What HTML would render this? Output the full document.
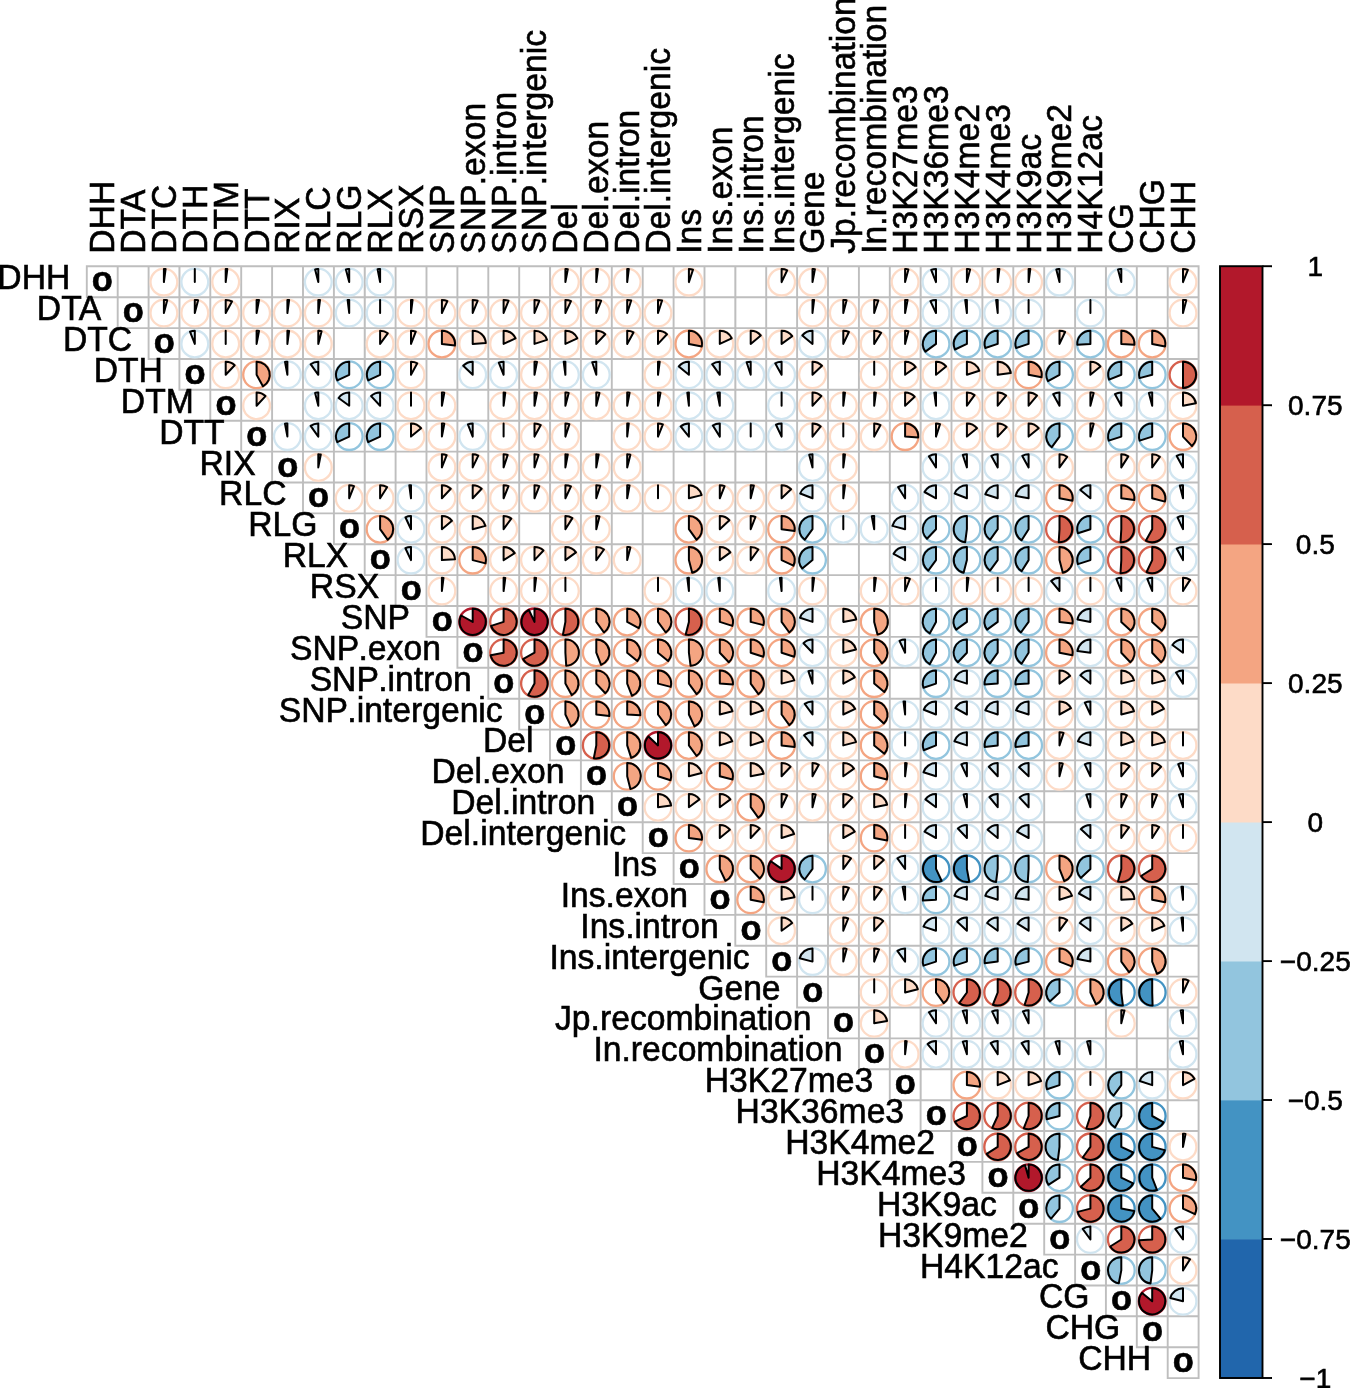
<!DOCTYPE html>
<html><head><meta charset="utf-8"><title>corrplot</title>
<style>html,body{margin:0;padding:0;background:#fff}svg{display:block;will-change:transform}text{font-family:"Liberation Sans",sans-serif;fill:#000;stroke:#000;stroke-width:0.6px;font-kerning:none}</style></head><body>
<svg width="1350" height="1388" viewBox="0 0 1350 1388">
<rect width="1350" height="1388" fill="#fff"/>
<path d="M86.8 266.3h30.9v30.9h-30.9zM117.7 266.3h30.9v30.9h-30.9zM148.6 266.3h30.9v30.9h-30.9zM179.4 266.3h30.9v30.9h-30.9zM210.3 266.3h30.9v30.9h-30.9zM241.2 266.3h30.9v30.9h-30.9zM272.1 266.3h30.9v30.9h-30.9zM303.0 266.3h30.9v30.9h-30.9zM333.9 266.3h30.9v30.9h-30.9zM364.7 266.3h30.9v30.9h-30.9zM395.6 266.3h30.9v30.9h-30.9zM426.5 266.3h30.9v30.9h-30.9zM457.4 266.3h30.9v30.9h-30.9zM488.3 266.3h30.9v30.9h-30.9zM519.2 266.3h30.9v30.9h-30.9zM550.0 266.3h30.9v30.9h-30.9zM580.9 266.3h30.9v30.9h-30.9zM611.8 266.3h30.9v30.9h-30.9zM642.7 266.3h30.9v30.9h-30.9zM673.6 266.3h30.9v30.9h-30.9zM704.5 266.3h30.9v30.9h-30.9zM735.3 266.3h30.9v30.9h-30.9zM766.2 266.3h30.9v30.9h-30.9zM797.1 266.3h30.9v30.9h-30.9zM828.0 266.3h30.9v30.9h-30.9zM858.9 266.3h30.9v30.9h-30.9zM889.8 266.3h30.9v30.9h-30.9zM920.6 266.3h30.9v30.9h-30.9zM951.5 266.3h30.9v30.9h-30.9zM982.4 266.3h30.9v30.9h-30.9zM1013.3 266.3h30.9v30.9h-30.9zM1044.2 266.3h30.9v30.9h-30.9zM1075.1 266.3h30.9v30.9h-30.9zM1105.9 266.3h30.9v30.9h-30.9zM1136.8 266.3h30.9v30.9h-30.9zM1167.7 266.3h30.9v30.9h-30.9zM117.7 297.2h30.9v30.9h-30.9zM148.6 297.2h30.9v30.9h-30.9zM179.4 297.2h30.9v30.9h-30.9zM210.3 297.2h30.9v30.9h-30.9zM241.2 297.2h30.9v30.9h-30.9zM272.1 297.2h30.9v30.9h-30.9zM303.0 297.2h30.9v30.9h-30.9zM333.9 297.2h30.9v30.9h-30.9zM364.7 297.2h30.9v30.9h-30.9zM395.6 297.2h30.9v30.9h-30.9zM426.5 297.2h30.9v30.9h-30.9zM457.4 297.2h30.9v30.9h-30.9zM488.3 297.2h30.9v30.9h-30.9zM519.2 297.2h30.9v30.9h-30.9zM550.0 297.2h30.9v30.9h-30.9zM580.9 297.2h30.9v30.9h-30.9zM611.8 297.2h30.9v30.9h-30.9zM642.7 297.2h30.9v30.9h-30.9zM673.6 297.2h30.9v30.9h-30.9zM704.5 297.2h30.9v30.9h-30.9zM735.3 297.2h30.9v30.9h-30.9zM766.2 297.2h30.9v30.9h-30.9zM797.1 297.2h30.9v30.9h-30.9zM828.0 297.2h30.9v30.9h-30.9zM858.9 297.2h30.9v30.9h-30.9zM889.8 297.2h30.9v30.9h-30.9zM920.6 297.2h30.9v30.9h-30.9zM951.5 297.2h30.9v30.9h-30.9zM982.4 297.2h30.9v30.9h-30.9zM1013.3 297.2h30.9v30.9h-30.9zM1044.2 297.2h30.9v30.9h-30.9zM1075.1 297.2h30.9v30.9h-30.9zM1105.9 297.2h30.9v30.9h-30.9zM1136.8 297.2h30.9v30.9h-30.9zM1167.7 297.2h30.9v30.9h-30.9zM148.6 328.1h30.9v30.9h-30.9zM179.4 328.1h30.9v30.9h-30.9zM210.3 328.1h30.9v30.9h-30.9zM241.2 328.1h30.9v30.9h-30.9zM272.1 328.1h30.9v30.9h-30.9zM303.0 328.1h30.9v30.9h-30.9zM333.9 328.1h30.9v30.9h-30.9zM364.7 328.1h30.9v30.9h-30.9zM395.6 328.1h30.9v30.9h-30.9zM426.5 328.1h30.9v30.9h-30.9zM457.4 328.1h30.9v30.9h-30.9zM488.3 328.1h30.9v30.9h-30.9zM519.2 328.1h30.9v30.9h-30.9zM550.0 328.1h30.9v30.9h-30.9zM580.9 328.1h30.9v30.9h-30.9zM611.8 328.1h30.9v30.9h-30.9zM642.7 328.1h30.9v30.9h-30.9zM673.6 328.1h30.9v30.9h-30.9zM704.5 328.1h30.9v30.9h-30.9zM735.3 328.1h30.9v30.9h-30.9zM766.2 328.1h30.9v30.9h-30.9zM797.1 328.1h30.9v30.9h-30.9zM828.0 328.1h30.9v30.9h-30.9zM858.9 328.1h30.9v30.9h-30.9zM889.8 328.1h30.9v30.9h-30.9zM920.6 328.1h30.9v30.9h-30.9zM951.5 328.1h30.9v30.9h-30.9zM982.4 328.1h30.9v30.9h-30.9zM1013.3 328.1h30.9v30.9h-30.9zM1044.2 328.1h30.9v30.9h-30.9zM1075.1 328.1h30.9v30.9h-30.9zM1105.9 328.1h30.9v30.9h-30.9zM1136.8 328.1h30.9v30.9h-30.9zM1167.7 328.1h30.9v30.9h-30.9zM179.4 358.9h30.9v30.9h-30.9zM210.3 358.9h30.9v30.9h-30.9zM241.2 358.9h30.9v30.9h-30.9zM272.1 358.9h30.9v30.9h-30.9zM303.0 358.9h30.9v30.9h-30.9zM333.9 358.9h30.9v30.9h-30.9zM364.7 358.9h30.9v30.9h-30.9zM395.6 358.9h30.9v30.9h-30.9zM426.5 358.9h30.9v30.9h-30.9zM457.4 358.9h30.9v30.9h-30.9zM488.3 358.9h30.9v30.9h-30.9zM519.2 358.9h30.9v30.9h-30.9zM550.0 358.9h30.9v30.9h-30.9zM580.9 358.9h30.9v30.9h-30.9zM611.8 358.9h30.9v30.9h-30.9zM642.7 358.9h30.9v30.9h-30.9zM673.6 358.9h30.9v30.9h-30.9zM704.5 358.9h30.9v30.9h-30.9zM735.3 358.9h30.9v30.9h-30.9zM766.2 358.9h30.9v30.9h-30.9zM797.1 358.9h30.9v30.9h-30.9zM828.0 358.9h30.9v30.9h-30.9zM858.9 358.9h30.9v30.9h-30.9zM889.8 358.9h30.9v30.9h-30.9zM920.6 358.9h30.9v30.9h-30.9zM951.5 358.9h30.9v30.9h-30.9zM982.4 358.9h30.9v30.9h-30.9zM1013.3 358.9h30.9v30.9h-30.9zM1044.2 358.9h30.9v30.9h-30.9zM1075.1 358.9h30.9v30.9h-30.9zM1105.9 358.9h30.9v30.9h-30.9zM1136.8 358.9h30.9v30.9h-30.9zM1167.7 358.9h30.9v30.9h-30.9zM210.3 389.8h30.9v30.9h-30.9zM241.2 389.8h30.9v30.9h-30.9zM272.1 389.8h30.9v30.9h-30.9zM303.0 389.8h30.9v30.9h-30.9zM333.9 389.8h30.9v30.9h-30.9zM364.7 389.8h30.9v30.9h-30.9zM395.6 389.8h30.9v30.9h-30.9zM426.5 389.8h30.9v30.9h-30.9zM457.4 389.8h30.9v30.9h-30.9zM488.3 389.8h30.9v30.9h-30.9zM519.2 389.8h30.9v30.9h-30.9zM550.0 389.8h30.9v30.9h-30.9zM580.9 389.8h30.9v30.9h-30.9zM611.8 389.8h30.9v30.9h-30.9zM642.7 389.8h30.9v30.9h-30.9zM673.6 389.8h30.9v30.9h-30.9zM704.5 389.8h30.9v30.9h-30.9zM735.3 389.8h30.9v30.9h-30.9zM766.2 389.8h30.9v30.9h-30.9zM797.1 389.8h30.9v30.9h-30.9zM828.0 389.8h30.9v30.9h-30.9zM858.9 389.8h30.9v30.9h-30.9zM889.8 389.8h30.9v30.9h-30.9zM920.6 389.8h30.9v30.9h-30.9zM951.5 389.8h30.9v30.9h-30.9zM982.4 389.8h30.9v30.9h-30.9zM1013.3 389.8h30.9v30.9h-30.9zM1044.2 389.8h30.9v30.9h-30.9zM1075.1 389.8h30.9v30.9h-30.9zM1105.9 389.8h30.9v30.9h-30.9zM1136.8 389.8h30.9v30.9h-30.9zM1167.7 389.8h30.9v30.9h-30.9zM241.2 420.7h30.9v30.9h-30.9zM272.1 420.7h30.9v30.9h-30.9zM303.0 420.7h30.9v30.9h-30.9zM333.9 420.7h30.9v30.9h-30.9zM364.7 420.7h30.9v30.9h-30.9zM395.6 420.7h30.9v30.9h-30.9zM426.5 420.7h30.9v30.9h-30.9zM457.4 420.7h30.9v30.9h-30.9zM488.3 420.7h30.9v30.9h-30.9zM519.2 420.7h30.9v30.9h-30.9zM550.0 420.7h30.9v30.9h-30.9zM580.9 420.7h30.9v30.9h-30.9zM611.8 420.7h30.9v30.9h-30.9zM642.7 420.7h30.9v30.9h-30.9zM673.6 420.7h30.9v30.9h-30.9zM704.5 420.7h30.9v30.9h-30.9zM735.3 420.7h30.9v30.9h-30.9zM766.2 420.7h30.9v30.9h-30.9zM797.1 420.7h30.9v30.9h-30.9zM828.0 420.7h30.9v30.9h-30.9zM858.9 420.7h30.9v30.9h-30.9zM889.8 420.7h30.9v30.9h-30.9zM920.6 420.7h30.9v30.9h-30.9zM951.5 420.7h30.9v30.9h-30.9zM982.4 420.7h30.9v30.9h-30.9zM1013.3 420.7h30.9v30.9h-30.9zM1044.2 420.7h30.9v30.9h-30.9zM1075.1 420.7h30.9v30.9h-30.9zM1105.9 420.7h30.9v30.9h-30.9zM1136.8 420.7h30.9v30.9h-30.9zM1167.7 420.7h30.9v30.9h-30.9zM272.1 451.6h30.9v30.9h-30.9zM303.0 451.6h30.9v30.9h-30.9zM333.9 451.6h30.9v30.9h-30.9zM364.7 451.6h30.9v30.9h-30.9zM395.6 451.6h30.9v30.9h-30.9zM426.5 451.6h30.9v30.9h-30.9zM457.4 451.6h30.9v30.9h-30.9zM488.3 451.6h30.9v30.9h-30.9zM519.2 451.6h30.9v30.9h-30.9zM550.0 451.6h30.9v30.9h-30.9zM580.9 451.6h30.9v30.9h-30.9zM611.8 451.6h30.9v30.9h-30.9zM642.7 451.6h30.9v30.9h-30.9zM673.6 451.6h30.9v30.9h-30.9zM704.5 451.6h30.9v30.9h-30.9zM735.3 451.6h30.9v30.9h-30.9zM766.2 451.6h30.9v30.9h-30.9zM797.1 451.6h30.9v30.9h-30.9zM828.0 451.6h30.9v30.9h-30.9zM858.9 451.6h30.9v30.9h-30.9zM889.8 451.6h30.9v30.9h-30.9zM920.6 451.6h30.9v30.9h-30.9zM951.5 451.6h30.9v30.9h-30.9zM982.4 451.6h30.9v30.9h-30.9zM1013.3 451.6h30.9v30.9h-30.9zM1044.2 451.6h30.9v30.9h-30.9zM1075.1 451.6h30.9v30.9h-30.9zM1105.9 451.6h30.9v30.9h-30.9zM1136.8 451.6h30.9v30.9h-30.9zM1167.7 451.6h30.9v30.9h-30.9zM303.0 482.5h30.9v30.9h-30.9zM333.9 482.5h30.9v30.9h-30.9zM364.7 482.5h30.9v30.9h-30.9zM395.6 482.5h30.9v30.9h-30.9zM426.5 482.5h30.9v30.9h-30.9zM457.4 482.5h30.9v30.9h-30.9zM488.3 482.5h30.9v30.9h-30.9zM519.2 482.5h30.9v30.9h-30.9zM550.0 482.5h30.9v30.9h-30.9zM580.9 482.5h30.9v30.9h-30.9zM611.8 482.5h30.9v30.9h-30.9zM642.7 482.5h30.9v30.9h-30.9zM673.6 482.5h30.9v30.9h-30.9zM704.5 482.5h30.9v30.9h-30.9zM735.3 482.5h30.9v30.9h-30.9zM766.2 482.5h30.9v30.9h-30.9zM797.1 482.5h30.9v30.9h-30.9zM828.0 482.5h30.9v30.9h-30.9zM858.9 482.5h30.9v30.9h-30.9zM889.8 482.5h30.9v30.9h-30.9zM920.6 482.5h30.9v30.9h-30.9zM951.5 482.5h30.9v30.9h-30.9zM982.4 482.5h30.9v30.9h-30.9zM1013.3 482.5h30.9v30.9h-30.9zM1044.2 482.5h30.9v30.9h-30.9zM1075.1 482.5h30.9v30.9h-30.9zM1105.9 482.5h30.9v30.9h-30.9zM1136.8 482.5h30.9v30.9h-30.9zM1167.7 482.5h30.9v30.9h-30.9zM333.9 513.4h30.9v30.9h-30.9zM364.7 513.4h30.9v30.9h-30.9zM395.6 513.4h30.9v30.9h-30.9zM426.5 513.4h30.9v30.9h-30.9zM457.4 513.4h30.9v30.9h-30.9zM488.3 513.4h30.9v30.9h-30.9zM519.2 513.4h30.9v30.9h-30.9zM550.0 513.4h30.9v30.9h-30.9zM580.9 513.4h30.9v30.9h-30.9zM611.8 513.4h30.9v30.9h-30.9zM642.7 513.4h30.9v30.9h-30.9zM673.6 513.4h30.9v30.9h-30.9zM704.5 513.4h30.9v30.9h-30.9zM735.3 513.4h30.9v30.9h-30.9zM766.2 513.4h30.9v30.9h-30.9zM797.1 513.4h30.9v30.9h-30.9zM828.0 513.4h30.9v30.9h-30.9zM858.9 513.4h30.9v30.9h-30.9zM889.8 513.4h30.9v30.9h-30.9zM920.6 513.4h30.9v30.9h-30.9zM951.5 513.4h30.9v30.9h-30.9zM982.4 513.4h30.9v30.9h-30.9zM1013.3 513.4h30.9v30.9h-30.9zM1044.2 513.4h30.9v30.9h-30.9zM1075.1 513.4h30.9v30.9h-30.9zM1105.9 513.4h30.9v30.9h-30.9zM1136.8 513.4h30.9v30.9h-30.9zM1167.7 513.4h30.9v30.9h-30.9zM364.7 544.2h30.9v30.9h-30.9zM395.6 544.2h30.9v30.9h-30.9zM426.5 544.2h30.9v30.9h-30.9zM457.4 544.2h30.9v30.9h-30.9zM488.3 544.2h30.9v30.9h-30.9zM519.2 544.2h30.9v30.9h-30.9zM550.0 544.2h30.9v30.9h-30.9zM580.9 544.2h30.9v30.9h-30.9zM611.8 544.2h30.9v30.9h-30.9zM642.7 544.2h30.9v30.9h-30.9zM673.6 544.2h30.9v30.9h-30.9zM704.5 544.2h30.9v30.9h-30.9zM735.3 544.2h30.9v30.9h-30.9zM766.2 544.2h30.9v30.9h-30.9zM797.1 544.2h30.9v30.9h-30.9zM828.0 544.2h30.9v30.9h-30.9zM858.9 544.2h30.9v30.9h-30.9zM889.8 544.2h30.9v30.9h-30.9zM920.6 544.2h30.9v30.9h-30.9zM951.5 544.2h30.9v30.9h-30.9zM982.4 544.2h30.9v30.9h-30.9zM1013.3 544.2h30.9v30.9h-30.9zM1044.2 544.2h30.9v30.9h-30.9zM1075.1 544.2h30.9v30.9h-30.9zM1105.9 544.2h30.9v30.9h-30.9zM1136.8 544.2h30.9v30.9h-30.9zM1167.7 544.2h30.9v30.9h-30.9zM395.6 575.1h30.9v30.9h-30.9zM426.5 575.1h30.9v30.9h-30.9zM457.4 575.1h30.9v30.9h-30.9zM488.3 575.1h30.9v30.9h-30.9zM519.2 575.1h30.9v30.9h-30.9zM550.0 575.1h30.9v30.9h-30.9zM580.9 575.1h30.9v30.9h-30.9zM611.8 575.1h30.9v30.9h-30.9zM642.7 575.1h30.9v30.9h-30.9zM673.6 575.1h30.9v30.9h-30.9zM704.5 575.1h30.9v30.9h-30.9zM735.3 575.1h30.9v30.9h-30.9zM766.2 575.1h30.9v30.9h-30.9zM797.1 575.1h30.9v30.9h-30.9zM828.0 575.1h30.9v30.9h-30.9zM858.9 575.1h30.9v30.9h-30.9zM889.8 575.1h30.9v30.9h-30.9zM920.6 575.1h30.9v30.9h-30.9zM951.5 575.1h30.9v30.9h-30.9zM982.4 575.1h30.9v30.9h-30.9zM1013.3 575.1h30.9v30.9h-30.9zM1044.2 575.1h30.9v30.9h-30.9zM1075.1 575.1h30.9v30.9h-30.9zM1105.9 575.1h30.9v30.9h-30.9zM1136.8 575.1h30.9v30.9h-30.9zM1167.7 575.1h30.9v30.9h-30.9zM426.5 606.0h30.9v30.9h-30.9zM457.4 606.0h30.9v30.9h-30.9zM488.3 606.0h30.9v30.9h-30.9zM519.2 606.0h30.9v30.9h-30.9zM550.0 606.0h30.9v30.9h-30.9zM580.9 606.0h30.9v30.9h-30.9zM611.8 606.0h30.9v30.9h-30.9zM642.7 606.0h30.9v30.9h-30.9zM673.6 606.0h30.9v30.9h-30.9zM704.5 606.0h30.9v30.9h-30.9zM735.3 606.0h30.9v30.9h-30.9zM766.2 606.0h30.9v30.9h-30.9zM797.1 606.0h30.9v30.9h-30.9zM828.0 606.0h30.9v30.9h-30.9zM858.9 606.0h30.9v30.9h-30.9zM889.8 606.0h30.9v30.9h-30.9zM920.6 606.0h30.9v30.9h-30.9zM951.5 606.0h30.9v30.9h-30.9zM982.4 606.0h30.9v30.9h-30.9zM1013.3 606.0h30.9v30.9h-30.9zM1044.2 606.0h30.9v30.9h-30.9zM1075.1 606.0h30.9v30.9h-30.9zM1105.9 606.0h30.9v30.9h-30.9zM1136.8 606.0h30.9v30.9h-30.9zM1167.7 606.0h30.9v30.9h-30.9zM457.4 636.9h30.9v30.9h-30.9zM488.3 636.9h30.9v30.9h-30.9zM519.2 636.9h30.9v30.9h-30.9zM550.0 636.9h30.9v30.9h-30.9zM580.9 636.9h30.9v30.9h-30.9zM611.8 636.9h30.9v30.9h-30.9zM642.7 636.9h30.9v30.9h-30.9zM673.6 636.9h30.9v30.9h-30.9zM704.5 636.9h30.9v30.9h-30.9zM735.3 636.9h30.9v30.9h-30.9zM766.2 636.9h30.9v30.9h-30.9zM797.1 636.9h30.9v30.9h-30.9zM828.0 636.9h30.9v30.9h-30.9zM858.9 636.9h30.9v30.9h-30.9zM889.8 636.9h30.9v30.9h-30.9zM920.6 636.9h30.9v30.9h-30.9zM951.5 636.9h30.9v30.9h-30.9zM982.4 636.9h30.9v30.9h-30.9zM1013.3 636.9h30.9v30.9h-30.9zM1044.2 636.9h30.9v30.9h-30.9zM1075.1 636.9h30.9v30.9h-30.9zM1105.9 636.9h30.9v30.9h-30.9zM1136.8 636.9h30.9v30.9h-30.9zM1167.7 636.9h30.9v30.9h-30.9zM488.3 667.8h30.9v30.9h-30.9zM519.2 667.8h30.9v30.9h-30.9zM550.0 667.8h30.9v30.9h-30.9zM580.9 667.8h30.9v30.9h-30.9zM611.8 667.8h30.9v30.9h-30.9zM642.7 667.8h30.9v30.9h-30.9zM673.6 667.8h30.9v30.9h-30.9zM704.5 667.8h30.9v30.9h-30.9zM735.3 667.8h30.9v30.9h-30.9zM766.2 667.8h30.9v30.9h-30.9zM797.1 667.8h30.9v30.9h-30.9zM828.0 667.8h30.9v30.9h-30.9zM858.9 667.8h30.9v30.9h-30.9zM889.8 667.8h30.9v30.9h-30.9zM920.6 667.8h30.9v30.9h-30.9zM951.5 667.8h30.9v30.9h-30.9zM982.4 667.8h30.9v30.9h-30.9zM1013.3 667.8h30.9v30.9h-30.9zM1044.2 667.8h30.9v30.9h-30.9zM1075.1 667.8h30.9v30.9h-30.9zM1105.9 667.8h30.9v30.9h-30.9zM1136.8 667.8h30.9v30.9h-30.9zM1167.7 667.8h30.9v30.9h-30.9zM519.2 698.7h30.9v30.9h-30.9zM550.0 698.7h30.9v30.9h-30.9zM580.9 698.7h30.9v30.9h-30.9zM611.8 698.7h30.9v30.9h-30.9zM642.7 698.7h30.9v30.9h-30.9zM673.6 698.7h30.9v30.9h-30.9zM704.5 698.7h30.9v30.9h-30.9zM735.3 698.7h30.9v30.9h-30.9zM766.2 698.7h30.9v30.9h-30.9zM797.1 698.7h30.9v30.9h-30.9zM828.0 698.7h30.9v30.9h-30.9zM858.9 698.7h30.9v30.9h-30.9zM889.8 698.7h30.9v30.9h-30.9zM920.6 698.7h30.9v30.9h-30.9zM951.5 698.7h30.9v30.9h-30.9zM982.4 698.7h30.9v30.9h-30.9zM1013.3 698.7h30.9v30.9h-30.9zM1044.2 698.7h30.9v30.9h-30.9zM1075.1 698.7h30.9v30.9h-30.9zM1105.9 698.7h30.9v30.9h-30.9zM1136.8 698.7h30.9v30.9h-30.9zM1167.7 698.7h30.9v30.9h-30.9zM550.0 729.5h30.9v30.9h-30.9zM580.9 729.5h30.9v30.9h-30.9zM611.8 729.5h30.9v30.9h-30.9zM642.7 729.5h30.9v30.9h-30.9zM673.6 729.5h30.9v30.9h-30.9zM704.5 729.5h30.9v30.9h-30.9zM735.3 729.5h30.9v30.9h-30.9zM766.2 729.5h30.9v30.9h-30.9zM797.1 729.5h30.9v30.9h-30.9zM828.0 729.5h30.9v30.9h-30.9zM858.9 729.5h30.9v30.9h-30.9zM889.8 729.5h30.9v30.9h-30.9zM920.6 729.5h30.9v30.9h-30.9zM951.5 729.5h30.9v30.9h-30.9zM982.4 729.5h30.9v30.9h-30.9zM1013.3 729.5h30.9v30.9h-30.9zM1044.2 729.5h30.9v30.9h-30.9zM1075.1 729.5h30.9v30.9h-30.9zM1105.9 729.5h30.9v30.9h-30.9zM1136.8 729.5h30.9v30.9h-30.9zM1167.7 729.5h30.9v30.9h-30.9zM580.9 760.4h30.9v30.9h-30.9zM611.8 760.4h30.9v30.9h-30.9zM642.7 760.4h30.9v30.9h-30.9zM673.6 760.4h30.9v30.9h-30.9zM704.5 760.4h30.9v30.9h-30.9zM735.3 760.4h30.9v30.9h-30.9zM766.2 760.4h30.9v30.9h-30.9zM797.1 760.4h30.9v30.9h-30.9zM828.0 760.4h30.9v30.9h-30.9zM858.9 760.4h30.9v30.9h-30.9zM889.8 760.4h30.9v30.9h-30.9zM920.6 760.4h30.9v30.9h-30.9zM951.5 760.4h30.9v30.9h-30.9zM982.4 760.4h30.9v30.9h-30.9zM1013.3 760.4h30.9v30.9h-30.9zM1044.2 760.4h30.9v30.9h-30.9zM1075.1 760.4h30.9v30.9h-30.9zM1105.9 760.4h30.9v30.9h-30.9zM1136.8 760.4h30.9v30.9h-30.9zM1167.7 760.4h30.9v30.9h-30.9zM611.8 791.3h30.9v30.9h-30.9zM642.7 791.3h30.9v30.9h-30.9zM673.6 791.3h30.9v30.9h-30.9zM704.5 791.3h30.9v30.9h-30.9zM735.3 791.3h30.9v30.9h-30.9zM766.2 791.3h30.9v30.9h-30.9zM797.1 791.3h30.9v30.9h-30.9zM828.0 791.3h30.9v30.9h-30.9zM858.9 791.3h30.9v30.9h-30.9zM889.8 791.3h30.9v30.9h-30.9zM920.6 791.3h30.9v30.9h-30.9zM951.5 791.3h30.9v30.9h-30.9zM982.4 791.3h30.9v30.9h-30.9zM1013.3 791.3h30.9v30.9h-30.9zM1044.2 791.3h30.9v30.9h-30.9zM1075.1 791.3h30.9v30.9h-30.9zM1105.9 791.3h30.9v30.9h-30.9zM1136.8 791.3h30.9v30.9h-30.9zM1167.7 791.3h30.9v30.9h-30.9zM642.7 822.2h30.9v30.9h-30.9zM673.6 822.2h30.9v30.9h-30.9zM704.5 822.2h30.9v30.9h-30.9zM735.3 822.2h30.9v30.9h-30.9zM766.2 822.2h30.9v30.9h-30.9zM797.1 822.2h30.9v30.9h-30.9zM828.0 822.2h30.9v30.9h-30.9zM858.9 822.2h30.9v30.9h-30.9zM889.8 822.2h30.9v30.9h-30.9zM920.6 822.2h30.9v30.9h-30.9zM951.5 822.2h30.9v30.9h-30.9zM982.4 822.2h30.9v30.9h-30.9zM1013.3 822.2h30.9v30.9h-30.9zM1044.2 822.2h30.9v30.9h-30.9zM1075.1 822.2h30.9v30.9h-30.9zM1105.9 822.2h30.9v30.9h-30.9zM1136.8 822.2h30.9v30.9h-30.9zM1167.7 822.2h30.9v30.9h-30.9zM673.6 853.1h30.9v30.9h-30.9zM704.5 853.1h30.9v30.9h-30.9zM735.3 853.1h30.9v30.9h-30.9zM766.2 853.1h30.9v30.9h-30.9zM797.1 853.1h30.9v30.9h-30.9zM828.0 853.1h30.9v30.9h-30.9zM858.9 853.1h30.9v30.9h-30.9zM889.8 853.1h30.9v30.9h-30.9zM920.6 853.1h30.9v30.9h-30.9zM951.5 853.1h30.9v30.9h-30.9zM982.4 853.1h30.9v30.9h-30.9zM1013.3 853.1h30.9v30.9h-30.9zM1044.2 853.1h30.9v30.9h-30.9zM1075.1 853.1h30.9v30.9h-30.9zM1105.9 853.1h30.9v30.9h-30.9zM1136.8 853.1h30.9v30.9h-30.9zM1167.7 853.1h30.9v30.9h-30.9zM704.5 884.0h30.9v30.9h-30.9zM735.3 884.0h30.9v30.9h-30.9zM766.2 884.0h30.9v30.9h-30.9zM797.1 884.0h30.9v30.9h-30.9zM828.0 884.0h30.9v30.9h-30.9zM858.9 884.0h30.9v30.9h-30.9zM889.8 884.0h30.9v30.9h-30.9zM920.6 884.0h30.9v30.9h-30.9zM951.5 884.0h30.9v30.9h-30.9zM982.4 884.0h30.9v30.9h-30.9zM1013.3 884.0h30.9v30.9h-30.9zM1044.2 884.0h30.9v30.9h-30.9zM1075.1 884.0h30.9v30.9h-30.9zM1105.9 884.0h30.9v30.9h-30.9zM1136.8 884.0h30.9v30.9h-30.9zM1167.7 884.0h30.9v30.9h-30.9zM735.3 914.8h30.9v30.9h-30.9zM766.2 914.8h30.9v30.9h-30.9zM797.1 914.8h30.9v30.9h-30.9zM828.0 914.8h30.9v30.9h-30.9zM858.9 914.8h30.9v30.9h-30.9zM889.8 914.8h30.9v30.9h-30.9zM920.6 914.8h30.9v30.9h-30.9zM951.5 914.8h30.9v30.9h-30.9zM982.4 914.8h30.9v30.9h-30.9zM1013.3 914.8h30.9v30.9h-30.9zM1044.2 914.8h30.9v30.9h-30.9zM1075.1 914.8h30.9v30.9h-30.9zM1105.9 914.8h30.9v30.9h-30.9zM1136.8 914.8h30.9v30.9h-30.9zM1167.7 914.8h30.9v30.9h-30.9zM766.2 945.7h30.9v30.9h-30.9zM797.1 945.7h30.9v30.9h-30.9zM828.0 945.7h30.9v30.9h-30.9zM858.9 945.7h30.9v30.9h-30.9zM889.8 945.7h30.9v30.9h-30.9zM920.6 945.7h30.9v30.9h-30.9zM951.5 945.7h30.9v30.9h-30.9zM982.4 945.7h30.9v30.9h-30.9zM1013.3 945.7h30.9v30.9h-30.9zM1044.2 945.7h30.9v30.9h-30.9zM1075.1 945.7h30.9v30.9h-30.9zM1105.9 945.7h30.9v30.9h-30.9zM1136.8 945.7h30.9v30.9h-30.9zM1167.7 945.7h30.9v30.9h-30.9zM797.1 976.6h30.9v30.9h-30.9zM828.0 976.6h30.9v30.9h-30.9zM858.9 976.6h30.9v30.9h-30.9zM889.8 976.6h30.9v30.9h-30.9zM920.6 976.6h30.9v30.9h-30.9zM951.5 976.6h30.9v30.9h-30.9zM982.4 976.6h30.9v30.9h-30.9zM1013.3 976.6h30.9v30.9h-30.9zM1044.2 976.6h30.9v30.9h-30.9zM1075.1 976.6h30.9v30.9h-30.9zM1105.9 976.6h30.9v30.9h-30.9zM1136.8 976.6h30.9v30.9h-30.9zM1167.7 976.6h30.9v30.9h-30.9zM828.0 1007.5h30.9v30.9h-30.9zM858.9 1007.5h30.9v30.9h-30.9zM889.8 1007.5h30.9v30.9h-30.9zM920.6 1007.5h30.9v30.9h-30.9zM951.5 1007.5h30.9v30.9h-30.9zM982.4 1007.5h30.9v30.9h-30.9zM1013.3 1007.5h30.9v30.9h-30.9zM1044.2 1007.5h30.9v30.9h-30.9zM1075.1 1007.5h30.9v30.9h-30.9zM1105.9 1007.5h30.9v30.9h-30.9zM1136.8 1007.5h30.9v30.9h-30.9zM1167.7 1007.5h30.9v30.9h-30.9zM858.9 1038.4h30.9v30.9h-30.9zM889.8 1038.4h30.9v30.9h-30.9zM920.6 1038.4h30.9v30.9h-30.9zM951.5 1038.4h30.9v30.9h-30.9zM982.4 1038.4h30.9v30.9h-30.9zM1013.3 1038.4h30.9v30.9h-30.9zM1044.2 1038.4h30.9v30.9h-30.9zM1075.1 1038.4h30.9v30.9h-30.9zM1105.9 1038.4h30.9v30.9h-30.9zM1136.8 1038.4h30.9v30.9h-30.9zM1167.7 1038.4h30.9v30.9h-30.9zM889.8 1069.3h30.9v30.9h-30.9zM920.6 1069.3h30.9v30.9h-30.9zM951.5 1069.3h30.9v30.9h-30.9zM982.4 1069.3h30.9v30.9h-30.9zM1013.3 1069.3h30.9v30.9h-30.9zM1044.2 1069.3h30.9v30.9h-30.9zM1075.1 1069.3h30.9v30.9h-30.9zM1105.9 1069.3h30.9v30.9h-30.9zM1136.8 1069.3h30.9v30.9h-30.9zM1167.7 1069.3h30.9v30.9h-30.9zM920.6 1100.1h30.9v30.9h-30.9zM951.5 1100.1h30.9v30.9h-30.9zM982.4 1100.1h30.9v30.9h-30.9zM1013.3 1100.1h30.9v30.9h-30.9zM1044.2 1100.1h30.9v30.9h-30.9zM1075.1 1100.1h30.9v30.9h-30.9zM1105.9 1100.1h30.9v30.9h-30.9zM1136.8 1100.1h30.9v30.9h-30.9zM1167.7 1100.1h30.9v30.9h-30.9zM951.5 1131.0h30.9v30.9h-30.9zM982.4 1131.0h30.9v30.9h-30.9zM1013.3 1131.0h30.9v30.9h-30.9zM1044.2 1131.0h30.9v30.9h-30.9zM1075.1 1131.0h30.9v30.9h-30.9zM1105.9 1131.0h30.9v30.9h-30.9zM1136.8 1131.0h30.9v30.9h-30.9zM1167.7 1131.0h30.9v30.9h-30.9zM982.4 1161.9h30.9v30.9h-30.9zM1013.3 1161.9h30.9v30.9h-30.9zM1044.2 1161.9h30.9v30.9h-30.9zM1075.1 1161.9h30.9v30.9h-30.9zM1105.9 1161.9h30.9v30.9h-30.9zM1136.8 1161.9h30.9v30.9h-30.9zM1167.7 1161.9h30.9v30.9h-30.9zM1013.3 1192.8h30.9v30.9h-30.9zM1044.2 1192.8h30.9v30.9h-30.9zM1075.1 1192.8h30.9v30.9h-30.9zM1105.9 1192.8h30.9v30.9h-30.9zM1136.8 1192.8h30.9v30.9h-30.9zM1167.7 1192.8h30.9v30.9h-30.9zM1044.2 1223.7h30.9v30.9h-30.9zM1075.1 1223.7h30.9v30.9h-30.9zM1105.9 1223.7h30.9v30.9h-30.9zM1136.8 1223.7h30.9v30.9h-30.9zM1167.7 1223.7h30.9v30.9h-30.9zM1075.1 1254.6h30.9v30.9h-30.9zM1105.9 1254.6h30.9v30.9h-30.9zM1136.8 1254.6h30.9v30.9h-30.9zM1167.7 1254.6h30.9v30.9h-30.9zM1105.9 1285.4h30.9v30.9h-30.9zM1136.8 1285.4h30.9v30.9h-30.9zM1167.7 1285.4h30.9v30.9h-30.9zM1136.8 1316.3h30.9v30.9h-30.9zM1167.7 1316.3h30.9v30.9h-30.9zM1167.7 1347.2h30.9v30.9h-30.9z" fill="none" stroke="#BEBEBE" stroke-width="1.9"/>
<circle cx="163.9" cy="282.1" r="13.4" fill="none" stroke="#FDDBC7" stroke-width="2.3"/>
<path d="M163.9 282.1L163.9 269.0L165.6 269.1z" fill="#FDDBC7" stroke="#000" stroke-width="2.0" stroke-linejoin="round"/>
<circle cx="194.8" cy="282.1" r="13.4" fill="none" stroke="#D1E5F0" stroke-width="2.3"/>
<path d="M194.8 282.1L194.8 269.0z" fill="#D1E5F0" stroke="#000" stroke-width="2.0" stroke-linejoin="round"/>
<circle cx="225.7" cy="282.1" r="13.4" fill="none" stroke="#FDDBC7" stroke-width="2.3"/>
<path d="M225.7 282.1L225.7 269.0L227.3 269.1z" fill="#FDDBC7" stroke="#000" stroke-width="2.0" stroke-linejoin="round"/>
<circle cx="318.3" cy="282.1" r="13.4" fill="none" stroke="#D1E5F0" stroke-width="2.3"/>
<path d="M318.3 282.1L318.3 269.0L317.2 269.1L316.1 269.2L315.1 269.4z" fill="#D1E5F0" stroke="#000" stroke-width="2.0" stroke-linejoin="round"/>
<circle cx="349.2" cy="282.1" r="13.4" fill="none" stroke="#D1E5F0" stroke-width="2.3"/>
<path d="M349.2 282.1L349.2 269.0L348.1 269.1L347.0 269.2L345.9 269.4z" fill="#D1E5F0" stroke="#000" stroke-width="2.0" stroke-linejoin="round"/>
<circle cx="380.1" cy="282.1" r="13.4" fill="none" stroke="#D1E5F0" stroke-width="2.3"/>
<path d="M380.1 282.1L380.1 269.0L378.9 269.1L377.6 269.2z" fill="#D1E5F0" stroke="#000" stroke-width="2.0" stroke-linejoin="round"/>
<circle cx="565.4" cy="282.1" r="13.4" fill="none" stroke="#FDDBC7" stroke-width="2.3"/>
<path d="M565.4 282.1L565.4 269.0L566.6 269.1L567.8 269.2z" fill="#FDDBC7" stroke="#000" stroke-width="2.0" stroke-linejoin="round"/>
<circle cx="596.3" cy="282.1" r="13.4" fill="none" stroke="#FDDBC7" stroke-width="2.3"/>
<path d="M596.3 282.1L596.3 269.0L597.9 269.1z" fill="#FDDBC7" stroke="#000" stroke-width="2.0" stroke-linejoin="round"/>
<circle cx="627.2" cy="282.1" r="13.4" fill="none" stroke="#FDDBC7" stroke-width="2.3"/>
<path d="M627.2 282.1L627.2 269.0L628.8 269.1z" fill="#FDDBC7" stroke="#000" stroke-width="2.0" stroke-linejoin="round"/>
<circle cx="688.9" cy="282.1" r="13.4" fill="none" stroke="#FDDBC7" stroke-width="2.3"/>
<path d="M688.9 282.1V269.0A13.1 13.1 0 0 1 693.0 269.7z" fill="#FDDBC7" stroke="#000" stroke-width="2.0" stroke-linejoin="round"/>
<circle cx="781.6" cy="282.1" r="13.4" fill="none" stroke="#FDDBC7" stroke-width="2.3"/>
<path d="M781.6 282.1V269.0A13.1 13.1 0 0 1 787.2 270.3z" fill="#FDDBC7" stroke="#000" stroke-width="2.0" stroke-linejoin="round"/>
<circle cx="812.5" cy="282.1" r="13.4" fill="none" stroke="#FDDBC7" stroke-width="2.3"/>
<path d="M812.5 282.1L812.5 269.0L813.7 269.1L814.9 269.2z" fill="#FDDBC7" stroke="#000" stroke-width="2.0" stroke-linejoin="round"/>
<circle cx="905.1" cy="282.1" r="13.4" fill="none" stroke="#FDDBC7" stroke-width="2.3"/>
<path d="M905.1 282.1L905.1 269.0L906.2 269.1L907.3 269.2L908.4 269.4z" fill="#FDDBC7" stroke="#000" stroke-width="2.0" stroke-linejoin="round"/>
<circle cx="936.0" cy="282.1" r="13.4" fill="none" stroke="#D1E5F0" stroke-width="2.3"/>
<path d="M936.0 282.1V269.0A13.1 13.1 0 0 0 931.2 269.9z" fill="#D1E5F0" stroke="#000" stroke-width="2.0" stroke-linejoin="round"/>
<circle cx="966.9" cy="282.1" r="13.4" fill="none" stroke="#FDDBC7" stroke-width="2.3"/>
<path d="M966.9 282.1L966.9 269.0L968.0 269.1L969.1 269.2L970.1 269.4z" fill="#FDDBC7" stroke="#000" stroke-width="2.0" stroke-linejoin="round"/>
<circle cx="997.7" cy="282.1" r="13.4" fill="none" stroke="#FDDBC7" stroke-width="2.3"/>
<path d="M997.7 282.1L997.7 269.0L999.4 269.1z" fill="#FDDBC7" stroke="#000" stroke-width="2.0" stroke-linejoin="round"/>
<circle cx="1028.6" cy="282.1" r="13.4" fill="none" stroke="#FDDBC7" stroke-width="2.3"/>
<path d="M1028.6 282.1L1028.6 269.0L1030.3 269.1z" fill="#FDDBC7" stroke="#000" stroke-width="2.0" stroke-linejoin="round"/>
<circle cx="1059.5" cy="282.1" r="13.4" fill="none" stroke="#D1E5F0" stroke-width="2.3"/>
<path d="M1059.5 282.1L1059.5 269.0L1058.4 269.1L1057.3 269.2L1056.3 269.4z" fill="#D1E5F0" stroke="#000" stroke-width="2.0" stroke-linejoin="round"/>
<circle cx="1121.3" cy="282.1" r="13.4" fill="none" stroke="#D1E5F0" stroke-width="2.3"/>
<path d="M1121.3 282.1L1121.3 269.0L1120.2 269.1L1119.1 269.2L1118.0 269.4z" fill="#D1E5F0" stroke="#000" stroke-width="2.0" stroke-linejoin="round"/>
<circle cx="1183.0" cy="282.1" r="13.4" fill="none" stroke="#FDDBC7" stroke-width="2.3"/>
<path d="M1183.0 282.1V269.0A13.1 13.1 0 0 1 1187.9 269.9z" fill="#FDDBC7" stroke="#000" stroke-width="2.0" stroke-linejoin="round"/>
<circle cx="163.9" cy="313.0" r="13.4" fill="none" stroke="#FDDBC7" stroke-width="2.3"/>
<path d="M163.9 313.0L163.9 299.9L165.0 299.9L166.1 300.1L167.2 300.3z" fill="#FDDBC7" stroke="#000" stroke-width="2.0" stroke-linejoin="round"/>
<circle cx="194.8" cy="313.0" r="13.4" fill="none" stroke="#FDDBC7" stroke-width="2.3"/>
<path d="M194.8 313.0L194.8 299.9L195.9 299.9L197.0 300.1L198.1 300.3z" fill="#FDDBC7" stroke="#000" stroke-width="2.0" stroke-linejoin="round"/>
<circle cx="225.7" cy="313.0" r="13.4" fill="none" stroke="#FDDBC7" stroke-width="2.3"/>
<path d="M225.7 313.0V299.9A13.1 13.1 0 0 1 232.0 301.5z" fill="#FDDBC7" stroke="#000" stroke-width="2.0" stroke-linejoin="round"/>
<circle cx="256.6" cy="313.0" r="13.4" fill="none" stroke="#FDDBC7" stroke-width="2.3"/>
<path d="M256.6 313.0L256.6 299.9L257.8 300.0L259.0 300.1z" fill="#FDDBC7" stroke="#000" stroke-width="2.0" stroke-linejoin="round"/>
<circle cx="287.4" cy="313.0" r="13.4" fill="none" stroke="#FDDBC7" stroke-width="2.3"/>
<path d="M287.4 313.0L287.4 299.9L289.1 300.0z" fill="#FDDBC7" stroke="#000" stroke-width="2.0" stroke-linejoin="round"/>
<circle cx="318.3" cy="313.0" r="13.4" fill="none" stroke="#FDDBC7" stroke-width="2.3"/>
<path d="M318.3 313.0L318.3 299.9L320.0 300.0z" fill="#FDDBC7" stroke="#000" stroke-width="2.0" stroke-linejoin="round"/>
<circle cx="349.2" cy="313.0" r="13.4" fill="none" stroke="#D1E5F0" stroke-width="2.3"/>
<path d="M349.2 313.0L349.2 299.9L347.6 300.0z" fill="#D1E5F0" stroke="#000" stroke-width="2.0" stroke-linejoin="round"/>
<circle cx="380.1" cy="313.0" r="13.4" fill="none" stroke="#D1E5F0" stroke-width="2.3"/>
<path d="M380.1 313.0L380.1 299.9z" fill="#D1E5F0" stroke="#000" stroke-width="2.0" stroke-linejoin="round"/>
<circle cx="411.0" cy="313.0" r="13.4" fill="none" stroke="#FDDBC7" stroke-width="2.3"/>
<path d="M411.0 313.0L411.0 299.9L412.6 300.0z" fill="#FDDBC7" stroke="#000" stroke-width="2.0" stroke-linejoin="round"/>
<circle cx="441.9" cy="313.0" r="13.4" fill="none" stroke="#FDDBC7" stroke-width="2.3"/>
<path d="M441.9 313.0V299.9A13.1 13.1 0 0 1 447.4 301.1z" fill="#FDDBC7" stroke="#000" stroke-width="2.0" stroke-linejoin="round"/>
<circle cx="472.7" cy="313.0" r="13.4" fill="none" stroke="#FDDBC7" stroke-width="2.3"/>
<path d="M472.7 313.0V299.9A13.1 13.1 0 0 1 477.6 300.8z" fill="#FDDBC7" stroke="#000" stroke-width="2.0" stroke-linejoin="round"/>
<circle cx="503.6" cy="313.0" r="13.4" fill="none" stroke="#FDDBC7" stroke-width="2.3"/>
<path d="M503.6 313.0V299.9A13.1 13.1 0 0 1 508.5 300.8z" fill="#FDDBC7" stroke="#000" stroke-width="2.0" stroke-linejoin="round"/>
<circle cx="534.5" cy="313.0" r="13.4" fill="none" stroke="#FDDBC7" stroke-width="2.3"/>
<path d="M534.5 313.0V299.9A13.1 13.1 0 0 1 539.3 300.8z" fill="#FDDBC7" stroke="#000" stroke-width="2.0" stroke-linejoin="round"/>
<circle cx="565.4" cy="313.0" r="13.4" fill="none" stroke="#FDDBC7" stroke-width="2.3"/>
<path d="M565.4 313.0V299.9A13.1 13.1 0 0 1 571.0 301.1z" fill="#FDDBC7" stroke="#000" stroke-width="2.0" stroke-linejoin="round"/>
<circle cx="596.3" cy="313.0" r="13.4" fill="none" stroke="#FDDBC7" stroke-width="2.3"/>
<path d="M596.3 313.0V299.9A13.1 13.1 0 0 1 601.1 300.8z" fill="#FDDBC7" stroke="#000" stroke-width="2.0" stroke-linejoin="round"/>
<circle cx="627.2" cy="313.0" r="13.4" fill="none" stroke="#FDDBC7" stroke-width="2.3"/>
<path d="M627.2 313.0V299.9A13.1 13.1 0 0 1 631.2 300.5z" fill="#FDDBC7" stroke="#000" stroke-width="2.0" stroke-linejoin="round"/>
<circle cx="658.0" cy="313.0" r="13.4" fill="none" stroke="#FDDBC7" stroke-width="2.3"/>
<path d="M658.0 313.0V299.9A13.1 13.1 0 0 1 662.1 300.5z" fill="#FDDBC7" stroke="#000" stroke-width="2.0" stroke-linejoin="round"/>
<circle cx="812.5" cy="313.0" r="13.4" fill="none" stroke="#FDDBC7" stroke-width="2.3"/>
<path d="M812.5 313.0L812.5 299.9L814.1 300.0z" fill="#FDDBC7" stroke="#000" stroke-width="2.0" stroke-linejoin="round"/>
<circle cx="843.3" cy="313.0" r="13.4" fill="none" stroke="#FDDBC7" stroke-width="2.3"/>
<path d="M843.3 313.0L843.3 299.9L844.4 299.9L845.5 300.1L846.6 300.3z" fill="#FDDBC7" stroke="#000" stroke-width="2.0" stroke-linejoin="round"/>
<circle cx="874.2" cy="313.0" r="13.4" fill="none" stroke="#FDDBC7" stroke-width="2.3"/>
<path d="M874.2 313.0V299.9A13.1 13.1 0 0 1 878.3 300.5z" fill="#FDDBC7" stroke="#000" stroke-width="2.0" stroke-linejoin="round"/>
<circle cx="905.1" cy="313.0" r="13.4" fill="none" stroke="#FDDBC7" stroke-width="2.3"/>
<path d="M905.1 313.0L905.1 299.9L906.3 300.0L907.6 300.1z" fill="#FDDBC7" stroke="#000" stroke-width="2.0" stroke-linejoin="round"/>
<circle cx="936.0" cy="313.0" r="13.4" fill="none" stroke="#D1E5F0" stroke-width="2.3"/>
<path d="M936.0 313.0V299.9A13.1 13.1 0 0 0 930.4 301.1z" fill="#D1E5F0" stroke="#000" stroke-width="2.0" stroke-linejoin="round"/>
<circle cx="966.9" cy="313.0" r="13.4" fill="none" stroke="#D1E5F0" stroke-width="2.3"/>
<path d="M966.9 313.0L966.9 299.9L965.2 300.0z" fill="#D1E5F0" stroke="#000" stroke-width="2.0" stroke-linejoin="round"/>
<circle cx="997.7" cy="313.0" r="13.4" fill="none" stroke="#D1E5F0" stroke-width="2.3"/>
<path d="M997.7 313.0L997.7 299.9L996.1 300.0z" fill="#D1E5F0" stroke="#000" stroke-width="2.0" stroke-linejoin="round"/>
<circle cx="1028.6" cy="313.0" r="13.4" fill="none" stroke="#D1E5F0" stroke-width="2.3"/>
<path d="M1028.6 313.0L1028.6 299.9z" fill="#D1E5F0" stroke="#000" stroke-width="2.0" stroke-linejoin="round"/>
<circle cx="1090.4" cy="313.0" r="13.4" fill="none" stroke="#D1E5F0" stroke-width="2.3"/>
<path d="M1090.4 313.0L1090.4 299.9z" fill="#D1E5F0" stroke="#000" stroke-width="2.0" stroke-linejoin="round"/>
<circle cx="1183.0" cy="313.0" r="13.4" fill="none" stroke="#FDDBC7" stroke-width="2.3"/>
<path d="M1183.0 313.0L1183.0 299.9L1184.1 299.9L1185.2 300.1L1186.3 300.3z" fill="#FDDBC7" stroke="#000" stroke-width="2.0" stroke-linejoin="round"/>
<circle cx="194.8" cy="343.9" r="13.4" fill="none" stroke="#D1E5F0" stroke-width="2.3"/>
<path d="M194.8 343.9V330.8A13.1 13.1 0 0 0 190.0 331.7z" fill="#D1E5F0" stroke="#000" stroke-width="2.0" stroke-linejoin="round"/>
<circle cx="225.7" cy="343.9" r="13.4" fill="none" stroke="#FDDBC7" stroke-width="2.3"/>
<path d="M225.7 343.9L225.7 330.8z" fill="#FDDBC7" stroke="#000" stroke-width="2.0" stroke-linejoin="round"/>
<circle cx="256.6" cy="343.9" r="13.4" fill="none" stroke="#FDDBC7" stroke-width="2.3"/>
<path d="M256.6 343.9L256.6 330.8L257.8 330.8L259.0 331.0z" fill="#FDDBC7" stroke="#000" stroke-width="2.0" stroke-linejoin="round"/>
<circle cx="287.4" cy="343.9" r="13.4" fill="none" stroke="#FDDBC7" stroke-width="2.3"/>
<path d="M287.4 343.9L287.4 330.8L289.1 330.9z" fill="#FDDBC7" stroke="#000" stroke-width="2.0" stroke-linejoin="round"/>
<circle cx="318.3" cy="343.9" r="13.4" fill="none" stroke="#FDDBC7" stroke-width="2.3"/>
<path d="M318.3 343.9L318.3 330.8L319.4 330.8L320.5 331.0L321.6 331.2z" fill="#FDDBC7" stroke="#000" stroke-width="2.0" stroke-linejoin="round"/>
<circle cx="380.1" cy="343.9" r="13.4" fill="none" stroke="#FDDBC7" stroke-width="2.3"/>
<path d="M380.1 343.9V330.8A13.1 13.1 0 0 1 387.8 333.3z" fill="#FDDBC7" stroke="#000" stroke-width="2.0" stroke-linejoin="round"/>
<circle cx="411.0" cy="343.9" r="13.4" fill="none" stroke="#FDDBC7" stroke-width="2.3"/>
<path d="M411.0 343.9V330.8A13.1 13.1 0 0 1 415.8 331.7z" fill="#FDDBC7" stroke="#000" stroke-width="2.0" stroke-linejoin="round"/>
<circle cx="441.9" cy="343.9" r="13.4" fill="none" stroke="#F4A582" stroke-width="2.3"/>
<path d="M441.9 343.9V330.8A13.1 13.1 0 0 1 454.9 345.6z" fill="#F4A582" stroke="#000" stroke-width="2.0" stroke-linejoin="round"/>
<circle cx="472.7" cy="343.9" r="13.4" fill="none" stroke="#FDDBC7" stroke-width="2.3"/>
<path d="M472.7 343.9V330.8A13.1 13.1 0 0 1 485.8 343.1z" fill="#FDDBC7" stroke="#000" stroke-width="2.0" stroke-linejoin="round"/>
<circle cx="503.6" cy="343.9" r="13.4" fill="none" stroke="#FDDBC7" stroke-width="2.3"/>
<path d="M503.6 343.9V330.8A13.1 13.1 0 0 1 515.5 338.3z" fill="#FDDBC7" stroke="#000" stroke-width="2.0" stroke-linejoin="round"/>
<circle cx="534.5" cy="343.9" r="13.4" fill="none" stroke="#FDDBC7" stroke-width="2.3"/>
<path d="M534.5 343.9V330.8A13.1 13.1 0 0 1 547.0 339.9z" fill="#FDDBC7" stroke="#000" stroke-width="2.0" stroke-linejoin="round"/>
<circle cx="565.4" cy="343.9" r="13.4" fill="none" stroke="#FDDBC7" stroke-width="2.3"/>
<path d="M565.4 343.9V330.8A13.1 13.1 0 0 1 577.3 338.3z" fill="#FDDBC7" stroke="#000" stroke-width="2.0" stroke-linejoin="round"/>
<circle cx="596.3" cy="343.9" r="13.4" fill="none" stroke="#FDDBC7" stroke-width="2.3"/>
<path d="M596.3 343.9V330.8A13.1 13.1 0 0 1 605.3 334.3z" fill="#FDDBC7" stroke="#000" stroke-width="2.0" stroke-linejoin="round"/>
<circle cx="627.2" cy="343.9" r="13.4" fill="none" stroke="#FDDBC7" stroke-width="2.3"/>
<path d="M627.2 343.9V330.8A13.1 13.1 0 0 1 633.5 332.4z" fill="#FDDBC7" stroke="#000" stroke-width="2.0" stroke-linejoin="round"/>
<circle cx="658.0" cy="343.9" r="13.4" fill="none" stroke="#FDDBC7" stroke-width="2.3"/>
<path d="M658.0 343.9V330.8A13.1 13.1 0 0 1 667.0 334.3z" fill="#FDDBC7" stroke="#000" stroke-width="2.0" stroke-linejoin="round"/>
<circle cx="688.9" cy="343.9" r="13.4" fill="none" stroke="#F4A582" stroke-width="2.3"/>
<path d="M688.9 343.9V330.8A13.1 13.1 0 0 1 701.8 346.4z" fill="#F4A582" stroke="#000" stroke-width="2.0" stroke-linejoin="round"/>
<circle cx="719.8" cy="343.9" r="13.4" fill="none" stroke="#FDDBC7" stroke-width="2.3"/>
<path d="M719.8 343.9V330.8A13.1 13.1 0 0 1 731.7 338.3z" fill="#FDDBC7" stroke="#000" stroke-width="2.0" stroke-linejoin="round"/>
<circle cx="750.7" cy="343.9" r="13.4" fill="none" stroke="#FDDBC7" stroke-width="2.3"/>
<path d="M750.7 343.9V330.8A13.1 13.1 0 0 1 760.8 335.5z" fill="#FDDBC7" stroke="#000" stroke-width="2.0" stroke-linejoin="round"/>
<circle cx="781.6" cy="343.9" r="13.4" fill="none" stroke="#FDDBC7" stroke-width="2.3"/>
<path d="M781.6 343.9V330.8A13.1 13.1 0 0 1 792.2 336.2z" fill="#FDDBC7" stroke="#000" stroke-width="2.0" stroke-linejoin="round"/>
<circle cx="812.5" cy="343.9" r="13.4" fill="none" stroke="#D1E5F0" stroke-width="2.3"/>
<path d="M812.5 343.9V330.8A13.1 13.1 0 0 0 802.3 335.5z" fill="#D1E5F0" stroke="#000" stroke-width="2.0" stroke-linejoin="round"/>
<circle cx="843.3" cy="343.9" r="13.4" fill="none" stroke="#FDDBC7" stroke-width="2.3"/>
<path d="M843.3 343.9V330.8A13.1 13.1 0 0 1 848.9 332.0z" fill="#FDDBC7" stroke="#000" stroke-width="2.0" stroke-linejoin="round"/>
<circle cx="874.2" cy="343.9" r="13.4" fill="none" stroke="#FDDBC7" stroke-width="2.3"/>
<path d="M874.2 343.9V330.8A13.1 13.1 0 0 1 881.2 332.8z" fill="#FDDBC7" stroke="#000" stroke-width="2.0" stroke-linejoin="round"/>
<circle cx="905.1" cy="343.9" r="13.4" fill="none" stroke="#FDDBC7" stroke-width="2.3"/>
<path d="M905.1 343.9L905.1 330.8L906.2 330.8L907.3 331.0L908.4 331.2z" fill="#FDDBC7" stroke="#000" stroke-width="2.0" stroke-linejoin="round"/>
<circle cx="936.0" cy="343.9" r="13.4" fill="none" stroke="#92C5DE" stroke-width="2.3"/>
<path d="M936.0 343.9V330.8A13.1 13.1 0 0 0 925.4 351.6z" fill="#92C5DE" stroke="#000" stroke-width="2.0" stroke-linejoin="round"/>
<circle cx="966.9" cy="343.9" r="13.4" fill="none" stroke="#92C5DE" stroke-width="2.3"/>
<path d="M966.9 343.9V330.8A13.1 13.1 0 0 0 955.0 349.5z" fill="#92C5DE" stroke="#000" stroke-width="2.0" stroke-linejoin="round"/>
<circle cx="997.7" cy="343.9" r="13.4" fill="none" stroke="#92C5DE" stroke-width="2.3"/>
<path d="M997.7 343.9V330.8A13.1 13.1 0 0 0 985.3 348.0z" fill="#92C5DE" stroke="#000" stroke-width="2.0" stroke-linejoin="round"/>
<circle cx="1028.6" cy="343.9" r="13.4" fill="none" stroke="#92C5DE" stroke-width="2.3"/>
<path d="M1028.6 343.9V330.8A13.1 13.1 0 0 0 1016.1 348.0z" fill="#92C5DE" stroke="#000" stroke-width="2.0" stroke-linejoin="round"/>
<circle cx="1059.5" cy="343.9" r="13.4" fill="none" stroke="#FDDBC7" stroke-width="2.3"/>
<path d="M1059.5 343.9V330.8A13.1 13.1 0 0 1 1065.1 332.0z" fill="#FDDBC7" stroke="#000" stroke-width="2.0" stroke-linejoin="round"/>
<circle cx="1090.4" cy="343.9" r="13.4" fill="none" stroke="#92C5DE" stroke-width="2.3"/>
<path d="M1090.4 343.9V330.8A13.1 13.1 0 0 0 1077.3 344.7z" fill="#92C5DE" stroke="#000" stroke-width="2.0" stroke-linejoin="round"/>
<circle cx="1121.3" cy="343.9" r="13.4" fill="none" stroke="#F4A582" stroke-width="2.3"/>
<path d="M1121.3 343.9V330.8A13.1 13.1 0 0 1 1134.4 344.7z" fill="#F4A582" stroke="#000" stroke-width="2.0" stroke-linejoin="round"/>
<circle cx="1152.2" cy="343.9" r="13.4" fill="none" stroke="#F4A582" stroke-width="2.3"/>
<path d="M1152.2 343.9V330.8A13.1 13.1 0 0 1 1165.1 346.4z" fill="#F4A582" stroke="#000" stroke-width="2.0" stroke-linejoin="round"/>
<circle cx="225.7" cy="374.8" r="13.4" fill="none" stroke="#FDDBC7" stroke-width="2.3"/>
<path d="M225.7 374.8V361.7A13.1 13.1 0 0 1 234.7 365.2z" fill="#FDDBC7" stroke="#000" stroke-width="2.0" stroke-linejoin="round"/>
<circle cx="256.6" cy="374.8" r="13.4" fill="none" stroke="#F4A582" stroke-width="2.3"/>
<path d="M256.6 374.8V361.7A13.1 13.1 0 0 1 262.9 386.3z" fill="#F4A582" stroke="#000" stroke-width="2.0" stroke-linejoin="round"/>
<circle cx="287.4" cy="374.8" r="13.4" fill="none" stroke="#D1E5F0" stroke-width="2.3"/>
<path d="M287.4 374.8L287.4 361.7L286.2 361.7L285.0 361.9z" fill="#D1E5F0" stroke="#000" stroke-width="2.0" stroke-linejoin="round"/>
<circle cx="318.3" cy="374.8" r="13.4" fill="none" stroke="#D1E5F0" stroke-width="2.3"/>
<path d="M318.3 374.8V361.7A13.1 13.1 0 0 0 310.6 364.2z" fill="#D1E5F0" stroke="#000" stroke-width="2.0" stroke-linejoin="round"/>
<circle cx="349.2" cy="374.8" r="13.4" fill="none" stroke="#92C5DE" stroke-width="2.3"/>
<path d="M349.2 374.8V361.7A13.1 13.1 0 0 0 337.3 380.4z" fill="#92C5DE" stroke="#000" stroke-width="2.0" stroke-linejoin="round"/>
<circle cx="380.1" cy="374.8" r="13.4" fill="none" stroke="#92C5DE" stroke-width="2.3"/>
<path d="M380.1 374.8V361.7A13.1 13.1 0 0 0 368.2 380.4z" fill="#92C5DE" stroke="#000" stroke-width="2.0" stroke-linejoin="round"/>
<circle cx="411.0" cy="374.8" r="13.4" fill="none" stroke="#FDDBC7" stroke-width="2.3"/>
<path d="M411.0 374.8V361.7A13.1 13.1 0 0 1 417.3 363.3z" fill="#FDDBC7" stroke="#000" stroke-width="2.0" stroke-linejoin="round"/>
<circle cx="472.7" cy="374.8" r="13.4" fill="none" stroke="#D1E5F0" stroke-width="2.3"/>
<path d="M472.7 374.8V361.7A13.1 13.1 0 0 0 463.2 365.8z" fill="#D1E5F0" stroke="#000" stroke-width="2.0" stroke-linejoin="round"/>
<circle cx="503.6" cy="374.8" r="13.4" fill="none" stroke="#D1E5F0" stroke-width="2.3"/>
<path d="M503.6 374.8V361.7A13.1 13.1 0 0 0 498.8 362.6z" fill="#D1E5F0" stroke="#000" stroke-width="2.0" stroke-linejoin="round"/>
<circle cx="534.5" cy="374.8" r="13.4" fill="none" stroke="#FDDBC7" stroke-width="2.3"/>
<path d="M534.5 374.8L534.5 361.7L535.7 361.7L537.0 361.9z" fill="#FDDBC7" stroke="#000" stroke-width="2.0" stroke-linejoin="round"/>
<circle cx="565.4" cy="374.8" r="13.4" fill="none" stroke="#D1E5F0" stroke-width="2.3"/>
<path d="M565.4 374.8L565.4 361.7L563.7 361.8z" fill="#D1E5F0" stroke="#000" stroke-width="2.0" stroke-linejoin="round"/>
<circle cx="596.3" cy="374.8" r="13.4" fill="none" stroke="#D1E5F0" stroke-width="2.3"/>
<path d="M596.3 374.8V361.7A13.1 13.1 0 0 0 592.2 362.3z" fill="#D1E5F0" stroke="#000" stroke-width="2.0" stroke-linejoin="round"/>
<circle cx="658.0" cy="374.8" r="13.4" fill="none" stroke="#FDDBC7" stroke-width="2.3"/>
<path d="M658.0 374.8L658.0 361.7L659.7 361.8z" fill="#FDDBC7" stroke="#000" stroke-width="2.0" stroke-linejoin="round"/>
<circle cx="688.9" cy="374.8" r="13.4" fill="none" stroke="#D1E5F0" stroke-width="2.3"/>
<path d="M688.9 374.8V361.7A13.1 13.1 0 0 0 678.8 366.4z" fill="#D1E5F0" stroke="#000" stroke-width="2.0" stroke-linejoin="round"/>
<circle cx="719.8" cy="374.8" r="13.4" fill="none" stroke="#D1E5F0" stroke-width="2.3"/>
<path d="M719.8 374.8V361.7A13.1 13.1 0 0 0 712.1 364.2z" fill="#D1E5F0" stroke="#000" stroke-width="2.0" stroke-linejoin="round"/>
<circle cx="750.7" cy="374.8" r="13.4" fill="none" stroke="#D1E5F0" stroke-width="2.3"/>
<path d="M750.7 374.8V361.7A13.1 13.1 0 0 0 746.6 362.3z" fill="#D1E5F0" stroke="#000" stroke-width="2.0" stroke-linejoin="round"/>
<circle cx="781.6" cy="374.8" r="13.4" fill="none" stroke="#D1E5F0" stroke-width="2.3"/>
<path d="M781.6 374.8V361.7A13.1 13.1 0 0 0 775.2 363.3z" fill="#D1E5F0" stroke="#000" stroke-width="2.0" stroke-linejoin="round"/>
<circle cx="812.5" cy="374.8" r="13.4" fill="none" stroke="#FDDBC7" stroke-width="2.3"/>
<path d="M812.5 374.8V361.7A13.1 13.1 0 0 1 822.0 365.8z" fill="#FDDBC7" stroke="#000" stroke-width="2.0" stroke-linejoin="round"/>
<circle cx="874.2" cy="374.8" r="13.4" fill="none" stroke="#FDDBC7" stroke-width="2.3"/>
<path d="M874.2 374.8L874.2 361.7z" fill="#FDDBC7" stroke="#000" stroke-width="2.0" stroke-linejoin="round"/>
<circle cx="905.1" cy="374.8" r="13.4" fill="none" stroke="#FDDBC7" stroke-width="2.3"/>
<path d="M905.1 374.8V361.7A13.1 13.1 0 0 1 915.7 367.1z" fill="#FDDBC7" stroke="#000" stroke-width="2.0" stroke-linejoin="round"/>
<circle cx="936.0" cy="374.8" r="13.4" fill="none" stroke="#FDDBC7" stroke-width="2.3"/>
<path d="M936.0 374.8V361.7A13.1 13.1 0 0 1 946.1 366.4z" fill="#FDDBC7" stroke="#000" stroke-width="2.0" stroke-linejoin="round"/>
<circle cx="966.9" cy="374.8" r="13.4" fill="none" stroke="#FDDBC7" stroke-width="2.3"/>
<path d="M966.9 374.8V361.7A13.1 13.1 0 0 1 979.3 370.7z" fill="#FDDBC7" stroke="#000" stroke-width="2.0" stroke-linejoin="round"/>
<circle cx="997.7" cy="374.8" r="13.4" fill="none" stroke="#FDDBC7" stroke-width="2.3"/>
<path d="M997.7 374.8V361.7A13.1 13.1 0 0 1 1010.8 373.1z" fill="#FDDBC7" stroke="#000" stroke-width="2.0" stroke-linejoin="round"/>
<circle cx="1028.6" cy="374.8" r="13.4" fill="none" stroke="#F4A582" stroke-width="2.3"/>
<path d="M1028.6 374.8V361.7A13.1 13.1 0 0 1 1041.5 377.2z" fill="#F4A582" stroke="#000" stroke-width="2.0" stroke-linejoin="round"/>
<circle cx="1059.5" cy="374.8" r="13.4" fill="none" stroke="#92C5DE" stroke-width="2.3"/>
<path d="M1059.5 374.8V361.7A13.1 13.1 0 0 0 1048.0 381.1z" fill="#92C5DE" stroke="#000" stroke-width="2.0" stroke-linejoin="round"/>
<circle cx="1090.4" cy="374.8" r="13.4" fill="none" stroke="#FDDBC7" stroke-width="2.3"/>
<path d="M1090.4 374.8V361.7A13.1 13.1 0 0 1 1100.5 366.4z" fill="#FDDBC7" stroke="#000" stroke-width="2.0" stroke-linejoin="round"/>
<circle cx="1121.3" cy="374.8" r="13.4" fill="none" stroke="#92C5DE" stroke-width="2.3"/>
<path d="M1121.3 374.8V361.7A13.1 13.1 0 0 0 1109.1 379.6z" fill="#92C5DE" stroke="#000" stroke-width="2.0" stroke-linejoin="round"/>
<circle cx="1152.2" cy="374.8" r="13.4" fill="none" stroke="#92C5DE" stroke-width="2.3"/>
<path d="M1152.2 374.8V361.7A13.1 13.1 0 0 0 1139.5 378.1z" fill="#92C5DE" stroke="#000" stroke-width="2.0" stroke-linejoin="round"/>
<circle cx="1183.0" cy="374.8" r="13.4" fill="none" stroke="#D6604D" stroke-width="2.3"/>
<path d="M1183.0 374.8V361.7A13.1 13.1 0 0 1 1183.0 387.9z" fill="#D6604D" stroke="#000" stroke-width="2.0" stroke-linejoin="round"/>
<circle cx="256.6" cy="405.7" r="13.4" fill="none" stroke="#FDDBC7" stroke-width="2.3"/>
<path d="M256.6 405.7V392.5A13.1 13.1 0 0 1 265.5 396.1z" fill="#FDDBC7" stroke="#000" stroke-width="2.0" stroke-linejoin="round"/>
<circle cx="318.3" cy="405.7" r="13.4" fill="none" stroke="#D1E5F0" stroke-width="2.3"/>
<path d="M318.3 405.7L318.3 392.5L317.2 392.6L316.1 392.7L315.1 393.0z" fill="#D1E5F0" stroke="#000" stroke-width="2.0" stroke-linejoin="round"/>
<circle cx="349.2" cy="405.7" r="13.4" fill="none" stroke="#D1E5F0" stroke-width="2.3"/>
<path d="M349.2 405.7V392.5A13.1 13.1 0 0 0 338.6 398.0z" fill="#D1E5F0" stroke="#000" stroke-width="2.0" stroke-linejoin="round"/>
<circle cx="380.1" cy="405.7" r="13.4" fill="none" stroke="#D1E5F0" stroke-width="2.3"/>
<path d="M380.1 405.7V392.5A13.1 13.1 0 0 0 371.1 396.1z" fill="#D1E5F0" stroke="#000" stroke-width="2.0" stroke-linejoin="round"/>
<circle cx="411.0" cy="405.7" r="13.4" fill="none" stroke="#FDDBC7" stroke-width="2.3"/>
<path d="M411.0 405.7L411.0 392.5z" fill="#FDDBC7" stroke="#000" stroke-width="2.0" stroke-linejoin="round"/>
<circle cx="441.9" cy="405.7" r="13.4" fill="none" stroke="#FDDBC7" stroke-width="2.3"/>
<path d="M441.9 405.7L441.9 392.5L443.1 392.6L444.3 392.8z" fill="#FDDBC7" stroke="#000" stroke-width="2.0" stroke-linejoin="round"/>
<circle cx="503.6" cy="405.7" r="13.4" fill="none" stroke="#FDDBC7" stroke-width="2.3"/>
<path d="M503.6 405.7L503.6 392.5L505.3 392.7z" fill="#FDDBC7" stroke="#000" stroke-width="2.0" stroke-linejoin="round"/>
<circle cx="534.5" cy="405.7" r="13.4" fill="none" stroke="#FDDBC7" stroke-width="2.3"/>
<path d="M534.5 405.7L534.5 392.5L535.7 392.6L537.0 392.8z" fill="#FDDBC7" stroke="#000" stroke-width="2.0" stroke-linejoin="round"/>
<circle cx="565.4" cy="405.7" r="13.4" fill="none" stroke="#FDDBC7" stroke-width="2.3"/>
<path d="M565.4 405.7L565.4 392.5L566.5 392.6L567.6 392.7L568.7 393.0z" fill="#FDDBC7" stroke="#000" stroke-width="2.0" stroke-linejoin="round"/>
<circle cx="596.3" cy="405.7" r="13.4" fill="none" stroke="#FDDBC7" stroke-width="2.3"/>
<path d="M596.3 405.7L596.3 392.5L597.4 392.6L598.5 392.7L599.5 393.0z" fill="#FDDBC7" stroke="#000" stroke-width="2.0" stroke-linejoin="round"/>
<circle cx="627.2" cy="405.7" r="13.4" fill="none" stroke="#FDDBC7" stroke-width="2.3"/>
<path d="M627.2 405.7L627.2 392.5L628.4 392.6L629.6 392.8z" fill="#FDDBC7" stroke="#000" stroke-width="2.0" stroke-linejoin="round"/>
<circle cx="658.0" cy="405.7" r="13.4" fill="none" stroke="#FDDBC7" stroke-width="2.3"/>
<path d="M658.0 405.7L658.0 392.5L659.3 392.6L660.5 392.8z" fill="#FDDBC7" stroke="#000" stroke-width="2.0" stroke-linejoin="round"/>
<circle cx="688.9" cy="405.7" r="13.4" fill="none" stroke="#D1E5F0" stroke-width="2.3"/>
<path d="M688.9 405.7L688.9 392.5L687.3 392.7z" fill="#D1E5F0" stroke="#000" stroke-width="2.0" stroke-linejoin="round"/>
<circle cx="719.8" cy="405.7" r="13.4" fill="none" stroke="#D1E5F0" stroke-width="2.3"/>
<path d="M719.8 405.7L719.8 392.5L718.6 392.6L717.3 392.8z" fill="#D1E5F0" stroke="#000" stroke-width="2.0" stroke-linejoin="round"/>
<circle cx="781.6" cy="405.7" r="13.4" fill="none" stroke="#D1E5F0" stroke-width="2.3"/>
<path d="M781.6 405.7L781.6 392.5z" fill="#D1E5F0" stroke="#000" stroke-width="2.0" stroke-linejoin="round"/>
<circle cx="812.5" cy="405.7" r="13.4" fill="none" stroke="#FDDBC7" stroke-width="2.3"/>
<path d="M812.5 405.7V392.5A13.1 13.1 0 0 1 821.4 396.1z" fill="#FDDBC7" stroke="#000" stroke-width="2.0" stroke-linejoin="round"/>
<circle cx="843.3" cy="405.7" r="13.4" fill="none" stroke="#FDDBC7" stroke-width="2.3"/>
<path d="M843.3 405.7L843.3 392.5L845.0 392.7z" fill="#FDDBC7" stroke="#000" stroke-width="2.0" stroke-linejoin="round"/>
<circle cx="874.2" cy="405.7" r="13.4" fill="none" stroke="#FDDBC7" stroke-width="2.3"/>
<path d="M874.2 405.7L874.2 392.5L875.9 392.7z" fill="#FDDBC7" stroke="#000" stroke-width="2.0" stroke-linejoin="round"/>
<circle cx="905.1" cy="405.7" r="13.4" fill="none" stroke="#FDDBC7" stroke-width="2.3"/>
<path d="M905.1 405.7V392.5A13.1 13.1 0 0 1 914.7 396.7z" fill="#FDDBC7" stroke="#000" stroke-width="2.0" stroke-linejoin="round"/>
<circle cx="936.0" cy="405.7" r="13.4" fill="none" stroke="#D1E5F0" stroke-width="2.3"/>
<path d="M936.0 405.7L936.0 392.5L934.3 392.7z" fill="#D1E5F0" stroke="#000" stroke-width="2.0" stroke-linejoin="round"/>
<circle cx="966.9" cy="405.7" r="13.4" fill="none" stroke="#FDDBC7" stroke-width="2.3"/>
<path d="M966.9 405.7V392.5A13.1 13.1 0 0 1 974.6 395.1z" fill="#FDDBC7" stroke="#000" stroke-width="2.0" stroke-linejoin="round"/>
<circle cx="997.7" cy="405.7" r="13.4" fill="none" stroke="#FDDBC7" stroke-width="2.3"/>
<path d="M997.7 405.7V392.5A13.1 13.1 0 0 1 1006.1 395.6z" fill="#FDDBC7" stroke="#000" stroke-width="2.0" stroke-linejoin="round"/>
<circle cx="1028.6" cy="405.7" r="13.4" fill="none" stroke="#FDDBC7" stroke-width="2.3"/>
<path d="M1028.6 405.7V392.5A13.1 13.1 0 0 1 1037.0 395.6z" fill="#FDDBC7" stroke="#000" stroke-width="2.0" stroke-linejoin="round"/>
<circle cx="1059.5" cy="405.7" r="13.4" fill="none" stroke="#D1E5F0" stroke-width="2.3"/>
<path d="M1059.5 405.7V392.5A13.1 13.1 0 0 0 1053.2 394.2z" fill="#D1E5F0" stroke="#000" stroke-width="2.0" stroke-linejoin="round"/>
<circle cx="1090.4" cy="405.7" r="13.4" fill="none" stroke="#FDDBC7" stroke-width="2.3"/>
<path d="M1090.4 405.7L1090.4 392.5L1091.5 392.6L1092.6 392.7L1093.7 393.0z" fill="#FDDBC7" stroke="#000" stroke-width="2.0" stroke-linejoin="round"/>
<circle cx="1121.3" cy="405.7" r="13.4" fill="none" stroke="#D1E5F0" stroke-width="2.3"/>
<path d="M1121.3 405.7V392.5A13.1 13.1 0 0 0 1115.0 394.2z" fill="#D1E5F0" stroke="#000" stroke-width="2.0" stroke-linejoin="round"/>
<circle cx="1152.2" cy="405.7" r="13.4" fill="none" stroke="#D1E5F0" stroke-width="2.3"/>
<path d="M1152.2 405.7L1152.2 392.5L1151.1 392.6L1150.0 392.7L1148.9 393.0z" fill="#D1E5F0" stroke="#000" stroke-width="2.0" stroke-linejoin="round"/>
<circle cx="1183.0" cy="405.7" r="13.4" fill="none" stroke="#FDDBC7" stroke-width="2.3"/>
<path d="M1183.0 405.7V392.5A13.1 13.1 0 0 1 1195.9 403.2z" fill="#FDDBC7" stroke="#000" stroke-width="2.0" stroke-linejoin="round"/>
<circle cx="287.4" cy="436.6" r="13.4" fill="none" stroke="#D1E5F0" stroke-width="2.3"/>
<path d="M287.4 436.6L287.4 423.4L286.2 423.5L285.0 423.7z" fill="#D1E5F0" stroke="#000" stroke-width="2.0" stroke-linejoin="round"/>
<circle cx="318.3" cy="436.6" r="13.4" fill="none" stroke="#D1E5F0" stroke-width="2.3"/>
<path d="M318.3 436.6V423.4A13.1 13.1 0 0 0 310.6 425.9z" fill="#D1E5F0" stroke="#000" stroke-width="2.0" stroke-linejoin="round"/>
<circle cx="349.2" cy="436.6" r="13.4" fill="none" stroke="#92C5DE" stroke-width="2.3"/>
<path d="M349.2 436.6V423.4A13.1 13.1 0 0 0 337.3 442.1z" fill="#92C5DE" stroke="#000" stroke-width="2.0" stroke-linejoin="round"/>
<circle cx="380.1" cy="436.6" r="13.4" fill="none" stroke="#92C5DE" stroke-width="2.3"/>
<path d="M380.1 436.6V423.4A13.1 13.1 0 0 0 368.2 442.1z" fill="#92C5DE" stroke="#000" stroke-width="2.0" stroke-linejoin="round"/>
<circle cx="411.0" cy="436.6" r="13.4" fill="none" stroke="#FDDBC7" stroke-width="2.3"/>
<path d="M411.0 436.6V423.4A13.1 13.1 0 0 1 421.1 428.2z" fill="#FDDBC7" stroke="#000" stroke-width="2.0" stroke-linejoin="round"/>
<circle cx="441.9" cy="436.6" r="13.4" fill="none" stroke="#FDDBC7" stroke-width="2.3"/>
<path d="M441.9 436.6L441.9 423.4L443.1 423.5L444.3 423.7z" fill="#FDDBC7" stroke="#000" stroke-width="2.0" stroke-linejoin="round"/>
<circle cx="472.7" cy="436.6" r="13.4" fill="none" stroke="#D1E5F0" stroke-width="2.3"/>
<path d="M472.7 436.6V423.4A13.1 13.1 0 0 0 467.9 424.4z" fill="#D1E5F0" stroke="#000" stroke-width="2.0" stroke-linejoin="round"/>
<circle cx="503.6" cy="436.6" r="13.4" fill="none" stroke="#FDDBC7" stroke-width="2.3"/>
<path d="M503.6 436.6L503.6 423.4z" fill="#FDDBC7" stroke="#000" stroke-width="2.0" stroke-linejoin="round"/>
<circle cx="534.5" cy="436.6" r="13.4" fill="none" stroke="#FDDBC7" stroke-width="2.3"/>
<path d="M534.5 436.6V423.4A13.1 13.1 0 0 1 540.8 425.1z" fill="#FDDBC7" stroke="#000" stroke-width="2.0" stroke-linejoin="round"/>
<circle cx="565.4" cy="436.6" r="13.4" fill="none" stroke="#FDDBC7" stroke-width="2.3"/>
<path d="M565.4 436.6V423.4A13.1 13.1 0 0 1 569.4 424.1z" fill="#FDDBC7" stroke="#000" stroke-width="2.0" stroke-linejoin="round"/>
<circle cx="627.2" cy="436.6" r="13.4" fill="none" stroke="#FDDBC7" stroke-width="2.3"/>
<path d="M627.2 436.6L627.2 423.4L628.8 423.5z" fill="#FDDBC7" stroke="#000" stroke-width="2.0" stroke-linejoin="round"/>
<circle cx="658.0" cy="436.6" r="13.4" fill="none" stroke="#FDDBC7" stroke-width="2.3"/>
<path d="M658.0 436.6V423.4A13.1 13.1 0 0 1 662.9 424.4z" fill="#FDDBC7" stroke="#000" stroke-width="2.0" stroke-linejoin="round"/>
<circle cx="688.9" cy="436.6" r="13.4" fill="none" stroke="#D1E5F0" stroke-width="2.3"/>
<path d="M688.9 436.6V423.4A13.1 13.1 0 0 0 680.6 426.4z" fill="#D1E5F0" stroke="#000" stroke-width="2.0" stroke-linejoin="round"/>
<circle cx="719.8" cy="436.6" r="13.4" fill="none" stroke="#D1E5F0" stroke-width="2.3"/>
<path d="M719.8 436.6V423.4A13.1 13.1 0 0 0 712.8 425.5z" fill="#D1E5F0" stroke="#000" stroke-width="2.0" stroke-linejoin="round"/>
<circle cx="750.7" cy="436.6" r="13.4" fill="none" stroke="#D1E5F0" stroke-width="2.3"/>
<path d="M750.7 436.6L750.7 423.4z" fill="#D1E5F0" stroke="#000" stroke-width="2.0" stroke-linejoin="round"/>
<circle cx="781.6" cy="436.6" r="13.4" fill="none" stroke="#D1E5F0" stroke-width="2.3"/>
<path d="M781.6 436.6V423.4A13.1 13.1 0 0 0 776.0 424.7z" fill="#D1E5F0" stroke="#000" stroke-width="2.0" stroke-linejoin="round"/>
<circle cx="812.5" cy="436.6" r="13.4" fill="none" stroke="#FDDBC7" stroke-width="2.3"/>
<path d="M812.5 436.6V423.4A13.1 13.1 0 0 1 820.8 426.4z" fill="#FDDBC7" stroke="#000" stroke-width="2.0" stroke-linejoin="round"/>
<circle cx="843.3" cy="436.6" r="13.4" fill="none" stroke="#FDDBC7" stroke-width="2.3"/>
<path d="M843.3 436.6L843.3 423.4z" fill="#FDDBC7" stroke="#000" stroke-width="2.0" stroke-linejoin="round"/>
<circle cx="874.2" cy="436.6" r="13.4" fill="none" stroke="#FDDBC7" stroke-width="2.3"/>
<path d="M874.2 436.6V423.4A13.1 13.1 0 0 1 880.5 425.1z" fill="#FDDBC7" stroke="#000" stroke-width="2.0" stroke-linejoin="round"/>
<circle cx="905.1" cy="436.6" r="13.4" fill="none" stroke="#F4A582" stroke-width="2.3"/>
<path d="M905.1 436.6V423.4A13.1 13.1 0 0 1 918.2 437.4z" fill="#F4A582" stroke="#000" stroke-width="2.0" stroke-linejoin="round"/>
<circle cx="936.0" cy="436.6" r="13.4" fill="none" stroke="#FDDBC7" stroke-width="2.3"/>
<path d="M936.0 436.6V423.4A13.1 13.1 0 0 1 940.0 424.1z" fill="#FDDBC7" stroke="#000" stroke-width="2.0" stroke-linejoin="round"/>
<circle cx="966.9" cy="436.6" r="13.4" fill="none" stroke="#FDDBC7" stroke-width="2.3"/>
<path d="M966.9 436.6V423.4A13.1 13.1 0 0 1 977.0 428.2z" fill="#FDDBC7" stroke="#000" stroke-width="2.0" stroke-linejoin="round"/>
<circle cx="997.7" cy="436.6" r="13.4" fill="none" stroke="#FDDBC7" stroke-width="2.3"/>
<path d="M997.7 436.6V423.4A13.1 13.1 0 0 1 1006.7 427.0z" fill="#FDDBC7" stroke="#000" stroke-width="2.0" stroke-linejoin="round"/>
<circle cx="1028.6" cy="436.6" r="13.4" fill="none" stroke="#FDDBC7" stroke-width="2.3"/>
<path d="M1028.6 436.6V423.4A13.1 13.1 0 0 1 1038.7 428.2z" fill="#FDDBC7" stroke="#000" stroke-width="2.0" stroke-linejoin="round"/>
<circle cx="1059.5" cy="436.6" r="13.4" fill="none" stroke="#92C5DE" stroke-width="2.3"/>
<path d="M1059.5 436.6V423.4A13.1 13.1 0 0 0 1051.8 447.2z" fill="#92C5DE" stroke="#000" stroke-width="2.0" stroke-linejoin="round"/>
<circle cx="1090.4" cy="436.6" r="13.4" fill="none" stroke="#FDDBC7" stroke-width="2.3"/>
<path d="M1090.4 436.6L1090.4 423.4L1091.5 423.5L1092.6 423.6L1093.7 423.8z" fill="#FDDBC7" stroke="#000" stroke-width="2.0" stroke-linejoin="round"/>
<circle cx="1121.3" cy="436.6" r="13.4" fill="none" stroke="#92C5DE" stroke-width="2.3"/>
<path d="M1121.3 436.6V423.4A13.1 13.1 0 0 0 1108.8 440.6z" fill="#92C5DE" stroke="#000" stroke-width="2.0" stroke-linejoin="round"/>
<circle cx="1152.2" cy="436.6" r="13.4" fill="none" stroke="#92C5DE" stroke-width="2.3"/>
<path d="M1152.2 436.6V423.4A13.1 13.1 0 0 0 1139.7 440.6z" fill="#92C5DE" stroke="#000" stroke-width="2.0" stroke-linejoin="round"/>
<circle cx="1183.0" cy="436.6" r="13.4" fill="none" stroke="#F4A582" stroke-width="2.3"/>
<path d="M1183.0 436.6V423.4A13.1 13.1 0 0 1 1192.0 446.1z" fill="#F4A582" stroke="#000" stroke-width="2.0" stroke-linejoin="round"/>
<circle cx="318.3" cy="467.4" r="13.4" fill="none" stroke="#FDDBC7" stroke-width="2.3"/>
<path d="M318.3 467.4L318.3 454.3L319.6 454.4L320.8 454.5z" fill="#FDDBC7" stroke="#000" stroke-width="2.0" stroke-linejoin="round"/>
<circle cx="441.9" cy="467.4" r="13.4" fill="none" stroke="#FDDBC7" stroke-width="2.3"/>
<path d="M441.9 467.4V454.3A13.1 13.1 0 0 1 446.7 455.2z" fill="#FDDBC7" stroke="#000" stroke-width="2.0" stroke-linejoin="round"/>
<circle cx="472.7" cy="467.4" r="13.4" fill="none" stroke="#FDDBC7" stroke-width="2.3"/>
<path d="M472.7 467.4V454.3A13.1 13.1 0 0 1 478.3 455.6z" fill="#FDDBC7" stroke="#000" stroke-width="2.0" stroke-linejoin="round"/>
<circle cx="503.6" cy="467.4" r="13.4" fill="none" stroke="#FDDBC7" stroke-width="2.3"/>
<path d="M503.6 467.4V454.3A13.1 13.1 0 0 1 507.7 455.0z" fill="#FDDBC7" stroke="#000" stroke-width="2.0" stroke-linejoin="round"/>
<circle cx="534.5" cy="467.4" r="13.4" fill="none" stroke="#FDDBC7" stroke-width="2.3"/>
<path d="M534.5 467.4V454.3A13.1 13.1 0 0 1 538.6 455.0z" fill="#FDDBC7" stroke="#000" stroke-width="2.0" stroke-linejoin="round"/>
<circle cx="565.4" cy="467.4" r="13.4" fill="none" stroke="#FDDBC7" stroke-width="2.3"/>
<path d="M565.4 467.4L565.4 454.3L566.6 454.4L567.8 454.5z" fill="#FDDBC7" stroke="#000" stroke-width="2.0" stroke-linejoin="round"/>
<circle cx="596.3" cy="467.4" r="13.4" fill="none" stroke="#FDDBC7" stroke-width="2.3"/>
<path d="M596.3 467.4L596.3 454.3L597.5 454.4L598.7 454.5z" fill="#FDDBC7" stroke="#000" stroke-width="2.0" stroke-linejoin="round"/>
<circle cx="627.2" cy="467.4" r="13.4" fill="none" stroke="#FDDBC7" stroke-width="2.3"/>
<path d="M627.2 467.4L627.2 454.3L628.3 454.4L629.3 454.5L630.4 454.7z" fill="#FDDBC7" stroke="#000" stroke-width="2.0" stroke-linejoin="round"/>
<circle cx="812.5" cy="467.4" r="13.4" fill="none" stroke="#D1E5F0" stroke-width="2.3"/>
<path d="M812.5 467.4L812.5 454.3L811.4 454.4L810.3 454.5L809.2 454.7z" fill="#D1E5F0" stroke="#000" stroke-width="2.0" stroke-linejoin="round"/>
<circle cx="843.3" cy="467.4" r="13.4" fill="none" stroke="#FDDBC7" stroke-width="2.3"/>
<path d="M843.3 467.4L843.3 454.3L845.0 454.4z" fill="#FDDBC7" stroke="#000" stroke-width="2.0" stroke-linejoin="round"/>
<circle cx="936.0" cy="467.4" r="13.4" fill="none" stroke="#D1E5F0" stroke-width="2.3"/>
<path d="M936.0 467.4V454.3A13.1 13.1 0 0 0 928.9 456.4z" fill="#D1E5F0" stroke="#000" stroke-width="2.0" stroke-linejoin="round"/>
<circle cx="966.9" cy="467.4" r="13.4" fill="none" stroke="#D1E5F0" stroke-width="2.3"/>
<path d="M966.9 467.4V454.3A13.1 13.1 0 0 0 962.8 455.0z" fill="#D1E5F0" stroke="#000" stroke-width="2.0" stroke-linejoin="round"/>
<circle cx="997.7" cy="467.4" r="13.4" fill="none" stroke="#D1E5F0" stroke-width="2.3"/>
<path d="M997.7 467.4V454.3A13.1 13.1 0 0 0 991.4 455.9z" fill="#D1E5F0" stroke="#000" stroke-width="2.0" stroke-linejoin="round"/>
<circle cx="1028.6" cy="467.4" r="13.4" fill="none" stroke="#D1E5F0" stroke-width="2.3"/>
<path d="M1028.6 467.4V454.3A13.1 13.1 0 0 0 1022.3 455.9z" fill="#D1E5F0" stroke="#000" stroke-width="2.0" stroke-linejoin="round"/>
<circle cx="1059.5" cy="467.4" r="13.4" fill="none" stroke="#FDDBC7" stroke-width="2.3"/>
<path d="M1059.5 467.4V454.3A13.1 13.1 0 0 1 1067.2 456.8z" fill="#FDDBC7" stroke="#000" stroke-width="2.0" stroke-linejoin="round"/>
<circle cx="1121.3" cy="467.4" r="13.4" fill="none" stroke="#FDDBC7" stroke-width="2.3"/>
<path d="M1121.3 467.4V454.3A13.1 13.1 0 0 1 1128.3 456.4z" fill="#FDDBC7" stroke="#000" stroke-width="2.0" stroke-linejoin="round"/>
<circle cx="1152.2" cy="467.4" r="13.4" fill="none" stroke="#FDDBC7" stroke-width="2.3"/>
<path d="M1152.2 467.4V454.3A13.1 13.1 0 0 1 1159.9 456.8z" fill="#FDDBC7" stroke="#000" stroke-width="2.0" stroke-linejoin="round"/>
<circle cx="1183.0" cy="467.4" r="13.4" fill="none" stroke="#D1E5F0" stroke-width="2.3"/>
<path d="M1183.0 467.4V454.3A13.1 13.1 0 0 0 1176.7 455.9z" fill="#D1E5F0" stroke="#000" stroke-width="2.0" stroke-linejoin="round"/>
<circle cx="349.2" cy="498.3" r="13.4" fill="none" stroke="#FDDBC7" stroke-width="2.3"/>
<path d="M349.2 498.3V485.2A13.1 13.1 0 0 1 354.0 486.1z" fill="#FDDBC7" stroke="#000" stroke-width="2.0" stroke-linejoin="round"/>
<circle cx="380.1" cy="498.3" r="13.4" fill="none" stroke="#FDDBC7" stroke-width="2.3"/>
<path d="M380.1 498.3V485.2A13.1 13.1 0 0 1 387.1 487.2z" fill="#FDDBC7" stroke="#000" stroke-width="2.0" stroke-linejoin="round"/>
<circle cx="411.0" cy="498.3" r="13.4" fill="none" stroke="#D1E5F0" stroke-width="2.3"/>
<path d="M411.0 498.3L411.0 485.2L409.3 485.3z" fill="#D1E5F0" stroke="#000" stroke-width="2.0" stroke-linejoin="round"/>
<circle cx="441.9" cy="498.3" r="13.4" fill="none" stroke="#FDDBC7" stroke-width="2.3"/>
<path d="M441.9 498.3V485.2A13.1 13.1 0 0 1 450.8 488.8z" fill="#FDDBC7" stroke="#000" stroke-width="2.0" stroke-linejoin="round"/>
<circle cx="472.7" cy="498.3" r="13.4" fill="none" stroke="#FDDBC7" stroke-width="2.3"/>
<path d="M472.7 498.3V485.2A13.1 13.1 0 0 1 481.7 488.8z" fill="#FDDBC7" stroke="#000" stroke-width="2.0" stroke-linejoin="round"/>
<circle cx="503.6" cy="498.3" r="13.4" fill="none" stroke="#FDDBC7" stroke-width="2.3"/>
<path d="M503.6 498.3V485.2A13.1 13.1 0 0 1 508.5 486.1z" fill="#FDDBC7" stroke="#000" stroke-width="2.0" stroke-linejoin="round"/>
<circle cx="534.5" cy="498.3" r="13.4" fill="none" stroke="#FDDBC7" stroke-width="2.3"/>
<path d="M534.5 498.3V485.2A13.1 13.1 0 0 1 539.3 486.1z" fill="#FDDBC7" stroke="#000" stroke-width="2.0" stroke-linejoin="round"/>
<circle cx="565.4" cy="498.3" r="13.4" fill="none" stroke="#FDDBC7" stroke-width="2.3"/>
<path d="M565.4 498.3V485.2A13.1 13.1 0 0 1 571.0 486.4z" fill="#FDDBC7" stroke="#000" stroke-width="2.0" stroke-linejoin="round"/>
<circle cx="596.3" cy="498.3" r="13.4" fill="none" stroke="#FDDBC7" stroke-width="2.3"/>
<path d="M596.3 498.3V485.2A13.1 13.1 0 0 1 600.3 485.8z" fill="#FDDBC7" stroke="#000" stroke-width="2.0" stroke-linejoin="round"/>
<circle cx="627.2" cy="498.3" r="13.4" fill="none" stroke="#FDDBC7" stroke-width="2.3"/>
<path d="M627.2 498.3L627.2 485.2L628.4 485.3L629.6 485.4z" fill="#FDDBC7" stroke="#000" stroke-width="2.0" stroke-linejoin="round"/>
<circle cx="658.0" cy="498.3" r="13.4" fill="none" stroke="#FDDBC7" stroke-width="2.3"/>
<path d="M658.0 498.3L658.0 485.2z" fill="#FDDBC7" stroke="#000" stroke-width="2.0" stroke-linejoin="round"/>
<circle cx="688.9" cy="498.3" r="13.4" fill="none" stroke="#FDDBC7" stroke-width="2.3"/>
<path d="M688.9 498.3V485.2A13.1 13.1 0 0 1 701.6 495.1z" fill="#FDDBC7" stroke="#000" stroke-width="2.0" stroke-linejoin="round"/>
<circle cx="719.8" cy="498.3" r="13.4" fill="none" stroke="#FDDBC7" stroke-width="2.3"/>
<path d="M719.8 498.3V485.2A13.1 13.1 0 0 1 724.6 486.1z" fill="#FDDBC7" stroke="#000" stroke-width="2.0" stroke-linejoin="round"/>
<circle cx="750.7" cy="498.3" r="13.4" fill="none" stroke="#FDDBC7" stroke-width="2.3"/>
<path d="M750.7 498.3L750.7 485.2L751.8 485.2L752.9 485.4L753.9 485.6z" fill="#FDDBC7" stroke="#000" stroke-width="2.0" stroke-linejoin="round"/>
<circle cx="781.6" cy="498.3" r="13.4" fill="none" stroke="#FDDBC7" stroke-width="2.3"/>
<path d="M781.6 498.3V485.2A13.1 13.1 0 0 1 791.1 489.3z" fill="#FDDBC7" stroke="#000" stroke-width="2.0" stroke-linejoin="round"/>
<circle cx="812.5" cy="498.3" r="13.4" fill="none" stroke="#D1E5F0" stroke-width="2.3"/>
<path d="M812.5 498.3V485.2A13.1 13.1 0 0 0 800.2 493.5z" fill="#D1E5F0" stroke="#000" stroke-width="2.0" stroke-linejoin="round"/>
<circle cx="843.3" cy="498.3" r="13.4" fill="none" stroke="#FDDBC7" stroke-width="2.3"/>
<path d="M843.3 498.3L843.3 485.2L845.0 485.3z" fill="#FDDBC7" stroke="#000" stroke-width="2.0" stroke-linejoin="round"/>
<circle cx="905.1" cy="498.3" r="13.4" fill="none" stroke="#D1E5F0" stroke-width="2.3"/>
<path d="M905.1 498.3V485.2A13.1 13.1 0 0 0 898.1 487.2z" fill="#D1E5F0" stroke="#000" stroke-width="2.0" stroke-linejoin="round"/>
<circle cx="936.0" cy="498.3" r="13.4" fill="none" stroke="#D1E5F0" stroke-width="2.3"/>
<path d="M936.0 498.3V485.2A13.1 13.1 0 0 0 924.5 492.0z" fill="#D1E5F0" stroke="#000" stroke-width="2.0" stroke-linejoin="round"/>
<circle cx="966.9" cy="498.3" r="13.4" fill="none" stroke="#D1E5F0" stroke-width="2.3"/>
<path d="M966.9 498.3V485.2A13.1 13.1 0 0 0 954.7 493.5z" fill="#D1E5F0" stroke="#000" stroke-width="2.0" stroke-linejoin="round"/>
<circle cx="997.7" cy="498.3" r="13.4" fill="none" stroke="#D1E5F0" stroke-width="2.3"/>
<path d="M997.7 498.3V485.2A13.1 13.1 0 0 0 985.3 494.3z" fill="#D1E5F0" stroke="#000" stroke-width="2.0" stroke-linejoin="round"/>
<circle cx="1028.6" cy="498.3" r="13.4" fill="none" stroke="#D1E5F0" stroke-width="2.3"/>
<path d="M1028.6 498.3V485.2A13.1 13.1 0 0 0 1015.7 495.9z" fill="#D1E5F0" stroke="#000" stroke-width="2.0" stroke-linejoin="round"/>
<circle cx="1059.5" cy="498.3" r="13.4" fill="none" stroke="#F4A582" stroke-width="2.3"/>
<path d="M1059.5 498.3V485.2A13.1 13.1 0 0 1 1072.4 500.8z" fill="#F4A582" stroke="#000" stroke-width="2.0" stroke-linejoin="round"/>
<circle cx="1090.4" cy="498.3" r="13.4" fill="none" stroke="#D1E5F0" stroke-width="2.3"/>
<path d="M1090.4 498.3V485.2A13.1 13.1 0 0 0 1080.3 490.0z" fill="#D1E5F0" stroke="#000" stroke-width="2.0" stroke-linejoin="round"/>
<circle cx="1121.3" cy="498.3" r="13.4" fill="none" stroke="#F4A582" stroke-width="2.3"/>
<path d="M1121.3 498.3V485.2A13.1 13.1 0 0 1 1134.3 500.0z" fill="#F4A582" stroke="#000" stroke-width="2.0" stroke-linejoin="round"/>
<circle cx="1152.2" cy="498.3" r="13.4" fill="none" stroke="#F4A582" stroke-width="2.3"/>
<path d="M1152.2 498.3V485.2A13.1 13.1 0 0 1 1164.9 501.6z" fill="#F4A582" stroke="#000" stroke-width="2.0" stroke-linejoin="round"/>
<circle cx="1183.0" cy="498.3" r="13.4" fill="none" stroke="#D1E5F0" stroke-width="2.3"/>
<path d="M1183.0 498.3L1183.0 485.2L1181.9 485.2L1180.9 485.4L1179.8 485.6z" fill="#D1E5F0" stroke="#000" stroke-width="2.0" stroke-linejoin="round"/>
<circle cx="380.1" cy="529.2" r="13.4" fill="none" stroke="#F4A582" stroke-width="2.3"/>
<path d="M380.1 529.2V516.1A13.1 13.1 0 0 1 387.8 539.8z" fill="#F4A582" stroke="#000" stroke-width="2.0" stroke-linejoin="round"/>
<circle cx="411.0" cy="529.2" r="13.4" fill="none" stroke="#D1E5F0" stroke-width="2.3"/>
<path d="M411.0 529.2V516.1A13.1 13.1 0 0 0 405.4 517.3z" fill="#D1E5F0" stroke="#000" stroke-width="2.0" stroke-linejoin="round"/>
<circle cx="441.9" cy="529.2" r="13.4" fill="none" stroke="#FDDBC7" stroke-width="2.3"/>
<path d="M441.9 529.2V516.1A13.1 13.1 0 0 1 452.0 520.8z" fill="#FDDBC7" stroke="#000" stroke-width="2.0" stroke-linejoin="round"/>
<circle cx="472.7" cy="529.2" r="13.4" fill="none" stroke="#FDDBC7" stroke-width="2.3"/>
<path d="M472.7 529.2V516.1A13.1 13.1 0 0 1 485.5 525.9z" fill="#FDDBC7" stroke="#000" stroke-width="2.0" stroke-linejoin="round"/>
<circle cx="503.6" cy="529.2" r="13.4" fill="none" stroke="#FDDBC7" stroke-width="2.3"/>
<path d="M503.6 529.2V516.1A13.1 13.1 0 0 1 511.3 518.6z" fill="#FDDBC7" stroke="#000" stroke-width="2.0" stroke-linejoin="round"/>
<circle cx="565.4" cy="529.2" r="13.4" fill="none" stroke="#FDDBC7" stroke-width="2.3"/>
<path d="M565.4 529.2V516.1A13.1 13.1 0 0 1 572.4 518.1z" fill="#FDDBC7" stroke="#000" stroke-width="2.0" stroke-linejoin="round"/>
<circle cx="596.3" cy="529.2" r="13.4" fill="none" stroke="#FDDBC7" stroke-width="2.3"/>
<path d="M596.3 529.2L596.3 516.1L597.4 516.1L598.5 516.3L599.5 516.5z" fill="#FDDBC7" stroke="#000" stroke-width="2.0" stroke-linejoin="round"/>
<circle cx="688.9" cy="529.2" r="13.4" fill="none" stroke="#F4A582" stroke-width="2.3"/>
<path d="M688.9 529.2V516.1A13.1 13.1 0 0 1 696.6 539.8z" fill="#F4A582" stroke="#000" stroke-width="2.0" stroke-linejoin="round"/>
<circle cx="719.8" cy="529.2" r="13.4" fill="none" stroke="#FDDBC7" stroke-width="2.3"/>
<path d="M719.8 529.2V516.1A13.1 13.1 0 0 1 729.4 520.2z" fill="#FDDBC7" stroke="#000" stroke-width="2.0" stroke-linejoin="round"/>
<circle cx="750.7" cy="529.2" r="13.4" fill="none" stroke="#FDDBC7" stroke-width="2.3"/>
<path d="M750.7 529.2V516.1A13.1 13.1 0 0 1 755.5 517.0z" fill="#FDDBC7" stroke="#000" stroke-width="2.0" stroke-linejoin="round"/>
<circle cx="781.6" cy="529.2" r="13.4" fill="none" stroke="#F4A582" stroke-width="2.3"/>
<path d="M781.6 529.2V516.1A13.1 13.1 0 0 1 794.6 530.9z" fill="#F4A582" stroke="#000" stroke-width="2.0" stroke-linejoin="round"/>
<circle cx="812.5" cy="529.2" r="13.4" fill="none" stroke="#92C5DE" stroke-width="2.3"/>
<path d="M812.5 529.2V516.1A13.1 13.1 0 0 0 804.7 539.8z" fill="#92C5DE" stroke="#000" stroke-width="2.0" stroke-linejoin="round"/>
<circle cx="843.3" cy="529.2" r="13.4" fill="none" stroke="#D1E5F0" stroke-width="2.3"/>
<path d="M843.3 529.2L843.3 516.1z" fill="#D1E5F0" stroke="#000" stroke-width="2.0" stroke-linejoin="round"/>
<circle cx="874.2" cy="529.2" r="13.4" fill="none" stroke="#D1E5F0" stroke-width="2.3"/>
<path d="M874.2 529.2L874.2 516.1L873.0 516.1L871.8 516.3z" fill="#D1E5F0" stroke="#000" stroke-width="2.0" stroke-linejoin="round"/>
<circle cx="905.1" cy="529.2" r="13.4" fill="none" stroke="#D1E5F0" stroke-width="2.3"/>
<path d="M905.1 529.2V516.1A13.1 13.1 0 0 0 892.4 525.9z" fill="#D1E5F0" stroke="#000" stroke-width="2.0" stroke-linejoin="round"/>
<circle cx="936.0" cy="529.2" r="13.4" fill="none" stroke="#92C5DE" stroke-width="2.3"/>
<path d="M936.0 529.2V516.1A13.1 13.1 0 0 0 927.0 538.8z" fill="#92C5DE" stroke="#000" stroke-width="2.0" stroke-linejoin="round"/>
<circle cx="966.9" cy="529.2" r="13.4" fill="none" stroke="#92C5DE" stroke-width="2.3"/>
<path d="M966.9 529.2V516.1A13.1 13.1 0 0 0 965.2 542.2z" fill="#92C5DE" stroke="#000" stroke-width="2.0" stroke-linejoin="round"/>
<circle cx="997.7" cy="529.2" r="13.4" fill="none" stroke="#92C5DE" stroke-width="2.3"/>
<path d="M997.7 529.2V516.1A13.1 13.1 0 0 0 990.0 539.8z" fill="#92C5DE" stroke="#000" stroke-width="2.0" stroke-linejoin="round"/>
<circle cx="1028.6" cy="529.2" r="13.4" fill="none" stroke="#92C5DE" stroke-width="2.3"/>
<path d="M1028.6 529.2V516.1A13.1 13.1 0 0 0 1021.6 540.3z" fill="#92C5DE" stroke="#000" stroke-width="2.0" stroke-linejoin="round"/>
<circle cx="1059.5" cy="529.2" r="13.4" fill="none" stroke="#D6604D" stroke-width="2.3"/>
<path d="M1059.5 529.2V516.1A13.1 13.1 0 1 1 1058.7 542.3z" fill="#D6604D" stroke="#000" stroke-width="2.0" stroke-linejoin="round"/>
<circle cx="1090.4" cy="529.2" r="13.4" fill="none" stroke="#92C5DE" stroke-width="2.3"/>
<path d="M1090.4 529.2V516.1A13.1 13.1 0 0 0 1077.9 533.3z" fill="#92C5DE" stroke="#000" stroke-width="2.0" stroke-linejoin="round"/>
<circle cx="1121.3" cy="529.2" r="13.4" fill="none" stroke="#D6604D" stroke-width="2.3"/>
<path d="M1121.3 529.2V516.1A13.1 13.1 0 1 1 1120.5 542.3z" fill="#D6604D" stroke="#000" stroke-width="2.0" stroke-linejoin="round"/>
<circle cx="1152.2" cy="529.2" r="13.4" fill="none" stroke="#D6604D" stroke-width="2.3"/>
<path d="M1152.2 529.2V516.1A13.1 13.1 0 1 1 1145.8 540.7z" fill="#D6604D" stroke="#000" stroke-width="2.0" stroke-linejoin="round"/>
<circle cx="1183.0" cy="529.2" r="13.4" fill="none" stroke="#D1E5F0" stroke-width="2.3"/>
<path d="M1183.0 529.2V516.1A13.1 13.1 0 0 0 1177.5 517.3z" fill="#D1E5F0" stroke="#000" stroke-width="2.0" stroke-linejoin="round"/>
<circle cx="411.0" cy="560.1" r="13.4" fill="none" stroke="#D1E5F0" stroke-width="2.3"/>
<path d="M411.0 560.1V547.0A13.1 13.1 0 0 0 405.4 548.2z" fill="#D1E5F0" stroke="#000" stroke-width="2.0" stroke-linejoin="round"/>
<circle cx="441.9" cy="560.1" r="13.4" fill="none" stroke="#FDDBC7" stroke-width="2.3"/>
<path d="M441.9 560.1V547.0A13.1 13.1 0 0 1 455.0 559.3z" fill="#FDDBC7" stroke="#000" stroke-width="2.0" stroke-linejoin="round"/>
<circle cx="472.7" cy="560.1" r="13.4" fill="none" stroke="#F4A582" stroke-width="2.3"/>
<path d="M472.7 560.1V547.0A13.1 13.1 0 0 1 485.5 563.4z" fill="#F4A582" stroke="#000" stroke-width="2.0" stroke-linejoin="round"/>
<circle cx="503.6" cy="560.1" r="13.4" fill="none" stroke="#FDDBC7" stroke-width="2.3"/>
<path d="M503.6 560.1V547.0A13.1 13.1 0 0 1 514.7 553.1z" fill="#FDDBC7" stroke="#000" stroke-width="2.0" stroke-linejoin="round"/>
<circle cx="534.5" cy="560.1" r="13.4" fill="none" stroke="#FDDBC7" stroke-width="2.3"/>
<path d="M534.5 560.1V547.0A13.1 13.1 0 0 1 543.5 550.5z" fill="#FDDBC7" stroke="#000" stroke-width="2.0" stroke-linejoin="round"/>
<circle cx="565.4" cy="560.1" r="13.4" fill="none" stroke="#FDDBC7" stroke-width="2.3"/>
<path d="M565.4 560.1V547.0A13.1 13.1 0 0 1 576.0 552.4z" fill="#FDDBC7" stroke="#000" stroke-width="2.0" stroke-linejoin="round"/>
<circle cx="596.3" cy="560.1" r="13.4" fill="none" stroke="#FDDBC7" stroke-width="2.3"/>
<path d="M596.3 560.1V547.0A13.1 13.1 0 0 1 604.0 549.5z" fill="#FDDBC7" stroke="#000" stroke-width="2.0" stroke-linejoin="round"/>
<circle cx="627.2" cy="560.1" r="13.4" fill="none" stroke="#FDDBC7" stroke-width="2.3"/>
<path d="M627.2 560.1L627.2 547.0L628.3 547.0L629.3 547.1L630.4 547.4z" fill="#FDDBC7" stroke="#000" stroke-width="2.0" stroke-linejoin="round"/>
<circle cx="688.9" cy="560.1" r="13.4" fill="none" stroke="#F4A582" stroke-width="2.3"/>
<path d="M688.9 560.1V547.0A13.1 13.1 0 0 1 692.2 572.8z" fill="#F4A582" stroke="#000" stroke-width="2.0" stroke-linejoin="round"/>
<circle cx="719.8" cy="560.1" r="13.4" fill="none" stroke="#FDDBC7" stroke-width="2.3"/>
<path d="M719.8 560.1V547.0A13.1 13.1 0 0 1 730.4 552.4z" fill="#FDDBC7" stroke="#000" stroke-width="2.0" stroke-linejoin="round"/>
<circle cx="750.7" cy="560.1" r="13.4" fill="none" stroke="#FDDBC7" stroke-width="2.3"/>
<path d="M750.7 560.1V547.0A13.1 13.1 0 0 1 758.4 549.5z" fill="#FDDBC7" stroke="#000" stroke-width="2.0" stroke-linejoin="round"/>
<circle cx="781.6" cy="560.1" r="13.4" fill="none" stroke="#F4A582" stroke-width="2.3"/>
<path d="M781.6 560.1V547.0A13.1 13.1 0 0 1 793.4 565.7z" fill="#F4A582" stroke="#000" stroke-width="2.0" stroke-linejoin="round"/>
<circle cx="812.5" cy="560.1" r="13.4" fill="none" stroke="#92C5DE" stroke-width="2.3"/>
<path d="M812.5 560.1V547.0A13.1 13.1 0 0 0 802.3 568.5z" fill="#92C5DE" stroke="#000" stroke-width="2.0" stroke-linejoin="round"/>
<circle cx="905.1" cy="560.1" r="13.4" fill="none" stroke="#D1E5F0" stroke-width="2.3"/>
<path d="M905.1 560.1V547.0A13.1 13.1 0 0 0 893.6 553.8z" fill="#D1E5F0" stroke="#000" stroke-width="2.0" stroke-linejoin="round"/>
<circle cx="936.0" cy="560.1" r="13.4" fill="none" stroke="#92C5DE" stroke-width="2.3"/>
<path d="M936.0 560.1V547.0A13.1 13.1 0 0 0 928.3 570.7z" fill="#92C5DE" stroke="#000" stroke-width="2.0" stroke-linejoin="round"/>
<circle cx="966.9" cy="560.1" r="13.4" fill="none" stroke="#92C5DE" stroke-width="2.3"/>
<path d="M966.9 560.1V547.0A13.1 13.1 0 0 0 963.6 572.8z" fill="#92C5DE" stroke="#000" stroke-width="2.0" stroke-linejoin="round"/>
<circle cx="997.7" cy="560.1" r="13.4" fill="none" stroke="#92C5DE" stroke-width="2.3"/>
<path d="M997.7 560.1V547.0A13.1 13.1 0 0 0 990.0 570.7z" fill="#92C5DE" stroke="#000" stroke-width="2.0" stroke-linejoin="round"/>
<circle cx="1028.6" cy="560.1" r="13.4" fill="none" stroke="#92C5DE" stroke-width="2.3"/>
<path d="M1028.6 560.1V547.0A13.1 13.1 0 0 0 1021.6 571.2z" fill="#92C5DE" stroke="#000" stroke-width="2.0" stroke-linejoin="round"/>
<circle cx="1059.5" cy="560.1" r="13.4" fill="none" stroke="#F4A582" stroke-width="2.3"/>
<path d="M1059.5 560.1V547.0A13.1 13.1 0 0 1 1062.8 572.8z" fill="#F4A582" stroke="#000" stroke-width="2.0" stroke-linejoin="round"/>
<circle cx="1090.4" cy="560.1" r="13.4" fill="none" stroke="#92C5DE" stroke-width="2.3"/>
<path d="M1090.4 560.1V547.0A13.1 13.1 0 0 0 1077.9 564.1z" fill="#92C5DE" stroke="#000" stroke-width="2.0" stroke-linejoin="round"/>
<circle cx="1121.3" cy="560.1" r="13.4" fill="none" stroke="#D6604D" stroke-width="2.3"/>
<path d="M1121.3 560.1V547.0A13.1 13.1 0 1 1 1120.5 573.2z" fill="#D6604D" stroke="#000" stroke-width="2.0" stroke-linejoin="round"/>
<circle cx="1152.2" cy="560.1" r="13.4" fill="none" stroke="#D6604D" stroke-width="2.3"/>
<path d="M1152.2 560.1V547.0A13.1 13.1 0 1 1 1146.6 572.0z" fill="#D6604D" stroke="#000" stroke-width="2.0" stroke-linejoin="round"/>
<circle cx="1183.0" cy="560.1" r="13.4" fill="none" stroke="#D1E5F0" stroke-width="2.3"/>
<path d="M1183.0 560.1V547.0A13.1 13.1 0 0 0 1176.7 548.6z" fill="#D1E5F0" stroke="#000" stroke-width="2.0" stroke-linejoin="round"/>
<circle cx="441.9" cy="591.0" r="13.4" fill="none" stroke="#FDDBC7" stroke-width="2.3"/>
<path d="M441.9 591.0L441.9 577.8L443.5 577.9z" fill="#FDDBC7" stroke="#000" stroke-width="2.0" stroke-linejoin="round"/>
<circle cx="503.6" cy="591.0" r="13.4" fill="none" stroke="#FDDBC7" stroke-width="2.3"/>
<path d="M503.6 591.0L503.6 577.8L505.3 577.9z" fill="#FDDBC7" stroke="#000" stroke-width="2.0" stroke-linejoin="round"/>
<circle cx="534.5" cy="591.0" r="13.4" fill="none" stroke="#FDDBC7" stroke-width="2.3"/>
<path d="M534.5 591.0L534.5 577.8L536.1 577.9z" fill="#FDDBC7" stroke="#000" stroke-width="2.0" stroke-linejoin="round"/>
<circle cx="565.4" cy="591.0" r="13.4" fill="none" stroke="#FDDBC7" stroke-width="2.3"/>
<path d="M565.4 591.0L565.4 577.8z" fill="#FDDBC7" stroke="#000" stroke-width="2.0" stroke-linejoin="round"/>
<circle cx="658.0" cy="591.0" r="13.4" fill="none" stroke="#FDDBC7" stroke-width="2.3"/>
<path d="M658.0 591.0L658.0 577.8z" fill="#FDDBC7" stroke="#000" stroke-width="2.0" stroke-linejoin="round"/>
<circle cx="688.9" cy="591.0" r="13.4" fill="none" stroke="#D1E5F0" stroke-width="2.3"/>
<path d="M688.9 591.0L688.9 577.8L687.3 577.9z" fill="#D1E5F0" stroke="#000" stroke-width="2.0" stroke-linejoin="round"/>
<circle cx="719.8" cy="591.0" r="13.4" fill="none" stroke="#D1E5F0" stroke-width="2.3"/>
<path d="M719.8 591.0L719.8 577.8L718.2 577.9z" fill="#D1E5F0" stroke="#000" stroke-width="2.0" stroke-linejoin="round"/>
<circle cx="781.6" cy="591.0" r="13.4" fill="none" stroke="#D1E5F0" stroke-width="2.3"/>
<path d="M781.6 591.0L781.6 577.8L779.9 577.9z" fill="#D1E5F0" stroke="#000" stroke-width="2.0" stroke-linejoin="round"/>
<circle cx="812.5" cy="591.0" r="13.4" fill="none" stroke="#FDDBC7" stroke-width="2.3"/>
<path d="M812.5 591.0L812.5 577.8L814.1 577.9z" fill="#FDDBC7" stroke="#000" stroke-width="2.0" stroke-linejoin="round"/>
<circle cx="874.2" cy="591.0" r="13.4" fill="none" stroke="#FDDBC7" stroke-width="2.3"/>
<path d="M874.2 591.0L874.2 577.8L875.9 577.9z" fill="#FDDBC7" stroke="#000" stroke-width="2.0" stroke-linejoin="round"/>
<circle cx="905.1" cy="591.0" r="13.4" fill="none" stroke="#FDDBC7" stroke-width="2.3"/>
<path d="M905.1 591.0V577.8A13.1 13.1 0 0 1 909.9 578.8z" fill="#FDDBC7" stroke="#000" stroke-width="2.0" stroke-linejoin="round"/>
<circle cx="936.0" cy="591.0" r="13.4" fill="none" stroke="#D1E5F0" stroke-width="2.3"/>
<path d="M936.0 591.0L936.0 577.8z" fill="#D1E5F0" stroke="#000" stroke-width="2.0" stroke-linejoin="round"/>
<circle cx="966.9" cy="591.0" r="13.4" fill="none" stroke="#FDDBC7" stroke-width="2.3"/>
<path d="M966.9 591.0L966.9 577.8L968.5 577.9z" fill="#FDDBC7" stroke="#000" stroke-width="2.0" stroke-linejoin="round"/>
<circle cx="997.7" cy="591.0" r="13.4" fill="none" stroke="#FDDBC7" stroke-width="2.3"/>
<path d="M997.7 591.0L997.7 577.8z" fill="#FDDBC7" stroke="#000" stroke-width="2.0" stroke-linejoin="round"/>
<circle cx="1028.6" cy="591.0" r="13.4" fill="none" stroke="#FDDBC7" stroke-width="2.3"/>
<path d="M1028.6 591.0L1028.6 577.8z" fill="#FDDBC7" stroke="#000" stroke-width="2.0" stroke-linejoin="round"/>
<circle cx="1059.5" cy="591.0" r="13.4" fill="none" stroke="#D1E5F0" stroke-width="2.3"/>
<path d="M1059.5 591.0V577.8A13.1 13.1 0 0 0 1051.1 580.9z" fill="#D1E5F0" stroke="#000" stroke-width="2.0" stroke-linejoin="round"/>
<circle cx="1090.4" cy="591.0" r="13.4" fill="none" stroke="#FDDBC7" stroke-width="2.3"/>
<path d="M1090.4 591.0L1090.4 577.8z" fill="#FDDBC7" stroke="#000" stroke-width="2.0" stroke-linejoin="round"/>
<circle cx="1121.3" cy="591.0" r="13.4" fill="none" stroke="#D1E5F0" stroke-width="2.3"/>
<path d="M1121.3 591.0V577.8A13.1 13.1 0 0 0 1116.4 578.8z" fill="#D1E5F0" stroke="#000" stroke-width="2.0" stroke-linejoin="round"/>
<circle cx="1152.2" cy="591.0" r="13.4" fill="none" stroke="#D1E5F0" stroke-width="2.3"/>
<path d="M1152.2 591.0V577.8A13.1 13.1 0 0 0 1147.3 578.8z" fill="#D1E5F0" stroke="#000" stroke-width="2.0" stroke-linejoin="round"/>
<circle cx="1183.0" cy="591.0" r="13.4" fill="none" stroke="#FDDBC7" stroke-width="2.3"/>
<path d="M1183.0 591.0V577.8A13.1 13.1 0 0 1 1190.1 579.9z" fill="#FDDBC7" stroke="#000" stroke-width="2.0" stroke-linejoin="round"/>
<circle cx="472.7" cy="621.9" r="13.4" fill="none" stroke="#B2182B" stroke-width="2.3"/>
<path d="M472.7 621.9V608.7A13.1 13.1 0 1 1 461.2 615.5z" fill="#B2182B" stroke="#000" stroke-width="2.0" stroke-linejoin="round"/>
<circle cx="503.6" cy="621.9" r="13.4" fill="none" stroke="#D6604D" stroke-width="2.3"/>
<path d="M503.6 621.9V608.7A13.1 13.1 0 1 1 491.1 625.9z" fill="#D6604D" stroke="#000" stroke-width="2.0" stroke-linejoin="round"/>
<circle cx="534.5" cy="621.9" r="13.4" fill="none" stroke="#B2182B" stroke-width="2.3"/>
<path d="M534.5 621.9V608.7A13.1 13.1 0 1 1 528.9 610.0z" fill="#B2182B" stroke="#000" stroke-width="2.0" stroke-linejoin="round"/>
<circle cx="565.4" cy="621.9" r="13.4" fill="none" stroke="#D6604D" stroke-width="2.3"/>
<path d="M565.4 621.9V608.7A13.1 13.1 0 1 1 562.9 634.7z" fill="#D6604D" stroke="#000" stroke-width="2.0" stroke-linejoin="round"/>
<circle cx="596.3" cy="621.9" r="13.4" fill="none" stroke="#F4A582" stroke-width="2.3"/>
<path d="M596.3 621.9V608.7A13.1 13.1 0 0 1 604.0 632.5z" fill="#F4A582" stroke="#000" stroke-width="2.0" stroke-linejoin="round"/>
<circle cx="627.2" cy="621.9" r="13.4" fill="none" stroke="#F4A582" stroke-width="2.3"/>
<path d="M627.2 621.9V608.7A13.1 13.1 0 0 1 638.7 628.2z" fill="#F4A582" stroke="#000" stroke-width="2.0" stroke-linejoin="round"/>
<circle cx="658.0" cy="621.9" r="13.4" fill="none" stroke="#F4A582" stroke-width="2.3"/>
<path d="M658.0 621.9V608.7A13.1 13.1 0 0 1 665.8 632.5z" fill="#F4A582" stroke="#000" stroke-width="2.0" stroke-linejoin="round"/>
<circle cx="688.9" cy="621.9" r="13.4" fill="none" stroke="#D6604D" stroke-width="2.3"/>
<path d="M688.9 621.9V608.7A13.1 13.1 0 1 1 685.7 634.6z" fill="#D6604D" stroke="#000" stroke-width="2.0" stroke-linejoin="round"/>
<circle cx="719.8" cy="621.9" r="13.4" fill="none" stroke="#F4A582" stroke-width="2.3"/>
<path d="M719.8 621.9V608.7A13.1 13.1 0 0 1 732.3 625.9z" fill="#F4A582" stroke="#000" stroke-width="2.0" stroke-linejoin="round"/>
<circle cx="750.7" cy="621.9" r="13.4" fill="none" stroke="#F4A582" stroke-width="2.3"/>
<path d="M750.7 621.9V608.7A13.1 13.1 0 0 1 763.4 625.1z" fill="#F4A582" stroke="#000" stroke-width="2.0" stroke-linejoin="round"/>
<circle cx="781.6" cy="621.9" r="13.4" fill="none" stroke="#F4A582" stroke-width="2.3"/>
<path d="M781.6 621.9V608.7A13.1 13.1 0 0 1 789.3 632.5z" fill="#F4A582" stroke="#000" stroke-width="2.0" stroke-linejoin="round"/>
<circle cx="812.5" cy="621.9" r="13.4" fill="none" stroke="#D1E5F0" stroke-width="2.3"/>
<path d="M812.5 621.9V608.7A13.1 13.1 0 0 0 800.0 617.8z" fill="#D1E5F0" stroke="#000" stroke-width="2.0" stroke-linejoin="round"/>
<circle cx="843.3" cy="621.9" r="13.4" fill="none" stroke="#FDDBC7" stroke-width="2.3"/>
<path d="M843.3 621.9V608.7A13.1 13.1 0 0 1 856.2 619.4z" fill="#FDDBC7" stroke="#000" stroke-width="2.0" stroke-linejoin="round"/>
<circle cx="874.2" cy="621.9" r="13.4" fill="none" stroke="#F4A582" stroke-width="2.3"/>
<path d="M874.2 621.9V608.7A13.1 13.1 0 0 1 877.5 634.6z" fill="#F4A582" stroke="#000" stroke-width="2.0" stroke-linejoin="round"/>
<circle cx="936.0" cy="621.9" r="13.4" fill="none" stroke="#92C5DE" stroke-width="2.3"/>
<path d="M936.0 621.9V608.7A13.1 13.1 0 0 0 929.7 633.4z" fill="#92C5DE" stroke="#000" stroke-width="2.0" stroke-linejoin="round"/>
<circle cx="966.9" cy="621.9" r="13.4" fill="none" stroke="#92C5DE" stroke-width="2.3"/>
<path d="M966.9 621.9V608.7A13.1 13.1 0 0 0 956.2 629.6z" fill="#92C5DE" stroke="#000" stroke-width="2.0" stroke-linejoin="round"/>
<circle cx="997.7" cy="621.9" r="13.4" fill="none" stroke="#92C5DE" stroke-width="2.3"/>
<path d="M997.7 621.9V608.7A13.1 13.1 0 0 0 987.1 629.6z" fill="#92C5DE" stroke="#000" stroke-width="2.0" stroke-linejoin="round"/>
<circle cx="1028.6" cy="621.9" r="13.4" fill="none" stroke="#92C5DE" stroke-width="2.3"/>
<path d="M1028.6 621.9V608.7A13.1 13.1 0 0 0 1020.9 632.5z" fill="#92C5DE" stroke="#000" stroke-width="2.0" stroke-linejoin="round"/>
<circle cx="1059.5" cy="621.9" r="13.4" fill="none" stroke="#F4A582" stroke-width="2.3"/>
<path d="M1059.5 621.9V608.7A13.1 13.1 0 0 1 1072.5 623.5z" fill="#F4A582" stroke="#000" stroke-width="2.0" stroke-linejoin="round"/>
<circle cx="1090.4" cy="621.9" r="13.4" fill="none" stroke="#D1E5F0" stroke-width="2.3"/>
<path d="M1090.4 621.9V608.7A13.1 13.1 0 0 0 1077.5 619.4z" fill="#D1E5F0" stroke="#000" stroke-width="2.0" stroke-linejoin="round"/>
<circle cx="1121.3" cy="621.9" r="13.4" fill="none" stroke="#F4A582" stroke-width="2.3"/>
<path d="M1121.3 621.9V608.7A13.1 13.1 0 0 1 1130.8 630.8z" fill="#F4A582" stroke="#000" stroke-width="2.0" stroke-linejoin="round"/>
<circle cx="1152.2" cy="621.9" r="13.4" fill="none" stroke="#F4A582" stroke-width="2.3"/>
<path d="M1152.2 621.9V608.7A13.1 13.1 0 0 1 1161.7 630.8z" fill="#F4A582" stroke="#000" stroke-width="2.0" stroke-linejoin="round"/>
<circle cx="503.6" cy="652.7" r="13.4" fill="none" stroke="#D6604D" stroke-width="2.3"/>
<path d="M503.6 652.7V639.6A13.1 13.1 0 1 1 490.7 655.2z" fill="#D6604D" stroke="#000" stroke-width="2.0" stroke-linejoin="round"/>
<circle cx="534.5" cy="652.7" r="13.4" fill="none" stroke="#D6604D" stroke-width="2.3"/>
<path d="M534.5 652.7V639.6A13.1 13.1 0 1 1 523.0 659.1z" fill="#D6604D" stroke="#000" stroke-width="2.0" stroke-linejoin="round"/>
<circle cx="565.4" cy="652.7" r="13.4" fill="none" stroke="#F4A582" stroke-width="2.3"/>
<path d="M565.4 652.7V639.6A13.1 13.1 0 0 1 566.2 665.8z" fill="#F4A582" stroke="#000" stroke-width="2.0" stroke-linejoin="round"/>
<circle cx="596.3" cy="652.7" r="13.4" fill="none" stroke="#F4A582" stroke-width="2.3"/>
<path d="M596.3 652.7V639.6A13.1 13.1 0 0 1 601.1 664.9z" fill="#F4A582" stroke="#000" stroke-width="2.0" stroke-linejoin="round"/>
<circle cx="627.2" cy="652.7" r="13.4" fill="none" stroke="#F4A582" stroke-width="2.3"/>
<path d="M627.2 652.7V639.6A13.1 13.1 0 0 1 637.3 661.1z" fill="#F4A582" stroke="#000" stroke-width="2.0" stroke-linejoin="round"/>
<circle cx="658.0" cy="652.7" r="13.4" fill="none" stroke="#F4A582" stroke-width="2.3"/>
<path d="M658.0 652.7V639.6A13.1 13.1 0 0 1 668.1 661.1z" fill="#F4A582" stroke="#000" stroke-width="2.0" stroke-linejoin="round"/>
<circle cx="688.9" cy="652.7" r="13.4" fill="none" stroke="#F4A582" stroke-width="2.3"/>
<path d="M688.9 652.7V639.6A13.1 13.1 0 0 1 690.6 665.8z" fill="#F4A582" stroke="#000" stroke-width="2.0" stroke-linejoin="round"/>
<circle cx="719.8" cy="652.7" r="13.4" fill="none" stroke="#F4A582" stroke-width="2.3"/>
<path d="M719.8 652.7V639.6A13.1 13.1 0 0 1 728.8 662.3z" fill="#F4A582" stroke="#000" stroke-width="2.0" stroke-linejoin="round"/>
<circle cx="750.7" cy="652.7" r="13.4" fill="none" stroke="#F4A582" stroke-width="2.3"/>
<path d="M750.7 652.7V639.6A13.1 13.1 0 0 1 763.2 656.8z" fill="#F4A582" stroke="#000" stroke-width="2.0" stroke-linejoin="round"/>
<circle cx="781.6" cy="652.7" r="13.4" fill="none" stroke="#F4A582" stroke-width="2.3"/>
<path d="M781.6 652.7V639.6A13.1 13.1 0 0 1 794.1 656.8z" fill="#F4A582" stroke="#000" stroke-width="2.0" stroke-linejoin="round"/>
<circle cx="812.5" cy="652.7" r="13.4" fill="none" stroke="#D1E5F0" stroke-width="2.3"/>
<path d="M812.5 652.7V639.6A13.1 13.1 0 0 0 803.5 643.2z" fill="#D1E5F0" stroke="#000" stroke-width="2.0" stroke-linejoin="round"/>
<circle cx="843.3" cy="652.7" r="13.4" fill="none" stroke="#FDDBC7" stroke-width="2.3"/>
<path d="M843.3 652.7V639.6A13.1 13.1 0 0 1 856.0 649.5z" fill="#FDDBC7" stroke="#000" stroke-width="2.0" stroke-linejoin="round"/>
<circle cx="874.2" cy="652.7" r="13.4" fill="none" stroke="#F4A582" stroke-width="2.3"/>
<path d="M874.2 652.7V639.6A13.1 13.1 0 0 1 881.9 663.4z" fill="#F4A582" stroke="#000" stroke-width="2.0" stroke-linejoin="round"/>
<circle cx="905.1" cy="652.7" r="13.4" fill="none" stroke="#D1E5F0" stroke-width="2.3"/>
<path d="M905.1 652.7V639.6A13.1 13.1 0 0 0 899.5 640.9z" fill="#D1E5F0" stroke="#000" stroke-width="2.0" stroke-linejoin="round"/>
<circle cx="936.0" cy="652.7" r="13.4" fill="none" stroke="#92C5DE" stroke-width="2.3"/>
<path d="M936.0 652.7V639.6A13.1 13.1 0 0 0 929.7 664.2z" fill="#92C5DE" stroke="#000" stroke-width="2.0" stroke-linejoin="round"/>
<circle cx="966.9" cy="652.7" r="13.4" fill="none" stroke="#92C5DE" stroke-width="2.3"/>
<path d="M966.9 652.7V639.6A13.1 13.1 0 0 0 957.9 662.3z" fill="#92C5DE" stroke="#000" stroke-width="2.0" stroke-linejoin="round"/>
<circle cx="997.7" cy="652.7" r="13.4" fill="none" stroke="#92C5DE" stroke-width="2.3"/>
<path d="M997.7 652.7V639.6A13.1 13.1 0 0 0 990.0 663.4z" fill="#92C5DE" stroke="#000" stroke-width="2.0" stroke-linejoin="round"/>
<circle cx="1028.6" cy="652.7" r="13.4" fill="none" stroke="#92C5DE" stroke-width="2.3"/>
<path d="M1028.6 652.7V639.6A13.1 13.1 0 0 0 1021.6 663.8z" fill="#92C5DE" stroke="#000" stroke-width="2.0" stroke-linejoin="round"/>
<circle cx="1059.5" cy="652.7" r="13.4" fill="none" stroke="#F4A582" stroke-width="2.3"/>
<path d="M1059.5 652.7V639.6A13.1 13.1 0 0 1 1072.4 655.2z" fill="#F4A582" stroke="#000" stroke-width="2.0" stroke-linejoin="round"/>
<circle cx="1090.4" cy="652.7" r="13.4" fill="none" stroke="#D1E5F0" stroke-width="2.3"/>
<path d="M1090.4 652.7V639.6A13.1 13.1 0 0 0 1077.4 651.1z" fill="#D1E5F0" stroke="#000" stroke-width="2.0" stroke-linejoin="round"/>
<circle cx="1121.3" cy="652.7" r="13.4" fill="none" stroke="#F4A582" stroke-width="2.3"/>
<path d="M1121.3 652.7V639.6A13.1 13.1 0 0 1 1130.3 662.3z" fill="#F4A582" stroke="#000" stroke-width="2.0" stroke-linejoin="round"/>
<circle cx="1152.2" cy="652.7" r="13.4" fill="none" stroke="#F4A582" stroke-width="2.3"/>
<path d="M1152.2 652.7V639.6A13.1 13.1 0 0 1 1161.1 662.3z" fill="#F4A582" stroke="#000" stroke-width="2.0" stroke-linejoin="round"/>
<circle cx="1183.0" cy="652.7" r="13.4" fill="none" stroke="#D1E5F0" stroke-width="2.3"/>
<path d="M1183.0 652.7V639.6A13.1 13.1 0 0 0 1172.4 645.0z" fill="#D1E5F0" stroke="#000" stroke-width="2.0" stroke-linejoin="round"/>
<circle cx="534.5" cy="683.6" r="13.4" fill="none" stroke="#D6604D" stroke-width="2.3"/>
<path d="M534.5 683.6V670.5A13.1 13.1 0 1 1 528.2 695.1z" fill="#D6604D" stroke="#000" stroke-width="2.0" stroke-linejoin="round"/>
<circle cx="565.4" cy="683.6" r="13.4" fill="none" stroke="#F4A582" stroke-width="2.3"/>
<path d="M565.4 683.6V670.5A13.1 13.1 0 0 1 571.7 695.1z" fill="#F4A582" stroke="#000" stroke-width="2.0" stroke-linejoin="round"/>
<circle cx="596.3" cy="683.6" r="13.4" fill="none" stroke="#F4A582" stroke-width="2.3"/>
<path d="M596.3 683.6V670.5A13.1 13.1 0 0 1 605.3 693.2z" fill="#F4A582" stroke="#000" stroke-width="2.0" stroke-linejoin="round"/>
<circle cx="627.2" cy="683.6" r="13.4" fill="none" stroke="#F4A582" stroke-width="2.3"/>
<path d="M627.2 683.6V670.5A13.1 13.1 0 0 1 632.0 695.8z" fill="#F4A582" stroke="#000" stroke-width="2.0" stroke-linejoin="round"/>
<circle cx="658.0" cy="683.6" r="13.4" fill="none" stroke="#F4A582" stroke-width="2.3"/>
<path d="M658.0 683.6V670.5A13.1 13.1 0 0 1 670.7 686.9z" fill="#F4A582" stroke="#000" stroke-width="2.0" stroke-linejoin="round"/>
<circle cx="688.9" cy="683.6" r="13.4" fill="none" stroke="#F4A582" stroke-width="2.3"/>
<path d="M688.9 683.6V670.5A13.1 13.1 0 0 1 696.6 694.2z" fill="#F4A582" stroke="#000" stroke-width="2.0" stroke-linejoin="round"/>
<circle cx="719.8" cy="683.6" r="13.4" fill="none" stroke="#F4A582" stroke-width="2.3"/>
<path d="M719.8 683.6V670.5A13.1 13.1 0 0 1 732.9 684.4z" fill="#F4A582" stroke="#000" stroke-width="2.0" stroke-linejoin="round"/>
<circle cx="750.7" cy="683.6" r="13.4" fill="none" stroke="#F4A582" stroke-width="2.3"/>
<path d="M750.7 683.6V670.5A13.1 13.1 0 0 1 758.4 694.2z" fill="#F4A582" stroke="#000" stroke-width="2.0" stroke-linejoin="round"/>
<circle cx="781.6" cy="683.6" r="13.4" fill="none" stroke="#FDDBC7" stroke-width="2.3"/>
<path d="M781.6 683.6V670.5A13.1 13.1 0 0 1 794.3 680.4z" fill="#FDDBC7" stroke="#000" stroke-width="2.0" stroke-linejoin="round"/>
<circle cx="812.5" cy="683.6" r="13.4" fill="none" stroke="#D1E5F0" stroke-width="2.3"/>
<path d="M812.5 683.6V670.5A13.1 13.1 0 0 0 808.4 671.1z" fill="#D1E5F0" stroke="#000" stroke-width="2.0" stroke-linejoin="round"/>
<circle cx="843.3" cy="683.6" r="13.4" fill="none" stroke="#FDDBC7" stroke-width="2.3"/>
<path d="M843.3 683.6V670.5A13.1 13.1 0 0 1 854.8 677.3z" fill="#FDDBC7" stroke="#000" stroke-width="2.0" stroke-linejoin="round"/>
<circle cx="874.2" cy="683.6" r="13.4" fill="none" stroke="#F4A582" stroke-width="2.3"/>
<path d="M874.2 683.6V670.5A13.1 13.1 0 0 1 884.3 692.0z" fill="#F4A582" stroke="#000" stroke-width="2.0" stroke-linejoin="round"/>
<circle cx="936.0" cy="683.6" r="13.4" fill="none" stroke="#92C5DE" stroke-width="2.3"/>
<path d="M936.0 683.6V670.5A13.1 13.1 0 0 0 923.5 687.7z" fill="#92C5DE" stroke="#000" stroke-width="2.0" stroke-linejoin="round"/>
<circle cx="966.9" cy="683.6" r="13.4" fill="none" stroke="#D1E5F0" stroke-width="2.3"/>
<path d="M966.9 683.6V670.5A13.1 13.1 0 0 0 954.4 679.6z" fill="#D1E5F0" stroke="#000" stroke-width="2.0" stroke-linejoin="round"/>
<circle cx="997.7" cy="683.6" r="13.4" fill="none" stroke="#92C5DE" stroke-width="2.3"/>
<path d="M997.7 683.6V670.5A13.1 13.1 0 0 0 984.6 684.4z" fill="#92C5DE" stroke="#000" stroke-width="2.0" stroke-linejoin="round"/>
<circle cx="1028.6" cy="683.6" r="13.4" fill="none" stroke="#92C5DE" stroke-width="2.3"/>
<path d="M1028.6 683.6V670.5A13.1 13.1 0 0 0 1015.5 684.4z" fill="#92C5DE" stroke="#000" stroke-width="2.0" stroke-linejoin="round"/>
<circle cx="1059.5" cy="683.6" r="13.4" fill="none" stroke="#FDDBC7" stroke-width="2.3"/>
<path d="M1059.5 683.6V670.5A13.1 13.1 0 0 1 1070.1 675.9z" fill="#FDDBC7" stroke="#000" stroke-width="2.0" stroke-linejoin="round"/>
<circle cx="1090.4" cy="683.6" r="13.4" fill="none" stroke="#D1E5F0" stroke-width="2.3"/>
<path d="M1090.4 683.6V670.5A13.1 13.1 0 0 0 1080.3 675.3z" fill="#D1E5F0" stroke="#000" stroke-width="2.0" stroke-linejoin="round"/>
<circle cx="1121.3" cy="683.6" r="13.4" fill="none" stroke="#FDDBC7" stroke-width="2.3"/>
<path d="M1121.3 683.6V670.5A13.1 13.1 0 0 1 1134.0 680.4z" fill="#FDDBC7" stroke="#000" stroke-width="2.0" stroke-linejoin="round"/>
<circle cx="1152.2" cy="683.6" r="13.4" fill="none" stroke="#FDDBC7" stroke-width="2.3"/>
<path d="M1152.2 683.6V670.5A13.1 13.1 0 0 1 1164.9 680.4z" fill="#FDDBC7" stroke="#000" stroke-width="2.0" stroke-linejoin="round"/>
<circle cx="1183.0" cy="683.6" r="13.4" fill="none" stroke="#D1E5F0" stroke-width="2.3"/>
<path d="M1183.0 683.6V670.5A13.1 13.1 0 0 0 1176.0 672.5z" fill="#D1E5F0" stroke="#000" stroke-width="2.0" stroke-linejoin="round"/>
<circle cx="565.4" cy="714.5" r="13.4" fill="none" stroke="#F4A582" stroke-width="2.3"/>
<path d="M565.4 714.5V701.4A13.1 13.1 0 0 1 571.0 726.4z" fill="#F4A582" stroke="#000" stroke-width="2.0" stroke-linejoin="round"/>
<circle cx="596.3" cy="714.5" r="13.4" fill="none" stroke="#F4A582" stroke-width="2.3"/>
<path d="M596.3 714.5V701.4A13.1 13.1 0 0 1 609.3 716.1z" fill="#F4A582" stroke="#000" stroke-width="2.0" stroke-linejoin="round"/>
<circle cx="627.2" cy="714.5" r="13.4" fill="none" stroke="#F4A582" stroke-width="2.3"/>
<path d="M627.2 714.5V701.4A13.1 13.1 0 0 1 640.3 715.3z" fill="#F4A582" stroke="#000" stroke-width="2.0" stroke-linejoin="round"/>
<circle cx="658.0" cy="714.5" r="13.4" fill="none" stroke="#F4A582" stroke-width="2.3"/>
<path d="M658.0 714.5V701.4A13.1 13.1 0 0 1 665.8 725.1z" fill="#F4A582" stroke="#000" stroke-width="2.0" stroke-linejoin="round"/>
<circle cx="688.9" cy="714.5" r="13.4" fill="none" stroke="#F4A582" stroke-width="2.3"/>
<path d="M688.9 714.5V701.4A13.1 13.1 0 0 1 694.5 726.4z" fill="#F4A582" stroke="#000" stroke-width="2.0" stroke-linejoin="round"/>
<circle cx="719.8" cy="714.5" r="13.4" fill="none" stroke="#FDDBC7" stroke-width="2.3"/>
<path d="M719.8 714.5V701.4A13.1 13.1 0 0 1 732.5 711.2z" fill="#FDDBC7" stroke="#000" stroke-width="2.0" stroke-linejoin="round"/>
<circle cx="750.7" cy="714.5" r="13.4" fill="none" stroke="#FDDBC7" stroke-width="2.3"/>
<path d="M750.7 714.5V701.4A13.1 13.1 0 0 1 763.2 710.4z" fill="#FDDBC7" stroke="#000" stroke-width="2.0" stroke-linejoin="round"/>
<circle cx="781.6" cy="714.5" r="13.4" fill="none" stroke="#F4A582" stroke-width="2.3"/>
<path d="M781.6 714.5V701.4A13.1 13.1 0 0 1 789.3 725.1z" fill="#F4A582" stroke="#000" stroke-width="2.0" stroke-linejoin="round"/>
<circle cx="812.5" cy="714.5" r="13.4" fill="none" stroke="#D1E5F0" stroke-width="2.3"/>
<path d="M812.5 714.5V701.4A13.1 13.1 0 0 0 804.7 703.9z" fill="#D1E5F0" stroke="#000" stroke-width="2.0" stroke-linejoin="round"/>
<circle cx="843.3" cy="714.5" r="13.4" fill="none" stroke="#FDDBC7" stroke-width="2.3"/>
<path d="M843.3 714.5V701.4A13.1 13.1 0 0 1 855.2 708.9z" fill="#FDDBC7" stroke="#000" stroke-width="2.0" stroke-linejoin="round"/>
<circle cx="874.2" cy="714.5" r="13.4" fill="none" stroke="#F4A582" stroke-width="2.3"/>
<path d="M874.2 714.5V701.4A13.1 13.1 0 0 1 883.8 723.5z" fill="#F4A582" stroke="#000" stroke-width="2.0" stroke-linejoin="round"/>
<circle cx="905.1" cy="714.5" r="13.4" fill="none" stroke="#D1E5F0" stroke-width="2.3"/>
<path d="M905.1 714.5L905.1 701.4L903.5 701.5z" fill="#D1E5F0" stroke="#000" stroke-width="2.0" stroke-linejoin="round"/>
<circle cx="936.0" cy="714.5" r="13.4" fill="none" stroke="#D1E5F0" stroke-width="2.3"/>
<path d="M936.0 714.5V701.4A13.1 13.1 0 0 0 923.8 709.7z" fill="#D1E5F0" stroke="#000" stroke-width="2.0" stroke-linejoin="round"/>
<circle cx="966.9" cy="714.5" r="13.4" fill="none" stroke="#D1E5F0" stroke-width="2.3"/>
<path d="M966.9 714.5V701.4A13.1 13.1 0 0 0 955.4 708.2z" fill="#D1E5F0" stroke="#000" stroke-width="2.0" stroke-linejoin="round"/>
<circle cx="997.7" cy="714.5" r="13.4" fill="none" stroke="#D1E5F0" stroke-width="2.3"/>
<path d="M997.7 714.5V701.4A13.1 13.1 0 0 0 985.3 710.4z" fill="#D1E5F0" stroke="#000" stroke-width="2.0" stroke-linejoin="round"/>
<circle cx="1028.6" cy="714.5" r="13.4" fill="none" stroke="#D1E5F0" stroke-width="2.3"/>
<path d="M1028.6 714.5V701.4A13.1 13.1 0 0 0 1016.1 710.4z" fill="#D1E5F0" stroke="#000" stroke-width="2.0" stroke-linejoin="round"/>
<circle cx="1059.5" cy="714.5" r="13.4" fill="none" stroke="#FDDBC7" stroke-width="2.3"/>
<path d="M1059.5 714.5V701.4A13.1 13.1 0 0 1 1071.0 708.2z" fill="#FDDBC7" stroke="#000" stroke-width="2.0" stroke-linejoin="round"/>
<circle cx="1090.4" cy="714.5" r="13.4" fill="none" stroke="#D1E5F0" stroke-width="2.3"/>
<path d="M1090.4 714.5V701.4A13.1 13.1 0 0 0 1084.8 702.6z" fill="#D1E5F0" stroke="#000" stroke-width="2.0" stroke-linejoin="round"/>
<circle cx="1121.3" cy="714.5" r="13.4" fill="none" stroke="#FDDBC7" stroke-width="2.3"/>
<path d="M1121.3 714.5V701.4A13.1 13.1 0 0 1 1134.0 711.2z" fill="#FDDBC7" stroke="#000" stroke-width="2.0" stroke-linejoin="round"/>
<circle cx="1152.2" cy="714.5" r="13.4" fill="none" stroke="#FDDBC7" stroke-width="2.3"/>
<path d="M1152.2 714.5V701.4A13.1 13.1 0 0 1 1164.0 708.9z" fill="#FDDBC7" stroke="#000" stroke-width="2.0" stroke-linejoin="round"/>
<circle cx="596.3" cy="745.4" r="13.4" fill="none" stroke="#D6604D" stroke-width="2.3"/>
<path d="M596.3 745.4V732.3A13.1 13.1 0 1 1 593.8 758.3z" fill="#D6604D" stroke="#000" stroke-width="2.0" stroke-linejoin="round"/>
<circle cx="627.2" cy="745.4" r="13.4" fill="none" stroke="#F4A582" stroke-width="2.3"/>
<path d="M627.2 745.4V732.3A13.1 13.1 0 0 1 631.2 757.9z" fill="#F4A582" stroke="#000" stroke-width="2.0" stroke-linejoin="round"/>
<circle cx="658.0" cy="745.4" r="13.4" fill="none" stroke="#B2182B" stroke-width="2.3"/>
<path d="M658.0 745.4V732.3A13.1 13.1 0 1 1 648.5 736.4z" fill="#B2182B" stroke="#000" stroke-width="2.0" stroke-linejoin="round"/>
<circle cx="688.9" cy="745.4" r="13.4" fill="none" stroke="#F4A582" stroke-width="2.3"/>
<path d="M688.9 745.4V732.3A13.1 13.1 0 0 1 696.6 756.0z" fill="#F4A582" stroke="#000" stroke-width="2.0" stroke-linejoin="round"/>
<circle cx="719.8" cy="745.4" r="13.4" fill="none" stroke="#FDDBC7" stroke-width="2.3"/>
<path d="M719.8 745.4V732.3A13.1 13.1 0 0 1 732.3 741.3z" fill="#FDDBC7" stroke="#000" stroke-width="2.0" stroke-linejoin="round"/>
<circle cx="750.7" cy="745.4" r="13.4" fill="none" stroke="#FDDBC7" stroke-width="2.3"/>
<path d="M750.7 745.4V732.3A13.1 13.1 0 0 1 763.2 741.3z" fill="#FDDBC7" stroke="#000" stroke-width="2.0" stroke-linejoin="round"/>
<circle cx="781.6" cy="745.4" r="13.4" fill="none" stroke="#F4A582" stroke-width="2.3"/>
<path d="M781.6 745.4V732.3A13.1 13.1 0 0 1 794.6 747.0z" fill="#F4A582" stroke="#000" stroke-width="2.0" stroke-linejoin="round"/>
<circle cx="812.5" cy="745.4" r="13.4" fill="none" stroke="#D1E5F0" stroke-width="2.3"/>
<path d="M812.5 745.4V732.3A13.1 13.1 0 0 0 804.1 735.3z" fill="#D1E5F0" stroke="#000" stroke-width="2.0" stroke-linejoin="round"/>
<circle cx="843.3" cy="745.4" r="13.4" fill="none" stroke="#FDDBC7" stroke-width="2.3"/>
<path d="M843.3 745.4V732.3A13.1 13.1 0 0 1 856.0 742.1z" fill="#FDDBC7" stroke="#000" stroke-width="2.0" stroke-linejoin="round"/>
<circle cx="874.2" cy="745.4" r="13.4" fill="none" stroke="#F4A582" stroke-width="2.3"/>
<path d="M874.2 745.4V732.3A13.1 13.1 0 0 1 884.3 753.8z" fill="#F4A582" stroke="#000" stroke-width="2.0" stroke-linejoin="round"/>
<circle cx="905.1" cy="745.4" r="13.4" fill="none" stroke="#D1E5F0" stroke-width="2.3"/>
<path d="M905.1 745.4L905.1 732.3z" fill="#D1E5F0" stroke="#000" stroke-width="2.0" stroke-linejoin="round"/>
<circle cx="936.0" cy="745.4" r="13.4" fill="none" stroke="#92C5DE" stroke-width="2.3"/>
<path d="M936.0 745.4V732.3A13.1 13.1 0 0 0 923.8 750.2z" fill="#92C5DE" stroke="#000" stroke-width="2.0" stroke-linejoin="round"/>
<circle cx="966.9" cy="745.4" r="13.4" fill="none" stroke="#D1E5F0" stroke-width="2.3"/>
<path d="M966.9 745.4V732.3A13.1 13.1 0 0 0 954.4 741.3z" fill="#D1E5F0" stroke="#000" stroke-width="2.0" stroke-linejoin="round"/>
<circle cx="997.7" cy="745.4" r="13.4" fill="none" stroke="#92C5DE" stroke-width="2.3"/>
<path d="M997.7 745.4V732.3A13.1 13.1 0 0 0 984.7 747.0z" fill="#92C5DE" stroke="#000" stroke-width="2.0" stroke-linejoin="round"/>
<circle cx="1028.6" cy="745.4" r="13.4" fill="none" stroke="#92C5DE" stroke-width="2.3"/>
<path d="M1028.6 745.4V732.3A13.1 13.1 0 0 0 1015.6 747.0z" fill="#92C5DE" stroke="#000" stroke-width="2.0" stroke-linejoin="round"/>
<circle cx="1059.5" cy="745.4" r="13.4" fill="none" stroke="#FDDBC7" stroke-width="2.3"/>
<path d="M1059.5 745.4V732.3A13.1 13.1 0 0 1 1063.6 732.9z" fill="#FDDBC7" stroke="#000" stroke-width="2.0" stroke-linejoin="round"/>
<circle cx="1090.4" cy="745.4" r="13.4" fill="none" stroke="#D1E5F0" stroke-width="2.3"/>
<path d="M1090.4 745.4V732.3A13.1 13.1 0 0 0 1077.9 741.3z" fill="#D1E5F0" stroke="#000" stroke-width="2.0" stroke-linejoin="round"/>
<circle cx="1121.3" cy="745.4" r="13.4" fill="none" stroke="#FDDBC7" stroke-width="2.3"/>
<path d="M1121.3 745.4V732.3A13.1 13.1 0 0 1 1133.8 741.3z" fill="#FDDBC7" stroke="#000" stroke-width="2.0" stroke-linejoin="round"/>
<circle cx="1152.2" cy="745.4" r="13.4" fill="none" stroke="#FDDBC7" stroke-width="2.3"/>
<path d="M1152.2 745.4V732.3A13.1 13.1 0 0 1 1164.9 742.1z" fill="#FDDBC7" stroke="#000" stroke-width="2.0" stroke-linejoin="round"/>
<circle cx="1183.0" cy="745.4" r="13.4" fill="none" stroke="#FDDBC7" stroke-width="2.3"/>
<path d="M1183.0 745.4L1183.0 732.3z" fill="#FDDBC7" stroke="#000" stroke-width="2.0" stroke-linejoin="round"/>
<circle cx="627.2" cy="776.3" r="13.4" fill="none" stroke="#F4A582" stroke-width="2.3"/>
<path d="M627.2 776.3V763.1A13.1 13.1 0 0 1 630.4 789.0z" fill="#F4A582" stroke="#000" stroke-width="2.0" stroke-linejoin="round"/>
<circle cx="658.0" cy="776.3" r="13.4" fill="none" stroke="#F4A582" stroke-width="2.3"/>
<path d="M658.0 776.3V763.1A13.1 13.1 0 0 1 670.5 780.3z" fill="#F4A582" stroke="#000" stroke-width="2.0" stroke-linejoin="round"/>
<circle cx="688.9" cy="776.3" r="13.4" fill="none" stroke="#FDDBC7" stroke-width="2.3"/>
<path d="M688.9 776.3V763.1A13.1 13.1 0 0 1 701.6 773.0z" fill="#FDDBC7" stroke="#000" stroke-width="2.0" stroke-linejoin="round"/>
<circle cx="719.8" cy="776.3" r="13.4" fill="none" stroke="#F4A582" stroke-width="2.3"/>
<path d="M719.8 776.3V763.1A13.1 13.1 0 0 1 732.5 779.5z" fill="#F4A582" stroke="#000" stroke-width="2.0" stroke-linejoin="round"/>
<circle cx="750.7" cy="776.3" r="13.4" fill="none" stroke="#FDDBC7" stroke-width="2.3"/>
<path d="M750.7 776.3V763.1A13.1 13.1 0 0 1 763.6 773.8z" fill="#FDDBC7" stroke="#000" stroke-width="2.0" stroke-linejoin="round"/>
<circle cx="781.6" cy="776.3" r="13.4" fill="none" stroke="#FDDBC7" stroke-width="2.3"/>
<path d="M781.6 776.3V763.1A13.1 13.1 0 0 1 790.6 766.7z" fill="#FDDBC7" stroke="#000" stroke-width="2.0" stroke-linejoin="round"/>
<circle cx="812.5" cy="776.3" r="13.4" fill="none" stroke="#FDDBC7" stroke-width="2.3"/>
<path d="M812.5 776.3V763.1A13.1 13.1 0 0 1 818.8 764.8z" fill="#FDDBC7" stroke="#000" stroke-width="2.0" stroke-linejoin="round"/>
<circle cx="843.3" cy="776.3" r="13.4" fill="none" stroke="#FDDBC7" stroke-width="2.3"/>
<path d="M843.3 776.3V763.1A13.1 13.1 0 0 1 854.0 768.6z" fill="#FDDBC7" stroke="#000" stroke-width="2.0" stroke-linejoin="round"/>
<circle cx="874.2" cy="776.3" r="13.4" fill="none" stroke="#F4A582" stroke-width="2.3"/>
<path d="M874.2 776.3V763.1A13.1 13.1 0 0 1 886.9 779.5z" fill="#F4A582" stroke="#000" stroke-width="2.0" stroke-linejoin="round"/>
<circle cx="905.1" cy="776.3" r="13.4" fill="none" stroke="#FDDBC7" stroke-width="2.3"/>
<path d="M905.1 776.3L905.1 763.1L906.7 763.2z" fill="#FDDBC7" stroke="#000" stroke-width="2.0" stroke-linejoin="round"/>
<circle cx="936.0" cy="776.3" r="13.4" fill="none" stroke="#D1E5F0" stroke-width="2.3"/>
<path d="M936.0 776.3V763.1A13.1 13.1 0 0 0 923.5 772.2z" fill="#D1E5F0" stroke="#000" stroke-width="2.0" stroke-linejoin="round"/>
<circle cx="966.9" cy="776.3" r="13.4" fill="none" stroke="#D1E5F0" stroke-width="2.3"/>
<path d="M966.9 776.3V763.1A13.1 13.1 0 0 0 961.3 764.4z" fill="#D1E5F0" stroke="#000" stroke-width="2.0" stroke-linejoin="round"/>
<circle cx="997.7" cy="776.3" r="13.4" fill="none" stroke="#D1E5F0" stroke-width="2.3"/>
<path d="M997.7 776.3V763.1A13.1 13.1 0 0 0 988.8 766.7z" fill="#D1E5F0" stroke="#000" stroke-width="2.0" stroke-linejoin="round"/>
<circle cx="1028.6" cy="776.3" r="13.4" fill="none" stroke="#D1E5F0" stroke-width="2.3"/>
<path d="M1028.6 776.3V763.1A13.1 13.1 0 0 0 1019.1 767.3z" fill="#D1E5F0" stroke="#000" stroke-width="2.0" stroke-linejoin="round"/>
<circle cx="1059.5" cy="776.3" r="13.4" fill="none" stroke="#FDDBC7" stroke-width="2.3"/>
<path d="M1059.5 776.3L1059.5 763.1L1060.6 763.2L1061.7 763.3L1062.8 763.6z" fill="#FDDBC7" stroke="#000" stroke-width="2.0" stroke-linejoin="round"/>
<circle cx="1090.4" cy="776.3" r="13.4" fill="none" stroke="#D1E5F0" stroke-width="2.3"/>
<path d="M1090.4 776.3V763.1A13.1 13.1 0 0 0 1084.8 764.4z" fill="#D1E5F0" stroke="#000" stroke-width="2.0" stroke-linejoin="round"/>
<circle cx="1121.3" cy="776.3" r="13.4" fill="none" stroke="#FDDBC7" stroke-width="2.3"/>
<path d="M1121.3 776.3V763.1A13.1 13.1 0 0 1 1129.6 766.2z" fill="#FDDBC7" stroke="#000" stroke-width="2.0" stroke-linejoin="round"/>
<circle cx="1152.2" cy="776.3" r="13.4" fill="none" stroke="#FDDBC7" stroke-width="2.3"/>
<path d="M1152.2 776.3V763.1A13.1 13.1 0 0 1 1161.1 766.7z" fill="#FDDBC7" stroke="#000" stroke-width="2.0" stroke-linejoin="round"/>
<circle cx="1183.0" cy="776.3" r="13.4" fill="none" stroke="#D1E5F0" stroke-width="2.3"/>
<path d="M1183.0 776.3V763.1A13.1 13.1 0 0 0 1178.2 764.1z" fill="#D1E5F0" stroke="#000" stroke-width="2.0" stroke-linejoin="round"/>
<circle cx="658.0" cy="807.2" r="13.4" fill="none" stroke="#FDDBC7" stroke-width="2.3"/>
<path d="M658.0 807.2V794.0A13.1 13.1 0 0 1 671.1 805.5z" fill="#FDDBC7" stroke="#000" stroke-width="2.0" stroke-linejoin="round"/>
<circle cx="688.9" cy="807.2" r="13.4" fill="none" stroke="#FDDBC7" stroke-width="2.3"/>
<path d="M688.9 807.2V794.0A13.1 13.1 0 0 1 699.5 799.4z" fill="#FDDBC7" stroke="#000" stroke-width="2.0" stroke-linejoin="round"/>
<circle cx="719.8" cy="807.2" r="13.4" fill="none" stroke="#FDDBC7" stroke-width="2.3"/>
<path d="M719.8 807.2V794.0A13.1 13.1 0 0 1 730.4 799.4z" fill="#FDDBC7" stroke="#000" stroke-width="2.0" stroke-linejoin="round"/>
<circle cx="750.7" cy="807.2" r="13.4" fill="none" stroke="#F4A582" stroke-width="2.3"/>
<path d="M750.7 807.2V794.0A13.1 13.1 0 0 1 758.4 817.8z" fill="#F4A582" stroke="#000" stroke-width="2.0" stroke-linejoin="round"/>
<circle cx="781.6" cy="807.2" r="13.4" fill="none" stroke="#FDDBC7" stroke-width="2.3"/>
<path d="M781.6 807.2V794.0A13.1 13.1 0 0 1 787.2 795.3z" fill="#FDDBC7" stroke="#000" stroke-width="2.0" stroke-linejoin="round"/>
<circle cx="812.5" cy="807.2" r="13.4" fill="none" stroke="#FDDBC7" stroke-width="2.3"/>
<path d="M812.5 807.2L812.5 794.0L813.5 794.1L814.6 794.2L815.7 794.4z" fill="#FDDBC7" stroke="#000" stroke-width="2.0" stroke-linejoin="round"/>
<circle cx="843.3" cy="807.2" r="13.4" fill="none" stroke="#FDDBC7" stroke-width="2.3"/>
<path d="M843.3 807.2V794.0A13.1 13.1 0 0 1 852.3 797.6z" fill="#FDDBC7" stroke="#000" stroke-width="2.0" stroke-linejoin="round"/>
<circle cx="874.2" cy="807.2" r="13.4" fill="none" stroke="#FDDBC7" stroke-width="2.3"/>
<path d="M874.2 807.2V794.0A13.1 13.1 0 0 1 887.1 804.7z" fill="#FDDBC7" stroke="#000" stroke-width="2.0" stroke-linejoin="round"/>
<circle cx="905.1" cy="807.2" r="13.4" fill="none" stroke="#FDDBC7" stroke-width="2.3"/>
<path d="M905.1 807.2L905.1 794.0L906.7 794.1z" fill="#FDDBC7" stroke="#000" stroke-width="2.0" stroke-linejoin="round"/>
<circle cx="936.0" cy="807.2" r="13.4" fill="none" stroke="#D1E5F0" stroke-width="2.3"/>
<path d="M936.0 807.2V794.0A13.1 13.1 0 0 0 925.4 799.4z" fill="#D1E5F0" stroke="#000" stroke-width="2.0" stroke-linejoin="round"/>
<circle cx="966.9" cy="807.2" r="13.4" fill="none" stroke="#D1E5F0" stroke-width="2.3"/>
<path d="M966.9 807.2L966.9 794.0L965.8 794.1L964.7 794.2L963.6 794.4z" fill="#D1E5F0" stroke="#000" stroke-width="2.0" stroke-linejoin="round"/>
<circle cx="997.7" cy="807.2" r="13.4" fill="none" stroke="#D1E5F0" stroke-width="2.3"/>
<path d="M997.7 807.2V794.0A13.1 13.1 0 0 0 989.4 797.0z" fill="#D1E5F0" stroke="#000" stroke-width="2.0" stroke-linejoin="round"/>
<circle cx="1028.6" cy="807.2" r="13.4" fill="none" stroke="#D1E5F0" stroke-width="2.3"/>
<path d="M1028.6 807.2V794.0A13.1 13.1 0 0 0 1019.6 797.6z" fill="#D1E5F0" stroke="#000" stroke-width="2.0" stroke-linejoin="round"/>
<circle cx="1090.4" cy="807.2" r="13.4" fill="none" stroke="#D1E5F0" stroke-width="2.3"/>
<path d="M1090.4 807.2V794.0A13.1 13.1 0 0 0 1086.3 794.7z" fill="#D1E5F0" stroke="#000" stroke-width="2.0" stroke-linejoin="round"/>
<circle cx="1121.3" cy="807.2" r="13.4" fill="none" stroke="#FDDBC7" stroke-width="2.3"/>
<path d="M1121.3 807.2V794.0A13.1 13.1 0 0 1 1126.9 795.3z" fill="#FDDBC7" stroke="#000" stroke-width="2.0" stroke-linejoin="round"/>
<circle cx="1152.2" cy="807.2" r="13.4" fill="none" stroke="#FDDBC7" stroke-width="2.3"/>
<path d="M1152.2 807.2V794.0A13.1 13.1 0 0 1 1157.0 794.9z" fill="#FDDBC7" stroke="#000" stroke-width="2.0" stroke-linejoin="round"/>
<circle cx="1183.0" cy="807.2" r="13.4" fill="none" stroke="#D1E5F0" stroke-width="2.3"/>
<path d="M1183.0 807.2V794.0A13.1 13.1 0 0 0 1179.0 794.7z" fill="#D1E5F0" stroke="#000" stroke-width="2.0" stroke-linejoin="round"/>
<circle cx="688.9" cy="838.0" r="13.4" fill="none" stroke="#F4A582" stroke-width="2.3"/>
<path d="M688.9 838.0V824.9A13.1 13.1 0 0 1 701.9 839.7z" fill="#F4A582" stroke="#000" stroke-width="2.0" stroke-linejoin="round"/>
<circle cx="719.8" cy="838.0" r="13.4" fill="none" stroke="#FDDBC7" stroke-width="2.3"/>
<path d="M719.8 838.0V824.9A13.1 13.1 0 0 1 729.9 829.7z" fill="#FDDBC7" stroke="#000" stroke-width="2.0" stroke-linejoin="round"/>
<circle cx="750.7" cy="838.0" r="13.4" fill="none" stroke="#FDDBC7" stroke-width="2.3"/>
<path d="M750.7 838.0V824.9A13.1 13.1 0 0 1 759.7 828.5z" fill="#FDDBC7" stroke="#000" stroke-width="2.0" stroke-linejoin="round"/>
<circle cx="781.6" cy="838.0" r="13.4" fill="none" stroke="#FDDBC7" stroke-width="2.3"/>
<path d="M781.6 838.0V824.9A13.1 13.1 0 0 1 794.1 834.0z" fill="#FDDBC7" stroke="#000" stroke-width="2.0" stroke-linejoin="round"/>
<circle cx="843.3" cy="838.0" r="13.4" fill="none" stroke="#FDDBC7" stroke-width="2.3"/>
<path d="M843.3 838.0V824.9A13.1 13.1 0 0 1 854.8 831.7z" fill="#FDDBC7" stroke="#000" stroke-width="2.0" stroke-linejoin="round"/>
<circle cx="874.2" cy="838.0" r="13.4" fill="none" stroke="#F4A582" stroke-width="2.3"/>
<path d="M874.2 838.0V824.9A13.1 13.1 0 0 1 887.1 840.5z" fill="#F4A582" stroke="#000" stroke-width="2.0" stroke-linejoin="round"/>
<circle cx="905.1" cy="838.0" r="13.4" fill="none" stroke="#FDDBC7" stroke-width="2.3"/>
<path d="M905.1 838.0L905.1 824.9z" fill="#FDDBC7" stroke="#000" stroke-width="2.0" stroke-linejoin="round"/>
<circle cx="936.0" cy="838.0" r="13.4" fill="none" stroke="#D1E5F0" stroke-width="2.3"/>
<path d="M936.0 838.0V824.9A13.1 13.1 0 0 0 924.5 831.7z" fill="#D1E5F0" stroke="#000" stroke-width="2.0" stroke-linejoin="round"/>
<circle cx="966.9" cy="838.0" r="13.4" fill="none" stroke="#D1E5F0" stroke-width="2.3"/>
<path d="M966.9 838.0V824.9A13.1 13.1 0 0 0 957.9 828.5z" fill="#D1E5F0" stroke="#000" stroke-width="2.0" stroke-linejoin="round"/>
<circle cx="997.7" cy="838.0" r="13.4" fill="none" stroke="#D1E5F0" stroke-width="2.3"/>
<path d="M997.7 838.0V824.9A13.1 13.1 0 0 0 987.6 829.7z" fill="#D1E5F0" stroke="#000" stroke-width="2.0" stroke-linejoin="round"/>
<circle cx="1028.6" cy="838.0" r="13.4" fill="none" stroke="#D1E5F0" stroke-width="2.3"/>
<path d="M1028.6 838.0V824.9A13.1 13.1 0 0 0 1017.1 831.7z" fill="#D1E5F0" stroke="#000" stroke-width="2.0" stroke-linejoin="round"/>
<circle cx="1090.4" cy="838.0" r="13.4" fill="none" stroke="#D1E5F0" stroke-width="2.3"/>
<path d="M1090.4 838.0V824.9A13.1 13.1 0 0 0 1080.8 829.1z" fill="#D1E5F0" stroke="#000" stroke-width="2.0" stroke-linejoin="round"/>
<circle cx="1121.3" cy="838.0" r="13.4" fill="none" stroke="#FDDBC7" stroke-width="2.3"/>
<path d="M1121.3 838.0V824.9A13.1 13.1 0 0 1 1129.0 827.4z" fill="#FDDBC7" stroke="#000" stroke-width="2.0" stroke-linejoin="round"/>
<circle cx="1152.2" cy="838.0" r="13.4" fill="none" stroke="#FDDBC7" stroke-width="2.3"/>
<path d="M1152.2 838.0V824.9A13.1 13.1 0 0 1 1159.2 827.0z" fill="#FDDBC7" stroke="#000" stroke-width="2.0" stroke-linejoin="round"/>
<circle cx="1183.0" cy="838.0" r="13.4" fill="none" stroke="#FDDBC7" stroke-width="2.3"/>
<path d="M1183.0 838.0L1183.0 824.9z" fill="#FDDBC7" stroke="#000" stroke-width="2.0" stroke-linejoin="round"/>
<circle cx="719.8" cy="868.9" r="13.4" fill="none" stroke="#F4A582" stroke-width="2.3"/>
<path d="M719.8 868.9V855.8A13.1 13.1 0 0 1 725.4 880.8z" fill="#F4A582" stroke="#000" stroke-width="2.0" stroke-linejoin="round"/>
<circle cx="750.7" cy="868.9" r="13.4" fill="none" stroke="#F4A582" stroke-width="2.3"/>
<path d="M750.7 868.9V855.8A13.1 13.1 0 0 1 759.7 878.5z" fill="#F4A582" stroke="#000" stroke-width="2.0" stroke-linejoin="round"/>
<circle cx="781.6" cy="868.9" r="13.4" fill="none" stroke="#B2182B" stroke-width="2.3"/>
<path d="M781.6 868.9V855.8A13.1 13.1 0 1 1 770.9 861.2z" fill="#B2182B" stroke="#000" stroke-width="2.0" stroke-linejoin="round"/>
<circle cx="812.5" cy="868.9" r="13.4" fill="none" stroke="#92C5DE" stroke-width="2.3"/>
<path d="M812.5 868.9V855.8A13.1 13.1 0 0 0 804.7 879.5z" fill="#92C5DE" stroke="#000" stroke-width="2.0" stroke-linejoin="round"/>
<circle cx="843.3" cy="868.9" r="13.4" fill="none" stroke="#FDDBC7" stroke-width="2.3"/>
<path d="M843.3 868.9V855.8A13.1 13.1 0 0 1 851.0 858.3z" fill="#FDDBC7" stroke="#000" stroke-width="2.0" stroke-linejoin="round"/>
<circle cx="874.2" cy="868.9" r="13.4" fill="none" stroke="#FDDBC7" stroke-width="2.3"/>
<path d="M874.2 868.9V855.8A13.1 13.1 0 0 1 883.8 859.9z" fill="#FDDBC7" stroke="#000" stroke-width="2.0" stroke-linejoin="round"/>
<circle cx="905.1" cy="868.9" r="13.4" fill="none" stroke="#D1E5F0" stroke-width="2.3"/>
<path d="M905.1 868.9V855.8A13.1 13.1 0 0 0 897.4 858.3z" fill="#D1E5F0" stroke="#000" stroke-width="2.0" stroke-linejoin="round"/>
<circle cx="936.0" cy="868.9" r="13.4" fill="none" stroke="#4393C3" stroke-width="2.3"/>
<path d="M936.0 868.9V855.8A13.1 13.1 0 1 0 941.6 880.8z" fill="#4393C3" stroke="#000" stroke-width="2.0" stroke-linejoin="round"/>
<circle cx="966.9" cy="868.9" r="13.4" fill="none" stroke="#4393C3" stroke-width="2.3"/>
<path d="M966.9 868.9V855.8A13.1 13.1 0 1 0 969.3 881.8z" fill="#4393C3" stroke="#000" stroke-width="2.0" stroke-linejoin="round"/>
<circle cx="997.7" cy="868.9" r="13.4" fill="none" stroke="#92C5DE" stroke-width="2.3"/>
<path d="M997.7 868.9V855.8A13.1 13.1 0 0 0 996.1 881.9z" fill="#92C5DE" stroke="#000" stroke-width="2.0" stroke-linejoin="round"/>
<circle cx="1028.6" cy="868.9" r="13.4" fill="none" stroke="#92C5DE" stroke-width="2.3"/>
<path d="M1028.6 868.9V855.8A13.1 13.1 0 0 0 1027.8 882.0z" fill="#92C5DE" stroke="#000" stroke-width="2.0" stroke-linejoin="round"/>
<circle cx="1059.5" cy="868.9" r="13.4" fill="none" stroke="#F4A582" stroke-width="2.3"/>
<path d="M1059.5 868.9V855.8A13.1 13.1 0 0 1 1064.3 881.1z" fill="#F4A582" stroke="#000" stroke-width="2.0" stroke-linejoin="round"/>
<circle cx="1090.4" cy="868.9" r="13.4" fill="none" stroke="#92C5DE" stroke-width="2.3"/>
<path d="M1090.4 868.9V855.8A13.1 13.1 0 0 0 1080.8 877.9z" fill="#92C5DE" stroke="#000" stroke-width="2.0" stroke-linejoin="round"/>
<circle cx="1121.3" cy="868.9" r="13.4" fill="none" stroke="#D6604D" stroke-width="2.3"/>
<path d="M1121.3 868.9V855.8A13.1 13.1 0 1 1 1118.0 881.6z" fill="#D6604D" stroke="#000" stroke-width="2.0" stroke-linejoin="round"/>
<circle cx="1152.2" cy="868.9" r="13.4" fill="none" stroke="#D6604D" stroke-width="2.3"/>
<path d="M1152.2 868.9V855.8A13.1 13.1 0 1 1 1141.1 876.0z" fill="#D6604D" stroke="#000" stroke-width="2.0" stroke-linejoin="round"/>
<circle cx="750.7" cy="899.8" r="13.4" fill="none" stroke="#F4A582" stroke-width="2.3"/>
<path d="M750.7 899.8V886.7A13.1 13.1 0 0 1 763.6 902.3z" fill="#F4A582" stroke="#000" stroke-width="2.0" stroke-linejoin="round"/>
<circle cx="781.6" cy="899.8" r="13.4" fill="none" stroke="#FDDBC7" stroke-width="2.3"/>
<path d="M781.6 899.8V886.7A13.1 13.1 0 0 1 794.5 897.3z" fill="#FDDBC7" stroke="#000" stroke-width="2.0" stroke-linejoin="round"/>
<circle cx="812.5" cy="899.8" r="13.4" fill="none" stroke="#D1E5F0" stroke-width="2.3"/>
<path d="M812.5 899.8L812.5 886.7z" fill="#D1E5F0" stroke="#000" stroke-width="2.0" stroke-linejoin="round"/>
<circle cx="843.3" cy="899.8" r="13.4" fill="none" stroke="#FDDBC7" stroke-width="2.3"/>
<path d="M843.3 899.8V886.7A13.1 13.1 0 0 1 848.9 887.9z" fill="#FDDBC7" stroke="#000" stroke-width="2.0" stroke-linejoin="round"/>
<circle cx="874.2" cy="899.8" r="13.4" fill="none" stroke="#FDDBC7" stroke-width="2.3"/>
<path d="M874.2 899.8V886.7A13.1 13.1 0 0 1 881.9 889.2z" fill="#FDDBC7" stroke="#000" stroke-width="2.0" stroke-linejoin="round"/>
<circle cx="905.1" cy="899.8" r="13.4" fill="none" stroke="#D1E5F0" stroke-width="2.3"/>
<path d="M905.1 899.8L905.1 886.7L903.9 886.7L902.6 886.9z" fill="#D1E5F0" stroke="#000" stroke-width="2.0" stroke-linejoin="round"/>
<circle cx="936.0" cy="899.8" r="13.4" fill="none" stroke="#92C5DE" stroke-width="2.3"/>
<path d="M936.0 899.8V886.7A13.1 13.1 0 0 0 922.9 900.6z" fill="#92C5DE" stroke="#000" stroke-width="2.0" stroke-linejoin="round"/>
<circle cx="966.9" cy="899.8" r="13.4" fill="none" stroke="#D1E5F0" stroke-width="2.3"/>
<path d="M966.9 899.8V886.7A13.1 13.1 0 0 0 954.4 895.7z" fill="#D1E5F0" stroke="#000" stroke-width="2.0" stroke-linejoin="round"/>
<circle cx="997.7" cy="899.8" r="13.4" fill="none" stroke="#D1E5F0" stroke-width="2.3"/>
<path d="M997.7 899.8V886.7A13.1 13.1 0 0 0 985.3 895.7z" fill="#D1E5F0" stroke="#000" stroke-width="2.0" stroke-linejoin="round"/>
<circle cx="1028.6" cy="899.8" r="13.4" fill="none" stroke="#D1E5F0" stroke-width="2.3"/>
<path d="M1028.6 899.8V886.7A13.1 13.1 0 0 0 1015.6 898.2z" fill="#D1E5F0" stroke="#000" stroke-width="2.0" stroke-linejoin="round"/>
<circle cx="1059.5" cy="899.8" r="13.4" fill="none" stroke="#FDDBC7" stroke-width="2.3"/>
<path d="M1059.5 899.8V886.7A13.1 13.1 0 0 1 1072.0 895.7z" fill="#FDDBC7" stroke="#000" stroke-width="2.0" stroke-linejoin="round"/>
<circle cx="1090.4" cy="899.8" r="13.4" fill="none" stroke="#D1E5F0" stroke-width="2.3"/>
<path d="M1090.4 899.8V886.7A13.1 13.1 0 0 0 1078.9 893.5z" fill="#D1E5F0" stroke="#000" stroke-width="2.0" stroke-linejoin="round"/>
<circle cx="1121.3" cy="899.8" r="13.4" fill="none" stroke="#FDDBC7" stroke-width="2.3"/>
<path d="M1121.3 899.8V886.7A13.1 13.1 0 0 1 1134.4 899.0z" fill="#FDDBC7" stroke="#000" stroke-width="2.0" stroke-linejoin="round"/>
<circle cx="1152.2" cy="899.8" r="13.4" fill="none" stroke="#F4A582" stroke-width="2.3"/>
<path d="M1152.2 899.8V886.7A13.1 13.1 0 0 1 1165.1 902.3z" fill="#F4A582" stroke="#000" stroke-width="2.0" stroke-linejoin="round"/>
<circle cx="1183.0" cy="899.8" r="13.4" fill="none" stroke="#D1E5F0" stroke-width="2.3"/>
<path d="M1183.0 899.8L1183.0 886.7L1181.4 886.8z" fill="#D1E5F0" stroke="#000" stroke-width="2.0" stroke-linejoin="round"/>
<circle cx="781.6" cy="930.7" r="13.4" fill="none" stroke="#FDDBC7" stroke-width="2.3"/>
<path d="M781.6 930.7V917.6A13.1 13.1 0 0 1 792.2 923.0z" fill="#FDDBC7" stroke="#000" stroke-width="2.0" stroke-linejoin="round"/>
<circle cx="843.3" cy="930.7" r="13.4" fill="none" stroke="#FDDBC7" stroke-width="2.3"/>
<path d="M843.3 930.7V917.6A13.1 13.1 0 0 1 848.2 918.5z" fill="#FDDBC7" stroke="#000" stroke-width="2.0" stroke-linejoin="round"/>
<circle cx="874.2" cy="930.7" r="13.4" fill="none" stroke="#FDDBC7" stroke-width="2.3"/>
<path d="M874.2 930.7V917.6A13.1 13.1 0 0 1 883.2 921.1z" fill="#FDDBC7" stroke="#000" stroke-width="2.0" stroke-linejoin="round"/>
<circle cx="936.0" cy="930.7" r="13.4" fill="none" stroke="#D1E5F0" stroke-width="2.3"/>
<path d="M936.0 930.7V917.6A13.1 13.1 0 0 0 923.5 926.6z" fill="#D1E5F0" stroke="#000" stroke-width="2.0" stroke-linejoin="round"/>
<circle cx="966.9" cy="930.7" r="13.4" fill="none" stroke="#D1E5F0" stroke-width="2.3"/>
<path d="M966.9 930.7V917.6A13.1 13.1 0 0 0 957.3 921.7z" fill="#D1E5F0" stroke="#000" stroke-width="2.0" stroke-linejoin="round"/>
<circle cx="997.7" cy="930.7" r="13.4" fill="none" stroke="#D1E5F0" stroke-width="2.3"/>
<path d="M997.7 930.7V917.6A13.1 13.1 0 0 0 987.1 923.0z" fill="#D1E5F0" stroke="#000" stroke-width="2.0" stroke-linejoin="round"/>
<circle cx="1028.6" cy="930.7" r="13.4" fill="none" stroke="#D1E5F0" stroke-width="2.3"/>
<path d="M1028.6 930.7V917.6A13.1 13.1 0 0 0 1017.5 923.7z" fill="#D1E5F0" stroke="#000" stroke-width="2.0" stroke-linejoin="round"/>
<circle cx="1059.5" cy="930.7" r="13.4" fill="none" stroke="#FDDBC7" stroke-width="2.3"/>
<path d="M1059.5 930.7V917.6A13.1 13.1 0 0 1 1067.2 920.1z" fill="#FDDBC7" stroke="#000" stroke-width="2.0" stroke-linejoin="round"/>
<circle cx="1090.4" cy="930.7" r="13.4" fill="none" stroke="#D1E5F0" stroke-width="2.3"/>
<path d="M1090.4 930.7V917.6A13.1 13.1 0 0 0 1079.8 923.0z" fill="#D1E5F0" stroke="#000" stroke-width="2.0" stroke-linejoin="round"/>
<circle cx="1121.3" cy="930.7" r="13.4" fill="none" stroke="#FDDBC7" stroke-width="2.3"/>
<path d="M1121.3 930.7V917.6A13.1 13.1 0 0 1 1132.4 923.7z" fill="#FDDBC7" stroke="#000" stroke-width="2.0" stroke-linejoin="round"/>
<circle cx="1152.2" cy="930.7" r="13.4" fill="none" stroke="#FDDBC7" stroke-width="2.3"/>
<path d="M1152.2 930.7V917.6A13.1 13.1 0 0 1 1164.4 925.9z" fill="#FDDBC7" stroke="#000" stroke-width="2.0" stroke-linejoin="round"/>
<circle cx="1183.0" cy="930.7" r="13.4" fill="none" stroke="#D1E5F0" stroke-width="2.3"/>
<path d="M1183.0 930.7L1183.0 917.6L1181.4 917.7z" fill="#D1E5F0" stroke="#000" stroke-width="2.0" stroke-linejoin="round"/>
<circle cx="812.5" cy="961.6" r="13.4" fill="none" stroke="#D1E5F0" stroke-width="2.3"/>
<path d="M812.5 961.6V948.4A13.1 13.1 0 0 0 799.7 958.3z" fill="#D1E5F0" stroke="#000" stroke-width="2.0" stroke-linejoin="round"/>
<circle cx="843.3" cy="961.6" r="13.4" fill="none" stroke="#FDDBC7" stroke-width="2.3"/>
<path d="M843.3 961.6L843.3 948.4L844.4 948.5L845.5 948.6L846.6 948.9z" fill="#FDDBC7" stroke="#000" stroke-width="2.0" stroke-linejoin="round"/>
<circle cx="874.2" cy="961.6" r="13.4" fill="none" stroke="#FDDBC7" stroke-width="2.3"/>
<path d="M874.2 961.6V948.4A13.1 13.1 0 0 1 879.0 949.4z" fill="#FDDBC7" stroke="#000" stroke-width="2.0" stroke-linejoin="round"/>
<circle cx="905.1" cy="961.6" r="13.4" fill="none" stroke="#D1E5F0" stroke-width="2.3"/>
<path d="M905.1 961.6V948.4A13.1 13.1 0 0 0 897.4 950.9z" fill="#D1E5F0" stroke="#000" stroke-width="2.0" stroke-linejoin="round"/>
<circle cx="936.0" cy="961.6" r="13.4" fill="none" stroke="#92C5DE" stroke-width="2.3"/>
<path d="M936.0 961.6V948.4A13.1 13.1 0 0 0 923.5 965.6z" fill="#92C5DE" stroke="#000" stroke-width="2.0" stroke-linejoin="round"/>
<circle cx="966.9" cy="961.6" r="13.4" fill="none" stroke="#92C5DE" stroke-width="2.3"/>
<path d="M966.9 961.6V948.4A13.1 13.1 0 0 0 954.4 965.6z" fill="#92C5DE" stroke="#000" stroke-width="2.0" stroke-linejoin="round"/>
<circle cx="997.7" cy="961.6" r="13.4" fill="none" stroke="#92C5DE" stroke-width="2.3"/>
<path d="M997.7 961.6V948.4A13.1 13.1 0 0 0 984.7 963.2z" fill="#92C5DE" stroke="#000" stroke-width="2.0" stroke-linejoin="round"/>
<circle cx="1028.6" cy="961.6" r="13.4" fill="none" stroke="#92C5DE" stroke-width="2.3"/>
<path d="M1028.6 961.6V948.4A13.1 13.1 0 0 0 1015.9 964.8z" fill="#92C5DE" stroke="#000" stroke-width="2.0" stroke-linejoin="round"/>
<circle cx="1059.5" cy="961.6" r="13.4" fill="none" stroke="#F4A582" stroke-width="2.3"/>
<path d="M1059.5 961.6V948.4A13.1 13.1 0 0 1 1071.7 966.4z" fill="#F4A582" stroke="#000" stroke-width="2.0" stroke-linejoin="round"/>
<circle cx="1090.4" cy="961.6" r="13.4" fill="none" stroke="#D1E5F0" stroke-width="2.3"/>
<path d="M1090.4 961.6V948.4A13.1 13.1 0 0 0 1077.5 959.1z" fill="#D1E5F0" stroke="#000" stroke-width="2.0" stroke-linejoin="round"/>
<circle cx="1121.3" cy="961.6" r="13.4" fill="none" stroke="#F4A582" stroke-width="2.3"/>
<path d="M1121.3 961.6V948.4A13.1 13.1 0 0 1 1129.0 972.2z" fill="#F4A582" stroke="#000" stroke-width="2.0" stroke-linejoin="round"/>
<circle cx="1152.2" cy="961.6" r="13.4" fill="none" stroke="#F4A582" stroke-width="2.3"/>
<path d="M1152.2 961.6V948.4A13.1 13.1 0 0 1 1157.0 973.8z" fill="#F4A582" stroke="#000" stroke-width="2.0" stroke-linejoin="round"/>
<circle cx="874.2" cy="992.5" r="13.4" fill="none" stroke="#FDDBC7" stroke-width="2.3"/>
<path d="M874.2 992.5L874.2 979.3z" fill="#FDDBC7" stroke="#000" stroke-width="2.0" stroke-linejoin="round"/>
<circle cx="905.1" cy="992.5" r="13.4" fill="none" stroke="#FDDBC7" stroke-width="2.3"/>
<path d="M905.1 992.5V979.3A13.1 13.1 0 0 1 917.8 989.2z" fill="#FDDBC7" stroke="#000" stroke-width="2.0" stroke-linejoin="round"/>
<circle cx="936.0" cy="992.5" r="13.4" fill="none" stroke="#F4A582" stroke-width="2.3"/>
<path d="M936.0 992.5V979.3A13.1 13.1 0 0 1 943.7 1003.1z" fill="#F4A582" stroke="#000" stroke-width="2.0" stroke-linejoin="round"/>
<circle cx="966.9" cy="992.5" r="13.4" fill="none" stroke="#D6604D" stroke-width="2.3"/>
<path d="M966.9 992.5V979.3A13.1 13.1 0 1 1 959.2 1003.1z" fill="#D6604D" stroke="#000" stroke-width="2.0" stroke-linejoin="round"/>
<circle cx="997.7" cy="992.5" r="13.4" fill="none" stroke="#D6604D" stroke-width="2.3"/>
<path d="M997.7 992.5V979.3A13.1 13.1 0 1 1 992.9 1004.7z" fill="#D6604D" stroke="#000" stroke-width="2.0" stroke-linejoin="round"/>
<circle cx="1028.6" cy="992.5" r="13.4" fill="none" stroke="#D6604D" stroke-width="2.3"/>
<path d="M1028.6 992.5V979.3A13.1 13.1 0 1 1 1024.6 1004.9z" fill="#D6604D" stroke="#000" stroke-width="2.0" stroke-linejoin="round"/>
<circle cx="1059.5" cy="992.5" r="13.4" fill="none" stroke="#92C5DE" stroke-width="2.3"/>
<path d="M1059.5 992.5V979.3A13.1 13.1 0 0 0 1049.9 1001.4z" fill="#92C5DE" stroke="#000" stroke-width="2.0" stroke-linejoin="round"/>
<circle cx="1090.4" cy="992.5" r="13.4" fill="none" stroke="#F4A582" stroke-width="2.3"/>
<path d="M1090.4 992.5V979.3A13.1 13.1 0 0 1 1096.0 1004.3z" fill="#F4A582" stroke="#000" stroke-width="2.0" stroke-linejoin="round"/>
<circle cx="1121.3" cy="992.5" r="13.4" fill="none" stroke="#4393C3" stroke-width="2.3"/>
<path d="M1121.3 992.5V979.3A13.1 13.1 0 1 0 1122.9 1005.5z" fill="#4393C3" stroke="#000" stroke-width="2.0" stroke-linejoin="round"/>
<circle cx="1152.2" cy="992.5" r="13.4" fill="none" stroke="#4393C3" stroke-width="2.3"/>
<path d="M1152.2 992.5V979.3A13.1 13.1 0 1 0 1152.6 1005.6z" fill="#4393C3" stroke="#000" stroke-width="2.0" stroke-linejoin="round"/>
<circle cx="1183.0" cy="992.5" r="13.4" fill="none" stroke="#FDDBC7" stroke-width="2.3"/>
<path d="M1183.0 992.5V979.3A13.1 13.1 0 0 1 1188.6 980.6z" fill="#FDDBC7" stroke="#000" stroke-width="2.0" stroke-linejoin="round"/>
<circle cx="874.2" cy="1023.3" r="13.4" fill="none" stroke="#FDDBC7" stroke-width="2.3"/>
<path d="M874.2 1023.3V1010.2A13.1 13.1 0 0 1 887.1 1020.9z" fill="#FDDBC7" stroke="#000" stroke-width="2.0" stroke-linejoin="round"/>
<circle cx="936.0" cy="1023.3" r="13.4" fill="none" stroke="#D1E5F0" stroke-width="2.3"/>
<path d="M936.0 1023.3V1010.2A13.1 13.1 0 0 0 928.9 1012.3z" fill="#D1E5F0" stroke="#000" stroke-width="2.0" stroke-linejoin="round"/>
<circle cx="966.9" cy="1023.3" r="13.4" fill="none" stroke="#D1E5F0" stroke-width="2.3"/>
<path d="M966.9 1023.3V1010.2A13.1 13.1 0 0 0 962.8 1010.9z" fill="#D1E5F0" stroke="#000" stroke-width="2.0" stroke-linejoin="round"/>
<circle cx="997.7" cy="1023.3" r="13.4" fill="none" stroke="#D1E5F0" stroke-width="2.3"/>
<path d="M997.7 1023.3V1010.2A13.1 13.1 0 0 0 992.2 1011.5z" fill="#D1E5F0" stroke="#000" stroke-width="2.0" stroke-linejoin="round"/>
<circle cx="1028.6" cy="1023.3" r="13.4" fill="none" stroke="#D1E5F0" stroke-width="2.3"/>
<path d="M1028.6 1023.3V1010.2A13.1 13.1 0 0 0 1023.0 1011.5z" fill="#D1E5F0" stroke="#000" stroke-width="2.0" stroke-linejoin="round"/>
<circle cx="1121.3" cy="1023.3" r="13.4" fill="none" stroke="#FDDBC7" stroke-width="2.3"/>
<path d="M1121.3 1023.3L1121.3 1010.2L1122.4 1010.3L1123.5 1010.4L1124.5 1010.6z" fill="#FDDBC7" stroke="#000" stroke-width="2.0" stroke-linejoin="round"/>
<circle cx="1183.0" cy="1023.3" r="13.4" fill="none" stroke="#D1E5F0" stroke-width="2.3"/>
<path d="M1183.0 1023.3L1183.0 1010.2L1181.8 1010.3L1180.6 1010.4z" fill="#D1E5F0" stroke="#000" stroke-width="2.0" stroke-linejoin="round"/>
<circle cx="905.1" cy="1054.2" r="13.4" fill="none" stroke="#FDDBC7" stroke-width="2.3"/>
<path d="M905.1 1054.2L905.1 1041.1L906.7 1041.2z" fill="#FDDBC7" stroke="#000" stroke-width="2.0" stroke-linejoin="round"/>
<circle cx="936.0" cy="1054.2" r="13.4" fill="none" stroke="#D1E5F0" stroke-width="2.3"/>
<path d="M936.0 1054.2V1041.1A13.1 13.1 0 0 0 927.6 1044.1z" fill="#D1E5F0" stroke="#000" stroke-width="2.0" stroke-linejoin="round"/>
<circle cx="966.9" cy="1054.2" r="13.4" fill="none" stroke="#D1E5F0" stroke-width="2.3"/>
<path d="M966.9 1054.2V1041.1A13.1 13.1 0 0 0 962.8 1041.7z" fill="#D1E5F0" stroke="#000" stroke-width="2.0" stroke-linejoin="round"/>
<circle cx="997.7" cy="1054.2" r="13.4" fill="none" stroke="#D1E5F0" stroke-width="2.3"/>
<path d="M997.7 1054.2V1041.1A13.1 13.1 0 0 0 990.7 1043.1z" fill="#D1E5F0" stroke="#000" stroke-width="2.0" stroke-linejoin="round"/>
<circle cx="1028.6" cy="1054.2" r="13.4" fill="none" stroke="#D1E5F0" stroke-width="2.3"/>
<path d="M1028.6 1054.2V1041.1A13.1 13.1 0 0 0 1021.6 1043.1z" fill="#D1E5F0" stroke="#000" stroke-width="2.0" stroke-linejoin="round"/>
<circle cx="1059.5" cy="1054.2" r="13.4" fill="none" stroke="#D1E5F0" stroke-width="2.3"/>
<path d="M1059.5 1054.2V1041.1A13.1 13.1 0 0 0 1055.5 1041.7z" fill="#D1E5F0" stroke="#000" stroke-width="2.0" stroke-linejoin="round"/>
<circle cx="1090.4" cy="1054.2" r="13.4" fill="none" stroke="#D1E5F0" stroke-width="2.3"/>
<path d="M1090.4 1054.2L1090.4 1041.1L1089.3 1041.1L1088.2 1041.3L1087.1 1041.5z" fill="#D1E5F0" stroke="#000" stroke-width="2.0" stroke-linejoin="round"/>
<circle cx="1183.0" cy="1054.2" r="13.4" fill="none" stroke="#D1E5F0" stroke-width="2.3"/>
<path d="M1183.0 1054.2L1183.0 1041.1L1181.9 1041.1L1180.9 1041.3L1179.8 1041.5z" fill="#D1E5F0" stroke="#000" stroke-width="2.0" stroke-linejoin="round"/>
<circle cx="966.9" cy="1085.1" r="13.4" fill="none" stroke="#F4A582" stroke-width="2.3"/>
<path d="M966.9 1085.1V1072.0A13.1 13.1 0 0 1 979.9 1086.7z" fill="#F4A582" stroke="#000" stroke-width="2.0" stroke-linejoin="round"/>
<circle cx="997.7" cy="1085.1" r="13.4" fill="none" stroke="#FDDBC7" stroke-width="2.3"/>
<path d="M997.7 1085.1V1072.0A13.1 13.1 0 0 1 1010.0 1080.3z" fill="#FDDBC7" stroke="#000" stroke-width="2.0" stroke-linejoin="round"/>
<circle cx="1028.6" cy="1085.1" r="13.4" fill="none" stroke="#FDDBC7" stroke-width="2.3"/>
<path d="M1028.6 1085.1V1072.0A13.1 13.1 0 0 1 1041.1 1081.0z" fill="#FDDBC7" stroke="#000" stroke-width="2.0" stroke-linejoin="round"/>
<circle cx="1059.5" cy="1085.1" r="13.4" fill="none" stroke="#92C5DE" stroke-width="2.3"/>
<path d="M1059.5 1085.1V1072.0A13.1 13.1 0 0 0 1047.0 1089.2z" fill="#92C5DE" stroke="#000" stroke-width="2.0" stroke-linejoin="round"/>
<circle cx="1090.4" cy="1085.1" r="13.4" fill="none" stroke="#FDDBC7" stroke-width="2.3"/>
<path d="M1090.4 1085.1L1090.4 1072.0z" fill="#FDDBC7" stroke="#000" stroke-width="2.0" stroke-linejoin="round"/>
<circle cx="1121.3" cy="1085.1" r="13.4" fill="none" stroke="#92C5DE" stroke-width="2.3"/>
<path d="M1121.3 1085.1V1072.0A13.1 13.1 0 0 0 1113.6 1095.7z" fill="#92C5DE" stroke="#000" stroke-width="2.0" stroke-linejoin="round"/>
<circle cx="1152.2" cy="1085.1" r="13.4" fill="none" stroke="#D1E5F0" stroke-width="2.3"/>
<path d="M1152.2 1085.1V1072.0A13.1 13.1 0 0 0 1139.7 1081.0z" fill="#D1E5F0" stroke="#000" stroke-width="2.0" stroke-linejoin="round"/>
<circle cx="1183.0" cy="1085.1" r="13.4" fill="none" stroke="#FDDBC7" stroke-width="2.3"/>
<path d="M1183.0 1085.1V1072.0A13.1 13.1 0 0 1 1194.5 1078.8z" fill="#FDDBC7" stroke="#000" stroke-width="2.0" stroke-linejoin="round"/>
<circle cx="966.9" cy="1116.0" r="13.4" fill="none" stroke="#D6604D" stroke-width="2.3"/>
<path d="M966.9 1116.0V1102.9A13.1 13.1 0 1 1 955.0 1121.6z" fill="#D6604D" stroke="#000" stroke-width="2.0" stroke-linejoin="round"/>
<circle cx="997.7" cy="1116.0" r="13.4" fill="none" stroke="#D6604D" stroke-width="2.3"/>
<path d="M997.7 1116.0V1102.9A13.1 13.1 0 1 1 992.2 1127.9z" fill="#D6604D" stroke="#000" stroke-width="2.0" stroke-linejoin="round"/>
<circle cx="1028.6" cy="1116.0" r="13.4" fill="none" stroke="#D6604D" stroke-width="2.3"/>
<path d="M1028.6 1116.0V1102.9A13.1 13.1 0 1 1 1023.8 1128.2z" fill="#D6604D" stroke="#000" stroke-width="2.0" stroke-linejoin="round"/>
<circle cx="1059.5" cy="1116.0" r="13.4" fill="none" stroke="#92C5DE" stroke-width="2.3"/>
<path d="M1059.5 1116.0V1102.9A13.1 13.1 0 0 0 1046.8 1119.2z" fill="#92C5DE" stroke="#000" stroke-width="2.0" stroke-linejoin="round"/>
<circle cx="1090.4" cy="1116.0" r="13.4" fill="none" stroke="#D6604D" stroke-width="2.3"/>
<path d="M1090.4 1116.0V1102.9A13.1 13.1 0 1 1 1086.3 1128.5z" fill="#D6604D" stroke="#000" stroke-width="2.0" stroke-linejoin="round"/>
<circle cx="1121.3" cy="1116.0" r="13.4" fill="none" stroke="#92C5DE" stroke-width="2.3"/>
<path d="M1121.3 1116.0V1102.9A13.1 13.1 0 0 0 1115.0 1127.5z" fill="#92C5DE" stroke="#000" stroke-width="2.0" stroke-linejoin="round"/>
<circle cx="1152.2" cy="1116.0" r="13.4" fill="none" stroke="#4393C3" stroke-width="2.3"/>
<path d="M1152.2 1116.0V1102.9A13.1 13.1 0 1 0 1163.7 1122.3z" fill="#4393C3" stroke="#000" stroke-width="2.0" stroke-linejoin="round"/>
<circle cx="997.7" cy="1146.9" r="13.4" fill="none" stroke="#D6604D" stroke-width="2.3"/>
<path d="M997.7 1146.9V1133.7A13.1 13.1 0 1 1 986.7 1153.9z" fill="#D6604D" stroke="#000" stroke-width="2.0" stroke-linejoin="round"/>
<circle cx="1028.6" cy="1146.9" r="13.4" fill="none" stroke="#D6604D" stroke-width="2.3"/>
<path d="M1028.6 1146.9V1133.7A13.1 13.1 0 1 1 1017.1 1153.2z" fill="#D6604D" stroke="#000" stroke-width="2.0" stroke-linejoin="round"/>
<circle cx="1059.5" cy="1146.9" r="13.4" fill="none" stroke="#92C5DE" stroke-width="2.3"/>
<path d="M1059.5 1146.9V1133.7A13.1 13.1 0 0 0 1057.9 1159.9z" fill="#92C5DE" stroke="#000" stroke-width="2.0" stroke-linejoin="round"/>
<circle cx="1090.4" cy="1146.9" r="13.4" fill="none" stroke="#D6604D" stroke-width="2.3"/>
<path d="M1090.4 1146.9V1133.7A13.1 13.1 0 1 1 1082.7 1157.5z" fill="#D6604D" stroke="#000" stroke-width="2.0" stroke-linejoin="round"/>
<circle cx="1121.3" cy="1146.9" r="13.4" fill="none" stroke="#4393C3" stroke-width="2.3"/>
<path d="M1121.3 1146.9V1133.7A13.1 13.1 0 1 0 1133.2 1152.5z" fill="#4393C3" stroke="#000" stroke-width="2.0" stroke-linejoin="round"/>
<circle cx="1152.2" cy="1146.9" r="13.4" fill="none" stroke="#4393C3" stroke-width="2.3"/>
<path d="M1152.2 1146.9V1133.7A13.1 13.1 0 1 0 1164.9 1150.1z" fill="#4393C3" stroke="#000" stroke-width="2.0" stroke-linejoin="round"/>
<circle cx="1183.0" cy="1146.9" r="13.4" fill="none" stroke="#FDDBC7" stroke-width="2.3"/>
<path d="M1183.0 1146.9L1183.0 1133.7L1184.3 1133.8L1185.5 1134.0z" fill="#FDDBC7" stroke="#000" stroke-width="2.0" stroke-linejoin="round"/>
<circle cx="1028.6" cy="1177.7" r="13.4" fill="none" stroke="#B2182B" stroke-width="2.3"/>
<path d="M1028.6 1177.7V1164.6A13.1 13.1 0 1 1 1025.0 1165.1z" fill="#B2182B" stroke="#000" stroke-width="2.0" stroke-linejoin="round"/>
<circle cx="1059.5" cy="1177.7" r="13.4" fill="none" stroke="#92C5DE" stroke-width="2.3"/>
<path d="M1059.5 1177.7V1164.6A13.1 13.1 0 0 0 1048.4 1184.8z" fill="#92C5DE" stroke="#000" stroke-width="2.0" stroke-linejoin="round"/>
<circle cx="1090.4" cy="1177.7" r="13.4" fill="none" stroke="#D6604D" stroke-width="2.3"/>
<path d="M1090.4 1177.7V1164.6A13.1 13.1 0 1 1 1080.8 1186.7z" fill="#D6604D" stroke="#000" stroke-width="2.0" stroke-linejoin="round"/>
<circle cx="1121.3" cy="1177.7" r="13.4" fill="none" stroke="#4393C3" stroke-width="2.3"/>
<path d="M1121.3 1177.7V1164.6A13.1 13.1 0 1 0 1133.2 1183.3z" fill="#4393C3" stroke="#000" stroke-width="2.0" stroke-linejoin="round"/>
<circle cx="1152.2" cy="1177.7" r="13.4" fill="none" stroke="#4393C3" stroke-width="2.3"/>
<path d="M1152.2 1177.7V1164.6A13.1 13.1 0 1 0 1157.0 1190.0z" fill="#4393C3" stroke="#000" stroke-width="2.0" stroke-linejoin="round"/>
<circle cx="1183.0" cy="1177.7" r="13.4" fill="none" stroke="#F4A582" stroke-width="2.3"/>
<path d="M1183.0 1177.7V1164.6A13.1 13.1 0 0 1 1195.9 1180.2z" fill="#F4A582" stroke="#000" stroke-width="2.0" stroke-linejoin="round"/>
<circle cx="1059.5" cy="1208.6" r="13.4" fill="none" stroke="#92C5DE" stroke-width="2.3"/>
<path d="M1059.5 1208.6V1195.5A13.1 13.1 0 0 0 1051.1 1218.7z" fill="#92C5DE" stroke="#000" stroke-width="2.0" stroke-linejoin="round"/>
<circle cx="1090.4" cy="1208.6" r="13.4" fill="none" stroke="#D6604D" stroke-width="2.3"/>
<path d="M1090.4 1208.6V1195.5A13.1 13.1 0 1 1 1077.7 1211.9z" fill="#D6604D" stroke="#000" stroke-width="2.0" stroke-linejoin="round"/>
<circle cx="1121.3" cy="1208.6" r="13.4" fill="none" stroke="#4393C3" stroke-width="2.3"/>
<path d="M1121.3 1208.6V1195.5A13.1 13.1 0 1 0 1134.2 1211.1z" fill="#4393C3" stroke="#000" stroke-width="2.0" stroke-linejoin="round"/>
<circle cx="1152.2" cy="1208.6" r="13.4" fill="none" stroke="#4393C3" stroke-width="2.3"/>
<path d="M1152.2 1208.6V1195.5A13.1 13.1 0 1 0 1160.5 1218.7z" fill="#4393C3" stroke="#000" stroke-width="2.0" stroke-linejoin="round"/>
<circle cx="1183.0" cy="1208.6" r="13.4" fill="none" stroke="#F4A582" stroke-width="2.3"/>
<path d="M1183.0 1208.6V1195.5A13.1 13.1 0 0 1 1194.9 1214.2z" fill="#F4A582" stroke="#000" stroke-width="2.0" stroke-linejoin="round"/>
<circle cx="1090.4" cy="1239.5" r="13.4" fill="none" stroke="#D1E5F0" stroke-width="2.3"/>
<path d="M1090.4 1239.5V1226.4A13.1 13.1 0 0 0 1082.7 1228.9z" fill="#D1E5F0" stroke="#000" stroke-width="2.0" stroke-linejoin="round"/>
<circle cx="1121.3" cy="1239.5" r="13.4" fill="none" stroke="#D6604D" stroke-width="2.3"/>
<path d="M1121.3 1239.5V1226.4A13.1 13.1 0 1 1 1110.2 1246.5z" fill="#D6604D" stroke="#000" stroke-width="2.0" stroke-linejoin="round"/>
<circle cx="1152.2" cy="1239.5" r="13.4" fill="none" stroke="#D6604D" stroke-width="2.3"/>
<path d="M1152.2 1239.5V1226.4A13.1 13.1 0 1 1 1139.1 1240.3z" fill="#D6604D" stroke="#000" stroke-width="2.0" stroke-linejoin="round"/>
<circle cx="1183.0" cy="1239.5" r="13.4" fill="none" stroke="#D1E5F0" stroke-width="2.3"/>
<path d="M1183.0 1239.5V1226.4A13.1 13.1 0 0 0 1175.3 1228.9z" fill="#D1E5F0" stroke="#000" stroke-width="2.0" stroke-linejoin="round"/>
<circle cx="1121.3" cy="1270.4" r="13.4" fill="none" stroke="#92C5DE" stroke-width="2.3"/>
<path d="M1121.3 1270.4V1257.3A13.1 13.1 0 0 0 1118.8 1283.3z" fill="#92C5DE" stroke="#000" stroke-width="2.0" stroke-linejoin="round"/>
<circle cx="1152.2" cy="1270.4" r="13.4" fill="none" stroke="#92C5DE" stroke-width="2.3"/>
<path d="M1152.2 1270.4V1257.3A13.1 13.1 0 0 0 1150.5 1283.4z" fill="#92C5DE" stroke="#000" stroke-width="2.0" stroke-linejoin="round"/>
<circle cx="1183.0" cy="1270.4" r="13.4" fill="none" stroke="#FDDBC7" stroke-width="2.3"/>
<path d="M1183.0 1270.4V1257.3A13.1 13.1 0 0 1 1190.1 1259.3z" fill="#FDDBC7" stroke="#000" stroke-width="2.0" stroke-linejoin="round"/>
<circle cx="1152.2" cy="1301.3" r="13.4" fill="none" stroke="#B2182B" stroke-width="2.3"/>
<path d="M1152.2 1301.3V1288.2A13.1 13.1 0 1 1 1142.1 1292.9z" fill="#B2182B" stroke="#000" stroke-width="2.0" stroke-linejoin="round"/>
<circle cx="1183.0" cy="1301.3" r="13.4" fill="none" stroke="#D1E5F0" stroke-width="2.3"/>
<path d="M1183.0 1301.3V1288.2A13.1 13.1 0 0 0 1170.3 1298.0z" fill="#D1E5F0" stroke="#000" stroke-width="2.0" stroke-linejoin="round"/>
<text x="102.4" y="291.2" font-size="34.5" font-weight="bold" text-anchor="middle">o</text>
<text x="133.3" y="322.1" font-size="34.5" font-weight="bold" text-anchor="middle">o</text>
<text x="164.2" y="353.0" font-size="34.5" font-weight="bold" text-anchor="middle">o</text>
<text x="195.1" y="383.9" font-size="34.5" font-weight="bold" text-anchor="middle">o</text>
<text x="226.0" y="414.8" font-size="34.5" font-weight="bold" text-anchor="middle">o</text>
<text x="256.9" y="445.7" font-size="34.5" font-weight="bold" text-anchor="middle">o</text>
<text x="287.7" y="476.5" font-size="34.5" font-weight="bold" text-anchor="middle">o</text>
<text x="318.6" y="507.4" font-size="34.5" font-weight="bold" text-anchor="middle">o</text>
<text x="349.5" y="538.3" font-size="34.5" font-weight="bold" text-anchor="middle">o</text>
<text x="380.4" y="569.2" font-size="34.5" font-weight="bold" text-anchor="middle">o</text>
<text x="411.3" y="600.1" font-size="34.5" font-weight="bold" text-anchor="middle">o</text>
<text x="442.2" y="631.0" font-size="34.5" font-weight="bold" text-anchor="middle">o</text>
<text x="473.0" y="661.8" font-size="34.5" font-weight="bold" text-anchor="middle">o</text>
<text x="503.9" y="692.7" font-size="34.5" font-weight="bold" text-anchor="middle">o</text>
<text x="534.8" y="723.6" font-size="34.5" font-weight="bold" text-anchor="middle">o</text>
<text x="565.7" y="754.5" font-size="34.5" font-weight="bold" text-anchor="middle">o</text>
<text x="596.6" y="785.4" font-size="34.5" font-weight="bold" text-anchor="middle">o</text>
<text x="627.5" y="816.3" font-size="34.5" font-weight="bold" text-anchor="middle">o</text>
<text x="658.3" y="847.1" font-size="34.5" font-weight="bold" text-anchor="middle">o</text>
<text x="689.2" y="878.0" font-size="34.5" font-weight="bold" text-anchor="middle">o</text>
<text x="720.1" y="908.9" font-size="34.5" font-weight="bold" text-anchor="middle">o</text>
<text x="751.0" y="939.8" font-size="34.5" font-weight="bold" text-anchor="middle">o</text>
<text x="781.9" y="970.7" font-size="34.5" font-weight="bold" text-anchor="middle">o</text>
<text x="812.8" y="1001.6" font-size="34.5" font-weight="bold" text-anchor="middle">o</text>
<text x="843.6" y="1032.4" font-size="34.5" font-weight="bold" text-anchor="middle">o</text>
<text x="874.5" y="1063.3" font-size="34.5" font-weight="bold" text-anchor="middle">o</text>
<text x="905.4" y="1094.2" font-size="34.5" font-weight="bold" text-anchor="middle">o</text>
<text x="936.3" y="1125.1" font-size="34.5" font-weight="bold" text-anchor="middle">o</text>
<text x="967.2" y="1156.0" font-size="34.5" font-weight="bold" text-anchor="middle">o</text>
<text x="998.0" y="1186.8" font-size="34.5" font-weight="bold" text-anchor="middle">o</text>
<text x="1028.9" y="1217.7" font-size="34.5" font-weight="bold" text-anchor="middle">o</text>
<text x="1059.8" y="1248.6" font-size="34.5" font-weight="bold" text-anchor="middle">o</text>
<text x="1090.7" y="1279.5" font-size="34.5" font-weight="bold" text-anchor="middle">o</text>
<text x="1121.6" y="1310.4" font-size="34.5" font-weight="bold" text-anchor="middle">o</text>
<text x="1152.5" y="1341.3" font-size="34.5" font-weight="bold" text-anchor="middle">o</text>
<text x="1183.3" y="1372.1" font-size="34.5" font-weight="bold" text-anchor="middle">o</text>
<text transform="translate(70.3 289.2) scale(1 1.03)" font-size="33.7" text-anchor="end">DHH</text>
<text transform="translate(101.2 320.1) scale(1 1.03)" font-size="33.7" text-anchor="end">DT<tspan dx="-3.0">A</tspan></text>
<text transform="translate(132.1 351.0) scale(1 1.03)" font-size="33.7" text-anchor="end">DTC</text>
<text transform="translate(162.9 381.8) scale(1 1.03)" font-size="33.7" text-anchor="end">DTH</text>
<text transform="translate(193.8 412.7) scale(1 1.03)" font-size="33.7" text-anchor="end">DTM</text>
<text transform="translate(224.7 443.6) scale(1 1.03)" font-size="33.7" text-anchor="end">DTT</text>
<text transform="translate(255.6 474.5) scale(1 1.03)" font-size="33.7" text-anchor="end">RIX</text>
<text transform="translate(286.5 505.4) scale(1 1.03)" font-size="33.7" text-anchor="end">RLC</text>
<text transform="translate(317.4 536.3) scale(1 1.03)" font-size="33.7" text-anchor="end">RLG</text>
<text transform="translate(348.2 567.1) scale(1 1.03)" font-size="33.7" text-anchor="end">RLX</text>
<text transform="translate(379.1 598.0) scale(1 1.03)" font-size="33.7" text-anchor="end">RSX</text>
<text transform="translate(410.0 628.9) scale(1 1.03)" font-size="33.7" text-anchor="end">SNP</text>
<text transform="translate(440.9 659.8) scale(1 1.03)" font-size="33.7" text-anchor="end">SNP<tspan dx="-0.7">.</tspan>exon</text>
<text transform="translate(471.8 690.7) scale(1 1.03)" font-size="33.7" text-anchor="end">SNP<tspan dx="-0.7">.</tspan>intron</text>
<text transform="translate(502.7 721.6) scale(1 1.03)" font-size="33.7" text-anchor="end">SNP<tspan dx="-0.7">.</tspan>intergenic</text>
<text transform="translate(533.5 752.4) scale(1 1.03)" font-size="33.7" text-anchor="end">Del</text>
<text transform="translate(564.4 783.3) scale(1 1.03)" font-size="33.7" text-anchor="end">Del.exon</text>
<text transform="translate(595.3 814.2) scale(1 1.03)" font-size="33.7" text-anchor="end">Del.intron</text>
<text transform="translate(626.2 845.1) scale(1 1.03)" font-size="33.7" text-anchor="end">Del.intergenic</text>
<text transform="translate(657.1 876.0) scale(1 1.03)" font-size="33.7" text-anchor="end">Ins</text>
<text transform="translate(688.0 906.9) scale(1 1.03)" font-size="33.7" text-anchor="end">Ins.exon</text>
<text transform="translate(718.8 937.7) scale(1 1.03)" font-size="33.7" text-anchor="end">Ins.intron</text>
<text transform="translate(749.7 968.6) scale(1 1.03)" font-size="33.7" text-anchor="end">Ins.intergenic</text>
<text transform="translate(780.6 999.5) scale(1 1.03)" font-size="33.7" text-anchor="end">Gene</text>
<text transform="translate(811.5 1030.4) scale(1 1.03)" font-size="33.7" text-anchor="end">Jp.recombination</text>
<text transform="translate(842.4 1061.3) scale(1 1.03)" font-size="33.7" text-anchor="end">In.recombination</text>
<text transform="translate(873.3 1092.2) scale(1 1.03)" font-size="33.7" text-anchor="end">H3K27me3</text>
<text transform="translate(904.1 1123.0) scale(1 1.03)" font-size="33.7" text-anchor="end">H3K36me3</text>
<text transform="translate(935.0 1153.9) scale(1 1.03)" font-size="33.7" text-anchor="end">H3K4me2</text>
<text transform="translate(965.9 1184.8) scale(1 1.03)" font-size="33.7" text-anchor="end">H3K4me3</text>
<text transform="translate(996.8 1215.7) scale(1 1.03)" font-size="33.7" text-anchor="end">H3K9ac</text>
<text transform="translate(1027.7 1246.6) scale(1 1.03)" font-size="33.7" text-anchor="end">H3K9me2</text>
<text transform="translate(1058.6 1277.5) scale(1 1.03)" font-size="33.7" text-anchor="end">H4K12ac</text>
<text transform="translate(1089.4 1308.3) scale(1 1.03)" font-size="33.7" text-anchor="end">CG</text>
<text transform="translate(1120.3 1339.2) scale(1 1.03)" font-size="33.7" text-anchor="end">CHG</text>
<text transform="translate(1151.2 1370.1) scale(1 1.03)" font-size="33.7" text-anchor="end">CHH</text>
<text transform="translate(114.0 253.8) rotate(-90) scale(1 1.03)" font-size="33.7">DHH</text>
<text transform="translate(144.9 253.8) rotate(-90) scale(1 1.03)" font-size="33.7">DT<tspan dx="-3.0">A</tspan></text>
<text transform="translate(175.8 253.8) rotate(-90) scale(1 1.03)" font-size="33.7">DTC</text>
<text transform="translate(206.7 253.8) rotate(-90) scale(1 1.03)" font-size="33.7">DTH</text>
<text transform="translate(237.6 253.8) rotate(-90) scale(1 1.03)" font-size="33.7">DTM</text>
<text transform="translate(268.5 253.8) rotate(-90) scale(1 1.03)" font-size="33.7">DTT</text>
<text transform="translate(299.3 253.8) rotate(-90) scale(1 1.03)" font-size="33.7">RIX</text>
<text transform="translate(330.2 253.8) rotate(-90) scale(1 1.03)" font-size="33.7">RLC</text>
<text transform="translate(361.1 253.8) rotate(-90) scale(1 1.03)" font-size="33.7">RLG</text>
<text transform="translate(392.0 253.8) rotate(-90) scale(1 1.03)" font-size="33.7">RLX</text>
<text transform="translate(422.9 253.8) rotate(-90) scale(1 1.03)" font-size="33.7">RSX</text>
<text transform="translate(453.8 253.8) rotate(-90) scale(1 1.03)" font-size="33.7">SNP</text>
<text transform="translate(484.6 253.8) rotate(-90) scale(1 1.03)" font-size="33.7">SNP<tspan dx="-0.7">.</tspan>exon</text>
<text transform="translate(515.5 253.8) rotate(-90) scale(1 1.03)" font-size="33.7">SNP<tspan dx="-0.7">.</tspan>intron</text>
<text transform="translate(546.4 253.8) rotate(-90) scale(1 1.03)" font-size="33.7">SNP<tspan dx="-0.7">.</tspan>intergenic</text>
<text transform="translate(577.3 253.8) rotate(-90) scale(1 1.03)" font-size="33.7">Del</text>
<text transform="translate(608.2 253.8) rotate(-90) scale(1 1.03)" font-size="33.7">Del.exon</text>
<text transform="translate(639.1 253.8) rotate(-90) scale(1 1.03)" font-size="33.7">Del.intron</text>
<text transform="translate(669.9 253.8) rotate(-90) scale(1 1.03)" font-size="33.7">Del.intergenic</text>
<text transform="translate(700.8 253.8) rotate(-90) scale(1 1.03)" font-size="33.7">Ins</text>
<text transform="translate(731.7 253.8) rotate(-90) scale(1 1.03)" font-size="33.7">Ins.exon</text>
<text transform="translate(762.6 253.8) rotate(-90) scale(1 1.03)" font-size="33.7">Ins.intron</text>
<text transform="translate(793.5 253.8) rotate(-90) scale(1 1.03)" font-size="33.7">Ins.intergenic</text>
<text transform="translate(824.4 253.8) rotate(-90) scale(1 1.03)" font-size="33.7">Gene</text>
<text transform="translate(855.2 253.8) rotate(-90) scale(1 1.03)" font-size="33.7">Jp.recombination</text>
<text transform="translate(886.1 253.8) rotate(-90) scale(1 1.03)" font-size="33.7">In.recombination</text>
<text transform="translate(917.0 253.8) rotate(-90) scale(1 1.03)" font-size="33.7">H3K27me3</text>
<text transform="translate(947.9 253.8) rotate(-90) scale(1 1.03)" font-size="33.7">H3K36me3</text>
<text transform="translate(978.8 253.8) rotate(-90) scale(1 1.03)" font-size="33.7">H3K4me2</text>
<text transform="translate(1009.6 253.8) rotate(-90) scale(1 1.03)" font-size="33.7">H3K4me3</text>
<text transform="translate(1040.5 253.8) rotate(-90) scale(1 1.03)" font-size="33.7">H3K9ac</text>
<text transform="translate(1071.4 253.8) rotate(-90) scale(1 1.03)" font-size="33.7">H3K9me2</text>
<text transform="translate(1102.3 253.8) rotate(-90) scale(1 1.03)" font-size="33.7">H4K12ac</text>
<text transform="translate(1133.2 253.8) rotate(-90) scale(1 1.03)" font-size="33.7">CG</text>
<text transform="translate(1164.1 253.8) rotate(-90) scale(1 1.03)" font-size="33.7">CHG</text>
<text transform="translate(1194.9 253.8) rotate(-90) scale(1 1.03)" font-size="33.7">CHH</text>
<rect x="1220.0" y="266.2" width="42.5" height="139.5" fill="#B2182B" transform="translate(0 0.4)"/>
<rect x="1220.0" y="405.2" width="42.5" height="139.5" fill="#D6604D" transform="translate(0 0.4)"/>
<rect x="1220.0" y="544.1" width="42.5" height="139.5" fill="#F4A582" transform="translate(0 0.4)"/>
<rect x="1220.0" y="683.1" width="42.5" height="139.5" fill="#FDDBC7" transform="translate(0 0.4)"/>
<rect x="1220.0" y="822.1" width="42.5" height="139.5" fill="#D1E5F0" transform="translate(0 0.4)"/>
<rect x="1220.0" y="961.1" width="42.5" height="139.5" fill="#92C5DE" transform="translate(0 0.4)"/>
<rect x="1220.0" y="1100.0" width="42.5" height="139.5" fill="#4393C3" transform="translate(0 0.4)"/>
<rect x="1220.0" y="1239.0" width="42.5" height="139.5" fill="#2166AC" transform="translate(0 0.4)"/>
<rect x="1220.0" y="266.2" width="42.5" height="1111.8" fill="none" stroke="#000" stroke-width="1.9"/>
<path d="M1262.5 266.2H1272" stroke="#000" stroke-width="1.9" fill="none"/>
<text x="1315.3" y="276.2" font-size="28.0" text-anchor="middle">1</text>
<path d="M1262.5 405.2H1272" stroke="#000" stroke-width="1.9" fill="none"/>
<text x="1315.3" y="415.2" font-size="28.0" text-anchor="middle">0.75</text>
<path d="M1262.5 544.1H1272" stroke="#000" stroke-width="1.9" fill="none"/>
<text x="1315.3" y="554.1" font-size="28.0" text-anchor="middle">0.5</text>
<path d="M1262.5 683.1H1272" stroke="#000" stroke-width="1.9" fill="none"/>
<text x="1315.3" y="693.1" font-size="28.0" text-anchor="middle">0.25</text>
<path d="M1262.5 822.1H1272" stroke="#000" stroke-width="1.9" fill="none"/>
<text x="1315.3" y="832.1" font-size="28.0" text-anchor="middle">0</text>
<path d="M1262.5 961.1H1272" stroke="#000" stroke-width="1.9" fill="none"/>
<text x="1315.3" y="971.1" font-size="28.0" text-anchor="middle">−0.25</text>
<path d="M1262.5 1100.0H1272" stroke="#000" stroke-width="1.9" fill="none"/>
<text x="1315.3" y="1110.0" font-size="28.0" text-anchor="middle">−0.5</text>
<path d="M1262.5 1239.0H1272" stroke="#000" stroke-width="1.9" fill="none"/>
<text x="1315.3" y="1249.0" font-size="28.0" text-anchor="middle">−0.75</text>
<path d="M1262.5 1378.0H1272" stroke="#000" stroke-width="1.9" fill="none"/>
<text x="1315.3" y="1388.0" font-size="28.0" text-anchor="middle">−1</text>
</svg></body></html>
